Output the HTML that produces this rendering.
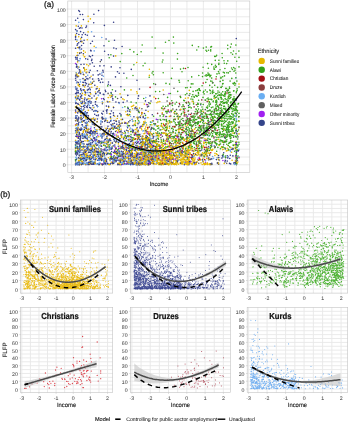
<!DOCTYPE html>
<html><head><meta charset="utf-8"><title>Figure</title>
<style>html,body{margin:0;padding:0;background:#fff;width:350px;height:424px;overflow:hidden}svg{display:block;text-rendering:geometricPrecision}text{font-family:'Liberation Sans', Arial, sans-serif}</style>
</head><body>
<svg width="350" height="424" viewBox="0 0 350 424" font-family="'Liberation Sans', Arial, sans-serif"><rect x="67.8" y="1.0" width="182.00" height="171.30" fill="#fff"/>
<path d="M71.60 1.0V172.3M88.07 1.0V172.3M104.55 1.0V172.3M121.03 1.0V172.3M137.50 1.0V172.3M153.97 1.0V172.3M170.45 1.0V172.3M186.93 1.0V172.3M203.40 1.0V172.3M219.88 1.0V172.3M236.35 1.0V172.3M67.8 164.80H249.8M67.8 157.01H249.8M67.8 149.22H249.8M67.8 141.43H249.8M67.8 133.64H249.8M67.8 125.85H249.8M67.8 118.06H249.8M67.8 110.27H249.8M67.8 102.48H249.8M67.8 94.69H249.8M67.8 86.90H249.8M67.8 79.11H249.8M67.8 71.32H249.8M67.8 63.53H249.8M67.8 55.74H249.8M67.8 47.95H249.8M67.8 40.16H249.8M67.8 32.37H249.8M67.8 24.58H249.8M67.8 16.79H249.8M67.8 9.00H249.8" stroke="#e8e8e8" stroke-width="0.9" fill="none"/>
<rect x="20.5" y="200.0" width="92.20" height="93.10" fill="#fff"/>
<path d="M21.80 200.0V293.1M30.38 200.0V293.1M38.95 200.0V293.1M47.52 200.0V293.1M56.10 200.0V293.1M64.67 200.0V293.1M73.25 200.0V293.1M81.82 200.0V293.1M90.40 200.0V293.1M98.97 200.0V293.1M107.55 200.0V293.1M20.5 289.00H112.7M20.5 284.76H112.7M20.5 280.52H112.7M20.5 276.28H112.7M20.5 272.04H112.7M20.5 267.80H112.7M20.5 263.56H112.7M20.5 259.32H112.7M20.5 255.08H112.7M20.5 250.84H112.7M20.5 246.60H112.7M20.5 242.36H112.7M20.5 238.12H112.7M20.5 233.88H112.7M20.5 229.64H112.7M20.5 225.40H112.7M20.5 221.16H112.7M20.5 216.92H112.7M20.5 212.68H112.7M20.5 208.44H112.7M20.5 204.20H112.7" stroke="#e8e8e8" stroke-width="0.9" fill="none"/>
<rect x="130.3" y="200.0" width="100.30" height="93.10" fill="#fff"/>
<path d="M131.90 200.0V293.1M141.05 200.0V293.1M150.20 200.0V293.1M159.35 200.0V293.1M168.50 200.0V293.1M177.65 200.0V293.1M186.80 200.0V293.1M195.95 200.0V293.1M205.10 200.0V293.1M214.25 200.0V293.1M223.40 200.0V293.1M130.3 289.00H230.6M130.3 284.76H230.6M130.3 280.52H230.6M130.3 276.28H230.6M130.3 272.04H230.6M130.3 267.80H230.6M130.3 263.56H230.6M130.3 259.32H230.6M130.3 255.08H230.6M130.3 250.84H230.6M130.3 246.60H230.6M130.3 242.36H230.6M130.3 238.12H230.6M130.3 233.88H230.6M130.3 229.64H230.6M130.3 225.40H230.6M130.3 221.16H230.6M130.3 216.92H230.6M130.3 212.68H230.6M130.3 208.44H230.6M130.3 204.20H230.6" stroke="#e8e8e8" stroke-width="0.9" fill="none"/>
<rect x="247.2" y="200.0" width="100.50" height="93.10" fill="#fff"/>
<path d="M248.60 200.0V293.1M257.85 200.0V293.1M267.10 200.0V293.1M276.35 200.0V293.1M285.60 200.0V293.1M294.85 200.0V293.1M304.10 200.0V293.1M313.35 200.0V293.1M322.60 200.0V293.1M331.85 200.0V293.1M341.10 200.0V293.1M247.2 289.00H347.7M247.2 284.76H347.7M247.2 280.52H347.7M247.2 276.28H347.7M247.2 272.04H347.7M247.2 267.80H347.7M247.2 263.56H347.7M247.2 259.32H347.7M247.2 255.08H347.7M247.2 250.84H347.7M247.2 246.60H347.7M247.2 242.36H347.7M247.2 238.12H347.7M247.2 233.88H347.7M247.2 229.64H347.7M247.2 225.40H347.7M247.2 221.16H347.7M247.2 216.92H347.7M247.2 212.68H347.7M247.2 208.44H347.7M247.2 204.20H347.7" stroke="#e8e8e8" stroke-width="0.9" fill="none"/>
<rect x="20.5" y="307.4" width="92.20" height="85.20" fill="#fff"/>
<path d="M21.80 307.4V392.6M30.38 307.4V392.6M38.95 307.4V392.6M47.52 307.4V392.6M56.10 307.4V392.6M64.67 307.4V392.6M73.25 307.4V392.6M81.82 307.4V392.6M90.40 307.4V392.6M98.97 307.4V392.6M107.55 307.4V392.6M20.5 389.00H112.7M20.5 385.12H112.7M20.5 381.23H112.7M20.5 377.35H112.7M20.5 373.46H112.7M20.5 369.57H112.7M20.5 365.69H112.7M20.5 361.81H112.7M20.5 357.92H112.7M20.5 354.03H112.7M20.5 350.15H112.7M20.5 346.26H112.7M20.5 342.38H112.7M20.5 338.50H112.7M20.5 334.61H112.7M20.5 330.73H112.7M20.5 326.84H112.7M20.5 322.95H112.7M20.5 319.07H112.7M20.5 315.19H112.7M20.5 311.30H112.7" stroke="#e8e8e8" stroke-width="0.9" fill="none"/>
<rect x="130.3" y="307.4" width="100.30" height="85.20" fill="#fff"/>
<path d="M131.90 307.4V392.6M141.05 307.4V392.6M150.20 307.4V392.6M159.35 307.4V392.6M168.50 307.4V392.6M177.65 307.4V392.6M186.80 307.4V392.6M195.95 307.4V392.6M205.10 307.4V392.6M214.25 307.4V392.6M223.40 307.4V392.6M130.3 389.00H230.6M130.3 385.12H230.6M130.3 381.23H230.6M130.3 377.35H230.6M130.3 373.46H230.6M130.3 369.57H230.6M130.3 365.69H230.6M130.3 361.81H230.6M130.3 357.92H230.6M130.3 354.03H230.6M130.3 350.15H230.6M130.3 346.26H230.6M130.3 342.38H230.6M130.3 338.50H230.6M130.3 334.61H230.6M130.3 330.73H230.6M130.3 326.84H230.6M130.3 322.95H230.6M130.3 319.07H230.6M130.3 315.19H230.6M130.3 311.30H230.6" stroke="#e8e8e8" stroke-width="0.9" fill="none"/>
<rect x="247.2" y="307.4" width="100.50" height="85.20" fill="#fff"/>
<path d="M248.60 307.4V392.6M257.85 307.4V392.6M267.10 307.4V392.6M276.35 307.4V392.6M285.60 307.4V392.6M294.85 307.4V392.6M304.10 307.4V392.6M313.35 307.4V392.6M322.60 307.4V392.6M331.85 307.4V392.6M341.10 307.4V392.6M247.2 389.00H347.7M247.2 385.12H347.7M247.2 381.23H347.7M247.2 377.35H347.7M247.2 373.46H347.7M247.2 369.57H347.7M247.2 365.69H347.7M247.2 361.81H347.7M247.2 357.92H347.7M247.2 354.03H347.7M247.2 350.15H347.7M247.2 346.26H347.7M247.2 342.38H347.7M247.2 338.50H347.7M247.2 334.61H347.7M247.2 330.73H347.7M247.2 326.84H347.7M247.2 322.95H347.7M247.2 319.07H347.7M247.2 315.19H347.7M247.2 311.30H347.7" stroke="#e8e8e8" stroke-width="0.9" fill="none"/>
<path d="M77.1 76.9h0M120.2 156.5h0M85.1 157.2h0M78.3 137.9h0M89.9 96.2h0M78.7 163.1h0M236.3 38.6h0M147.8 160.2h0M138.1 98.5h0M90.9 103.3h0M112.6 128.0h0M140.1 164.0h0M81.6 45.5h0M90.6 50.3h0M88.6 121.2h0M86.6 134.8h0M145.3 161.8h0M146.2 135.6h0M236.1 163.2h0M165.0 160.5h0M227.3 155.7h0M134.7 164.3h0M121.4 151.3h0M104.9 162.9h0M108.3 142.4h0M145.6 148.0h0M85.9 164.7h0M76.8 89.9h0M123.3 160.3h0M78.9 34.5h0M79.4 134.1h0M81.2 98.2h0M170.5 163.0h0M149.3 152.6h0M152.5 151.6h0M90.7 119.3h0M145.9 110.2h0M127.6 111.0h0M95.8 131.6h0M136.9 154.6h0M113.6 161.2h0M107.4 149.9h0M85.4 34.5h0M110.9 156.9h0M94.4 127.8h0M99.6 158.8h0M102.4 103.8h0M101.2 146.0h0M160.4 152.2h0M94.8 85.3h0M83.1 136.1h0M132.5 156.2h0M107.4 134.0h0M125.8 156.9h0M77.7 18.2h0M102.0 164.3h0M77.2 142.1h0M236.0 162.1h0M113.6 22.3h0M78.5 117.2h0M100.2 93.2h0M86.4 150.9h0M227.2 161.1h0M87.3 135.1h0M77.1 45.2h0M218.5 155.5h0M75.7 111.9h0M129.0 163.7h0M109.3 149.0h0M86.2 72.7h0M236.6 152.0h0M81.7 121.6h0M94.3 149.6h0M111.2 131.5h0M90.2 133.3h0M78.6 98.6h0M75.6 78.2h0M132.3 156.1h0M128.4 136.5h0M99.5 129.5h0M94.5 131.6h0M153.7 136.2h0M208.5 159.8h0M151.9 152.7h0M153.1 120.9h0M125.6 122.8h0M146.1 162.7h0M144.8 152.5h0M115.6 91.1h0M85.4 131.0h0M78.3 26.2h0M80.5 96.9h0M115.9 102.0h0M77.1 129.5h0M83.4 115.8h0M106.2 147.3h0M146.2 131.9h0M98.3 156.2h0M81.9 111.1h0M115.5 76.9h0M78.5 141.3h0M90.6 143.8h0M149.2 142.6h0M78.4 124.9h0M78.4 76.5h0M79.4 132.5h0M76.4 136.4h0M78.0 134.8h0M153.9 129.0h0M132.6 163.2h0M78.6 47.6h0M102.9 159.3h0M76.7 163.4h0M110.2 159.1h0M82.2 101.3h0M79.5 111.1h0M83.4 19.6h0M236.5 144.8h0M140.0 160.9h0M140.0 127.9h0M206.5 153.0h0M198.8 145.7h0M87.6 132.1h0M111.6 151.5h0M90.1 163.3h0M87.3 119.2h0M103.3 94.3h0M123.2 102.4h0M80.9 129.2h0M75.6 152.1h0M83.8 153.5h0M75.6 87.0h0M83.8 137.9h0M119.2 129.2h0M119.7 160.8h0M78.8 111.5h0M103.7 160.9h0M172.0 147.3h0M78.0 128.1h0M91.7 139.4h0M146.9 159.5h0M94.7 114.2h0M149.8 155.2h0M115.0 153.0h0M135.3 163.5h0M114.8 145.0h0M124.4 163.5h0M136.5 153.1h0M106.6 161.8h0M100.4 82.4h0M130.8 164.5h0M115.9 160.2h0M113.4 133.4h0M94.2 66.2h0M97.5 106.6h0M86.7 128.2h0M128.7 151.0h0M87.0 157.8h0M132.6 162.5h0M93.8 159.1h0M130.8 141.8h0M115.0 126.3h0M163.5 164.2h0M91.5 119.2h0M136.2 160.7h0M82.7 158.6h0M77.2 136.3h0M234.7 162.8h0M85.2 150.0h0M91.7 157.0h0M102.0 138.0h0M181.9 151.9h0M102.0 75.3h0M97.8 163.8h0M79.5 47.9h0M192.1 159.5h0M79.5 164.6h0M235.9 147.4h0M91.7 133.9h0M122.0 147.1h0M89.4 156.1h0M223.7 152.8h0M84.0 64.3h0M132.2 152.9h0M110.7 140.5h0M112.3 148.0h0M139.5 89.0h0M153.1 159.6h0M116.9 153.5h0M79.2 109.7h0M76.8 143.6h0M76.4 67.1h0M106.4 129.8h0M87.2 163.1h0M88.7 162.3h0M112.6 95.0h0M147.9 137.7h0M90.6 43.5h0M95.6 151.3h0M78.0 144.1h0M108.1 164.3h0M132.6 154.1h0M154.9 123.7h0M112.7 146.3h0M236.5 164.6h0M133.0 125.6h0M85.9 76.7h0M117.8 163.9h0M109.2 122.4h0M105.0 158.3h0M140.8 136.3h0M127.9 130.7h0M196.5 162.4h0M83.2 85.6h0M182.5 147.2h0M90.1 150.7h0M143.3 143.1h0" stroke="#363F88" stroke-width="1.6" stroke-linecap="round" fill="none"/>
<path d="M189.3 156.2h0M151.1 156.6h0M193.0 160.5h0M125.1 159.2h0M83.2 110.2h0M155.9 132.7h0M101.2 151.7h0M163.3 145.9h0M87.9 141.0h0M98.6 164.5h0M146.3 137.7h0M141.1 159.2h0M170.2 157.4h0M125.2 145.8h0M161.0 147.4h0M163.1 158.9h0M88.6 150.1h0M135.1 163.7h0M138.6 161.8h0M101.0 154.1h0M140.5 164.0h0M157.5 144.5h0M176.1 162.3h0M155.5 155.5h0M169.4 163.8h0M148.5 140.6h0M190.7 163.1h0M87.6 125.2h0M152.7 154.0h0M80.5 157.6h0M109.4 113.7h0M167.8 147.2h0M183.9 138.6h0M207.2 155.5h0M101.6 136.4h0M147.4 138.1h0M148.6 163.5h0M179.2 159.6h0M212.4 122.8h0M84.7 86.9h0M144.2 156.0h0M187.1 161.8h0M128.6 163.0h0M94.2 46.4h0M160.5 146.6h0M148.4 163.0h0M140.8 156.3h0M164.8 159.2h0M116.3 158.4h0M167.3 152.0h0M93.5 130.9h0M194.8 164.4h0M79.9 160.6h0M206.2 139.3h0M154.0 97.1h0M140.4 163.3h0M177.1 134.7h0M156.5 160.1h0M87.2 159.4h0M173.2 150.7h0M162.5 145.0h0M77.7 47.5h0M84.2 113.1h0M122.4 123.0h0M142.4 142.6h0M105.7 134.4h0M123.4 153.1h0M93.9 124.0h0M157.2 155.2h0M122.0 162.2h0M146.7 163.4h0M126.4 157.8h0M153.5 153.7h0M182.7 162.1h0M154.7 152.3h0M203.2 146.9h0M167.3 153.6h0M129.1 148.3h0M95.1 144.8h0M163.5 156.1h0M119.8 164.5h0M90.2 145.1h0M142.9 149.1h0M197.5 133.0h0M190.8 148.1h0M88.6 155.6h0M206.5 152.1h0M148.0 154.7h0M204.6 164.8h0M100.5 143.8h0M136.9 164.5h0M227.2 148.3h0M129.5 162.0h0M194.2 162.5h0M177.6 151.1h0M218.5 139.3h0M188.5 163.1h0M145.3 162.0h0M193.1 160.8h0M161.5 149.3h0M178.1 160.3h0M184.8 157.1h0M81.3 142.5h0M145.2 144.9h0M159.9 162.5h0M227.9 150.6h0M166.6 163.4h0M89.4 164.2h0M129.1 161.2h0M159.2 151.5h0M170.7 163.4h0M163.9 163.3h0M142.8 155.0h0M169.7 103.0h0M170.9 155.2h0M191.2 163.7h0M162.3 159.4h0M144.5 150.8h0M109.5 131.5h0M182.4 125.7h0M142.0 158.3h0M137.0 117.3h0M101.5 155.8h0M207.9 164.4h0M232.1 160.2h0M182.5 142.6h0M168.9 133.5h0M97.2 121.5h0M145.9 151.7h0M194.8 162.0h0M155.4 155.1h0M186.8 156.7h0M160.2 154.7h0M111.5 128.4h0M218.1 162.6h0M163.2 109.7h0M155.5 160.4h0M91.1 76.3h0M170.1 156.2h0M155.5 153.4h0M148.2 164.7h0M139.2 162.1h0M141.9 150.5h0M145.8 127.1h0M188.0 151.8h0M209.2 126.3h0M152.6 146.5h0M143.0 156.5h0M131.5 147.1h0M197.9 148.8h0M144.7 133.4h0M210.9 149.6h0M147.5 159.4h0M140.6 162.0h0M143.4 141.9h0M92.5 82.4h0M126.3 145.3h0M146.6 155.9h0M158.0 101.9h0M144.9 146.4h0M142.3 150.7h0M171.6 161.7h0M75.6 106.9h0M170.3 157.7h0M134.3 134.9h0M145.5 157.5h0M193.4 131.4h0M148.4 164.6h0M84.3 56.7h0M167.8 158.9h0M169.5 153.0h0M167.1 155.0h0M144.9 154.6h0M151.8 152.2h0M159.2 155.1h0M181.0 163.2h0M109.9 95.5h0M146.4 164.2h0M104.6 155.5h0M155.8 143.3h0M162.3 144.7h0M77.6 61.9h0M136.2 157.2h0M115.9 120.3h0M154.9 164.0h0M149.7 160.5h0M106.5 133.8h0M150.9 162.8h0M75.6 153.6h0M194.5 163.3h0M131.4 163.4h0M119.0 132.2h0M133.0 140.0h0M155.2 140.7h0M190.0 152.6h0M108.4 157.7h0M160.9 164.5h0M84.3 120.7h0M177.3 155.5h0M146.6 130.1h0M124.7 122.2h0M205.3 123.0h0M91.3 84.1h0M141.2 158.7h0M181.9 153.7h0M226.4 150.9h0M83.6 50.9h0M166.5 154.2h0M111.6 158.9h0M164.3 150.1h0M85.3 116.5h0M172.5 158.1h0M122.8 98.9h0M166.0 160.8h0M85.7 154.4h0M166.2 159.9h0M84.0 74.9h0M153.8 145.2h0M117.7 126.2h0M145.1 163.9h0M172.5 155.4h0M85.0 163.5h0M112.7 136.7h0M236.8 144.6h0M108.5 134.4h0M79.5 105.0h0M162.3 112.7h0M128.6 163.6h0M78.3 85.5h0M203.8 163.4h0M146.7 164.0h0M169.8 155.6h0M123.7 154.4h0M161.0 142.7h0M128.1 126.0h0M90.7 138.9h0M145.0 130.9h0M86.4 69.5h0M205.6 164.1h0M80.5 106.2h0M207.3 163.0h0M176.5 113.3h0M156.5 162.4h0M198.6 144.2h0M173.1 163.9h0M76.2 72.9h0" stroke="#E6B800" stroke-width="1.6" stroke-linecap="round" fill="none"/>
<path d="M76.2 157.1h0M192.6 158.4h0M99.4 163.9h0M230.5 151.6h0M133.9 160.9h0M128.2 160.0h0M122.6 107.5h0M83.0 147.2h0M178.8 160.3h0M83.3 150.9h0M114.8 162.4h0M198.7 154.6h0M75.6 148.0h0M77.1 151.1h0M96.5 143.2h0M76.5 83.0h0M80.0 149.2h0M171.9 147.3h0M228.3 156.5h0M83.3 159.6h0M80.0 110.8h0M236.5 119.9h0M145.8 159.4h0M83.8 105.4h0M210.4 159.2h0M131.5 164.5h0M85.3 159.6h0M102.5 156.0h0M113.8 157.5h0M77.1 31.5h0M79.9 163.0h0M104.6 155.9h0M80.5 159.8h0M125.0 164.5h0M189.9 154.3h0M140.2 153.6h0M84.9 151.9h0M128.9 140.6h0M118.0 142.1h0M154.1 156.6h0M89.6 137.5h0M75.6 151.4h0M156.4 154.5h0M140.1 152.7h0M152.6 163.2h0M141.9 149.4h0M152.1 143.3h0M122.7 162.3h0M82.7 126.2h0M81.6 135.1h0M131.1 148.6h0M130.3 146.0h0M110.7 117.1h0M92.0 151.3h0M77.6 163.3h0M130.4 128.1h0M80.1 79.8h0M81.1 152.2h0M125.2 160.9h0M96.4 130.4h0M94.2 50.9h0M100.8 145.1h0M96.0 47.5h0M95.1 157.7h0M101.8 37.5h0M78.1 158.5h0M95.5 157.3h0M82.0 162.9h0M230.4 150.2h0M128.8 154.7h0M101.8 73.0h0M143.0 161.9h0M109.8 158.5h0M131.8 157.8h0M193.7 163.8h0M149.5 146.2h0M133.7 144.2h0" stroke="#6AA8EE" stroke-width="1.6" stroke-linecap="round" fill="none"/>
<path d="M221.3 87.5h0M236.3 142.4h0M198.5 46.8h0M183.1 106.0h0M209.4 106.1h0M130.6 153.2h0M134.8 139.5h0M165.8 106.5h0M216.5 144.9h0M211.7 64.4h0M233.4 145.5h0M206.8 114.4h0M222.6 147.3h0M228.4 127.4h0M200.9 126.2h0M174.3 137.6h0M162.9 60.0h0M181.2 119.2h0M121.0 116.1h0M166.6 116.5h0M183.0 146.9h0M206.6 128.9h0M186.2 129.4h0M203.2 128.8h0M235.1 113.0h0M228.7 111.6h0M135.5 133.5h0M213.9 67.1h0M136.6 155.5h0M194.0 141.4h0M128.2 125.6h0M141.1 51.7h0M222.0 99.0h0M202.0 117.0h0M163.5 141.1h0M167.1 127.9h0M211.7 78.1h0M232.5 128.7h0M236.6 159.2h0M223.1 103.4h0M230.4 105.5h0M235.1 126.2h0M224.6 108.9h0M169.9 122.7h0M236.0 53.8h0M228.3 104.9h0M215.1 113.9h0M123.4 148.1h0M206.7 128.9h0M219.5 95.3h0M222.6 83.9h0M172.9 146.2h0M173.4 37.1h0M160.1 115.9h0M149.2 140.5h0M209.0 122.1h0M200.8 127.6h0M227.8 114.6h0M219.0 94.9h0M192.1 126.4h0M227.3 134.3h0M229.1 98.7h0M199.0 134.0h0M170.4 93.5h0M228.3 100.9h0M207.5 75.2h0M219.1 73.4h0M211.6 120.9h0M172.2 141.1h0M193.1 117.2h0M235.0 70.3h0M194.3 97.3h0M207.1 98.7h0M228.5 112.3h0M233.1 114.8h0M188.2 120.8h0M207.2 111.1h0M203.6 112.3h0M163.9 128.7h0M231.2 118.4h0M197.9 151.6h0M177.7 91.4h0M219.0 115.7h0M231.0 142.0h0M227.5 119.7h0M176.5 102.2h0M165.5 42.2h0M236.5 91.5h0M225.5 92.8h0M149.2 77.3h0M229.8 126.2h0M120.2 61.6h0M233.9 90.8h0M191.7 76.9h0M191.4 128.8h0M213.6 122.4h0M126.0 136.6h0M183.1 130.6h0M220.2 120.8h0M177.4 59.1h0M238.0 146.0h0M220.8 113.3h0M239.0 66.9h0M232.7 123.6h0M188.0 67.5h0M235.8 130.6h0M212.0 130.9h0M216.2 102.3h0M198.6 100.2h0M191.2 146.1h0M187.0 138.9h0M147.1 137.7h0M121.8 53.6h0M228.4 90.2h0M202.5 76.6h0M223.5 108.5h0M178.4 129.3h0M221.2 97.4h0M163.8 114.9h0M237.2 112.1h0M218.5 71.6h0M162.3 62.0h0M214.4 116.4h0M176.4 155.1h0M198.0 112.3h0M178.6 122.2h0M136.2 102.9h0M202.0 107.0h0M229.0 130.1h0M198.3 123.6h0M222.8 134.3h0M184.5 100.8h0M195.8 90.7h0M231.8 107.9h0M86.5 156.9h0M208.6 124.2h0M202.7 109.3h0M224.6 102.5h0M226.7 102.0h0M188.9 150.8h0M198.2 146.4h0M225.1 96.0h0M225.7 109.9h0M116.8 139.0h0M205.5 113.9h0M100.3 157.7h0M236.9 106.9h0M235.6 156.1h0M198.5 95.2h0M197.0 113.6h0M220.8 120.7h0M223.3 72.2h0M163.2 116.3h0M162.9 127.3h0M208.0 73.1h0M200.1 112.1h0M206.9 114.6h0M228.1 118.6h0M133.8 51.9h0M214.7 147.8h0M171.1 158.4h0M226.4 116.1h0M153.1 128.6h0M196.8 144.5h0M194.9 113.9h0M212.9 118.6h0M158.0 128.6h0M171.8 122.0h0M223.3 126.9h0M210.0 99.2h0M130.0 49.5h0M178.9 126.9h0M103.4 153.1h0M146.2 144.3h0M208.2 75.2h0M214.5 127.1h0M221.7 121.4h0M214.7 85.3h0M190.6 120.7h0M124.4 89.9h0M225.5 156.0h0M191.4 137.9h0M160.0 150.8h0M201.3 129.2h0M228.6 129.9h0M220.5 144.0h0M231.7 113.8h0M216.0 107.1h0M233.0 121.7h0M134.1 148.1h0M157.8 131.9h0M153.2 128.3h0M221.6 105.4h0M175.1 111.4h0M183.7 121.0h0M174.7 111.5h0M235.4 109.1h0M191.4 120.2h0M206.8 123.6h0M212.2 111.2h0M185.7 148.2h0M184.0 130.8h0M200.9 143.7h0M202.1 120.4h0M192.5 131.1h0M218.0 132.6h0M84.8 136.2h0M213.5 126.3h0M187.6 137.4h0M141.1 142.6h0M204.2 130.6h0M212.1 87.2h0M235.8 125.5h0M198.4 92.6h0M197.7 104.2h0M189.9 130.9h0M181.2 114.8h0M197.7 103.3h0M206.6 116.9h0M203.9 125.3h0M229.2 121.6h0M189.6 133.4h0M227.5 110.1h0M109.3 147.5h0M230.8 105.7h0M126.7 78.0h0M221.4 134.5h0" stroke="#3AA51E" stroke-width="1.6" stroke-linecap="round" fill="none"/>
<path d="M205.1 100.0h0M199.6 148.4h0M166.9 113.1h0M130.0 163.9h0M213.0 114.2h0M210.8 164.6h0M174.2 119.3h0M205.3 109.6h0M75.6 120.7h0M189.5 119.0h0M178.8 106.6h0M114.2 152.4h0M135.6 148.4h0M143.4 156.2h0M95.4 151.7h0M193.5 151.1h0M203.7 125.9h0M119.1 122.5h0M112.2 143.0h0M188.2 123.8h0M161.2 164.7h0M177.8 137.0h0M132.9 150.0h0M223.6 144.7h0M213.8 126.4h0M179.4 157.3h0M196.3 143.3h0M137.4 164.7h0M102.7 133.6h0M224.4 113.8h0M148.8 138.0h0M171.0 103.7h0M184.2 159.5h0M178.9 141.8h0M167.5 141.5h0M88.9 152.2h0M166.6 139.0h0M137.9 161.4h0M187.4 119.6h0M151.0 156.1h0M166.7 164.2h0M228.8 127.5h0M188.9 164.8h0M218.6 116.4h0M121.1 154.8h0M172.9 109.1h0M145.3 153.4h0M210.6 159.3h0M150.3 164.3h0M197.6 148.2h0" stroke="#5A5A5A" stroke-width="1.6" stroke-linecap="round" fill="none"/>
<path d="M163.9 132.8h0M112.4 161.9h0M114.7 150.4h0M122.1 156.9h0M75.6 63.5h0M222.9 160.5h0M218.2 118.4h0M133.1 157.1h0M104.3 140.8h0M85.6 152.4h0M168.4 149.5h0M194.8 163.0h0M182.3 151.4h0M164.8 156.2h0M189.0 153.1h0M134.1 143.0h0M123.1 160.6h0M126.0 123.2h0M235.5 160.2h0" stroke="#A020F0" stroke-width="1.6" stroke-linecap="round" fill="none"/>
<path d="M210.7 152.7h0M185.4 68.5h0M171.2 162.3h0M189.0 142.3h0M203.2 83.1h0M206.8 128.2h0M173.2 147.6h0M198.6 159.9h0M188.4 102.1h0M177.7 142.8h0M194.5 136.5h0M191.6 158.2h0M182.9 143.3h0" stroke="#C0101E" stroke-width="1.6" stroke-linecap="round" fill="none"/>
<path d="M190.0 143.9h0M206.9 116.4h0M179.5 125.3h0M194.5 134.9h0M184.2 115.9h0M155.5 123.9h0M180.0 116.6h0M189.9 118.6h0M211.3 124.2h0M150.1 161.7h0M190.2 118.9h0M197.0 150.5h0M203.2 117.6h0M172.7 126.8h0M203.0 117.7h0M189.8 118.2h0M208.9 158.0h0M179.2 128.5h0" stroke="#8E3A40" stroke-width="1.6" stroke-linecap="round" fill="none"/>
<path d="M86.4 159.5h0M107.5 128.2h0M90.8 142.8h0M103.4 98.5h0M101.2 159.1h0M115.6 131.5h0M147.8 143.7h0M124.0 153.7h0M122.8 146.8h0M78.0 150.0h0M129.4 143.6h0M81.2 90.6h0M236.7 160.6h0M135.3 162.1h0M76.6 33.5h0M138.5 134.5h0M109.9 144.9h0M133.5 144.6h0M123.3 153.8h0M85.3 111.8h0M89.9 155.2h0M100.5 129.7h0M97.8 145.0h0M225.7 157.6h0M81.3 117.4h0M87.3 139.1h0M211.8 158.9h0M235.9 157.7h0M133.9 116.7h0M103.9 160.9h0M90.2 131.5h0M143.2 152.6h0M141.7 114.0h0M78.1 148.1h0M114.6 151.9h0M81.3 129.4h0M92.4 62.7h0M75.6 118.1h0M122.4 146.6h0M105.3 90.3h0M95.4 163.3h0M160.6 150.9h0M150.0 95.9h0M90.3 144.9h0M92.3 132.0h0M89.7 133.0h0M92.5 151.9h0M103.3 129.5h0M79.0 161.9h0M98.6 140.9h0M89.0 102.0h0M78.5 104.2h0M96.9 148.8h0M95.7 143.8h0M145.6 156.4h0M79.6 146.5h0M141.9 148.7h0M93.5 118.4h0M111.8 125.7h0M86.7 163.1h0M83.1 85.4h0M90.5 144.5h0M112.9 128.7h0M148.4 159.1h0M76.0 59.1h0M86.9 148.4h0M128.5 156.9h0M116.8 124.3h0M81.8 41.2h0M77.1 130.6h0M236.4 98.7h0M108.0 153.1h0M237.2 158.6h0M102.8 82.3h0M137.9 148.6h0M80.5 144.5h0M75.6 151.0h0M77.7 164.6h0M93.4 156.8h0M80.9 159.7h0M153.2 146.4h0M106.8 154.6h0M82.9 82.2h0M236.3 155.4h0M124.7 131.3h0M132.3 119.5h0M119.5 164.1h0M81.9 158.9h0M126.6 137.0h0M135.3 107.6h0M88.1 163.1h0M75.6 97.4h0M99.1 90.5h0M105.9 150.6h0M98.8 80.6h0M138.8 164.7h0M119.0 121.0h0M97.1 133.4h0M133.0 164.6h0M76.2 124.8h0M98.4 149.1h0M181.0 162.8h0M79.5 108.5h0M100.8 124.1h0M229.5 163.4h0M79.2 143.7h0M188.5 105.5h0M148.9 139.4h0M77.1 57.6h0M80.2 14.5h0M97.1 144.9h0M92.5 55.5h0M78.5 164.2h0M113.8 161.1h0M95.9 93.3h0M131.0 157.1h0M75.6 163.2h0M76.6 159.1h0M148.6 153.7h0M140.9 163.5h0M153.8 141.3h0M135.9 145.2h0M114.6 127.4h0M148.4 152.0h0M83.6 117.1h0M120.2 162.5h0M81.6 95.3h0M221.9 158.1h0M131.9 131.3h0M83.9 143.9h0M84.0 163.5h0M168.8 153.4h0M77.0 134.4h0M82.2 34.8h0M85.0 91.8h0M83.9 144.2h0M79.6 163.2h0M150.1 163.2h0M114.4 123.3h0M105.7 91.6h0M121.1 131.1h0M149.6 127.1h0M99.1 80.2h0M95.4 104.2h0M142.7 136.4h0M89.5 102.4h0M79.5 11.5h0M91.8 163.4h0M93.7 22.7h0M106.5 110.4h0M90.6 143.0h0M77.3 163.0h0M120.9 147.1h0M225.0 161.9h0M75.8 159.8h0M123.5 138.9h0M176.1 145.1h0M116.3 151.6h0M118.6 156.2h0M153.4 163.3h0M118.6 125.3h0M139.7 164.7h0M88.0 164.6h0M80.6 112.7h0M238.0 151.1h0M188.9 135.6h0M79.9 147.6h0M75.6 36.4h0M99.9 74.1h0M89.1 156.7h0M218.6 164.2h0M90.2 135.8h0M91.9 59.2h0M84.7 107.3h0M103.2 72.1h0M110.8 153.7h0M77.7 112.9h0M88.8 95.5h0M147.3 136.5h0M93.9 152.4h0M151.8 128.3h0M129.4 125.7h0M122.3 155.9h0M137.1 127.8h0M91.1 154.1h0M108.0 126.3h0M85.8 150.9h0M77.0 115.8h0M115.8 157.8h0M111.1 92.6h0M112.0 136.4h0M80.0 146.6h0M86.9 155.4h0M194.8 162.9h0M86.8 106.6h0M136.7 143.5h0M144.6 155.8h0M116.0 160.5h0M111.5 158.8h0M152.1 145.9h0M93.5 163.0h0M133.6 159.6h0M85.9 160.7h0M92.3 122.2h0M76.7 66.4h0M78.3 96.2h0M109.1 146.8h0M130.0 161.1h0M118.5 137.3h0M76.6 92.2h0M122.5 119.4h0M126.8 163.8h0M98.9 158.4h0M125.1 156.0h0M84.4 137.1h0M112.9 100.1h0M87.5 105.7h0M138.0 131.6h0" stroke="#363F88" stroke-width="1.6" stroke-linecap="round" fill="none"/>
<path d="M183.3 159.6h0M110.3 139.0h0M145.9 158.8h0M156.4 147.4h0M150.4 132.6h0M144.5 148.9h0M101.9 157.0h0M118.9 140.3h0M157.4 152.5h0M152.6 163.6h0M198.9 140.4h0M172.3 163.8h0M88.5 118.0h0M182.9 159.0h0M154.4 141.3h0M158.1 154.1h0M116.9 137.1h0M134.8 124.9h0M184.1 159.9h0M86.8 64.6h0M140.7 143.6h0M236.5 164.6h0M145.0 121.3h0M200.6 159.5h0M97.7 112.0h0M81.2 141.2h0M184.2 113.4h0M150.2 131.5h0M167.9 150.1h0M174.2 146.8h0M147.2 141.2h0M77.5 52.7h0M186.8 154.7h0M126.8 151.2h0M221.7 124.7h0M235.2 147.4h0M182.3 129.6h0M165.4 140.5h0M131.4 152.5h0M84.5 79.5h0M143.6 164.2h0M208.0 153.1h0M152.9 158.6h0M125.4 146.3h0M114.6 153.3h0M235.8 157.1h0M169.8 157.3h0M88.9 140.8h0M163.3 157.5h0M180.1 163.0h0M186.7 140.2h0M96.7 137.7h0M188.8 163.0h0M192.9 159.7h0M183.6 159.5h0M98.3 148.7h0M86.8 129.8h0M164.7 163.4h0M219.3 141.3h0M182.3 163.6h0M153.0 156.5h0M185.9 160.6h0M88.3 98.8h0M79.2 163.5h0M167.0 144.2h0M148.5 152.6h0M150.8 163.3h0M82.1 155.0h0M152.1 154.9h0M156.8 146.6h0M83.7 138.0h0M178.5 117.7h0M114.2 160.4h0M165.1 155.0h0M131.5 106.6h0M115.8 149.8h0M168.4 164.7h0M187.4 153.2h0M185.9 162.5h0M176.3 138.8h0M195.7 164.4h0M76.4 107.9h0M162.8 154.2h0M176.6 151.9h0M145.2 159.5h0M173.6 154.1h0M151.8 133.8h0M170.5 151.3h0M136.6 128.9h0M190.4 150.0h0M101.3 163.7h0M138.9 112.0h0M148.8 155.1h0M181.5 163.3h0M109.2 128.7h0M75.6 128.7h0M183.7 149.0h0M106.0 128.4h0M96.5 158.6h0M143.2 155.3h0M125.3 138.6h0M98.7 147.6h0M78.6 76.0h0M163.1 164.8h0M165.4 157.2h0M184.7 155.4h0M80.4 135.0h0M159.5 150.5h0M194.5 155.6h0M146.9 160.1h0M193.8 151.5h0M197.0 152.7h0M95.4 92.0h0M162.0 156.7h0M166.4 164.3h0M196.5 155.1h0M222.0 146.7h0M163.4 152.1h0M133.2 143.9h0M170.5 150.2h0M162.3 133.1h0M166.8 130.3h0M162.4 149.7h0M119.9 146.1h0M185.6 160.3h0M138.6 161.6h0M187.8 150.6h0M208.3 101.1h0M189.8 135.2h0M77.5 98.3h0M147.1 160.6h0M124.0 137.5h0M76.3 120.0h0M121.4 135.4h0M188.0 156.9h0M175.1 156.1h0M82.4 93.4h0M182.5 138.8h0M153.8 142.7h0M204.1 142.9h0M144.4 139.0h0M171.6 164.1h0M160.8 163.2h0M133.6 147.5h0M137.3 93.3h0M175.5 141.7h0M180.9 154.6h0M126.0 151.3h0M228.1 145.6h0M178.2 143.2h0M164.3 143.6h0M144.5 162.8h0M81.1 119.1h0M90.5 134.7h0M187.6 163.1h0M183.8 162.0h0M169.4 128.1h0M127.5 136.2h0M134.8 147.8h0M132.8 106.1h0M165.2 143.2h0M158.3 146.2h0M102.1 118.4h0M140.6 159.4h0M77.1 98.2h0M95.4 119.1h0M84.7 158.0h0M130.3 161.3h0M180.3 128.9h0M152.8 161.6h0M158.1 138.4h0M147.9 158.1h0M130.0 146.7h0M86.3 163.3h0M204.9 138.6h0M181.3 155.8h0M161.3 154.7h0M137.4 153.3h0M158.4 154.1h0M134.2 124.3h0M145.0 128.9h0M140.8 115.8h0M102.1 164.7h0M200.1 154.2h0M163.7 158.5h0M152.0 162.9h0M135.1 160.6h0M156.7 126.0h0M76.5 148.0h0M178.9 131.4h0M111.4 95.7h0M141.9 113.7h0M178.6 140.7h0M164.5 158.9h0M83.2 132.6h0M101.1 160.3h0M190.8 149.8h0M116.7 135.9h0M91.8 87.2h0M214.2 117.2h0M195.0 164.5h0M164.7 155.5h0M178.1 129.8h0M152.3 136.0h0M170.6 151.5h0M87.9 157.8h0M149.4 164.5h0M170.7 134.2h0M89.1 149.5h0M185.3 145.7h0M125.6 153.1h0M147.7 161.7h0M175.2 152.6h0M128.4 131.8h0M85.5 95.0h0M196.3 163.9h0M233.5 127.2h0M159.1 151.5h0M152.1 159.8h0M128.8 115.4h0M219.2 145.2h0M163.3 155.7h0M88.6 65.7h0M135.1 158.8h0M151.1 144.5h0M134.9 163.0h0M79.4 143.3h0M100.0 145.8h0M133.7 105.2h0M151.5 158.1h0M163.4 150.1h0M75.6 140.4h0M113.4 107.1h0M150.8 146.9h0M187.6 149.9h0M94.2 138.5h0M81.9 155.7h0M161.6 107.9h0M194.5 160.7h0M222.7 149.6h0M160.8 154.1h0M181.1 156.8h0M147.0 156.4h0M119.5 152.4h0M160.5 162.7h0M157.9 156.7h0" stroke="#E6B800" stroke-width="1.6" stroke-linecap="round" fill="none"/>
<path d="M93.7 154.2h0M75.8 157.7h0M86.3 126.4h0M110.0 164.2h0M104.8 161.7h0M101.7 160.2h0M110.6 154.1h0M138.0 161.6h0M144.1 164.6h0M201.6 116.4h0M105.1 158.1h0M103.5 142.0h0M130.9 131.2h0M113.0 126.1h0M127.4 162.7h0M108.1 142.0h0M143.7 161.1h0M176.3 162.7h0M87.8 158.0h0M139.4 150.0h0M76.1 128.5h0M84.4 80.5h0M98.4 95.4h0M150.8 149.1h0M79.3 149.6h0M116.9 155.8h0M109.7 139.9h0M138.5 148.2h0M124.2 163.7h0M171.1 161.1h0M78.8 22.4h0M157.2 144.9h0M113.1 135.9h0M121.8 164.3h0M92.9 162.2h0M85.5 135.2h0M111.3 155.7h0M82.7 129.1h0M90.7 82.1h0M96.4 164.0h0M81.6 164.2h0M92.3 146.6h0M204.7 157.0h0M107.6 153.8h0M100.7 135.7h0M149.1 160.7h0M119.2 103.5h0M85.9 125.9h0M166.3 160.7h0M145.2 157.6h0M105.3 148.9h0M100.1 134.0h0M136.9 155.9h0M83.4 116.2h0M76.8 95.8h0M86.0 158.8h0M141.6 163.5h0M143.5 164.5h0M79.5 60.8h0M78.2 97.9h0M181.9 148.0h0M132.2 119.5h0M236.0 161.1h0M77.1 153.4h0M87.7 75.3h0M186.6 142.9h0M227.5 130.1h0M100.8 121.9h0M100.1 145.3h0M146.7 164.5h0M149.0 160.0h0M77.9 125.9h0M80.2 122.2h0M106.1 164.7h0M149.8 156.5h0M140.4 162.1h0M91.0 127.1h0M125.5 147.5h0" stroke="#6AA8EE" stroke-width="1.6" stroke-linecap="round" fill="none"/>
<path d="M194.2 143.8h0M91.2 150.4h0M230.0 92.3h0M191.0 99.1h0M157.9 138.3h0M218.2 98.3h0M189.7 125.2h0M149.5 152.2h0M184.3 140.3h0M215.7 121.0h0M178.5 132.7h0M217.8 95.6h0M119.3 155.7h0M221.7 147.1h0M180.2 149.5h0M141.5 145.7h0M207.9 130.4h0M210.9 75.2h0M172.4 105.4h0M237.0 147.4h0M205.4 133.1h0M170.0 137.9h0M233.2 108.9h0M188.2 134.6h0M211.8 99.6h0M155.2 151.1h0M209.4 139.3h0M210.7 147.5h0M224.6 94.2h0M170.0 142.8h0M233.5 105.2h0M229.9 98.5h0M191.2 107.9h0M212.0 81.2h0M176.7 141.3h0M221.1 97.7h0M224.7 137.4h0M227.7 45.3h0M226.1 141.4h0M203.1 67.3h0M189.9 139.8h0M227.0 113.1h0M224.3 63.3h0M234.5 115.6h0M233.7 67.6h0M230.8 134.1h0M219.0 129.7h0M201.2 130.9h0M166.8 121.6h0M147.8 146.8h0M218.2 106.5h0M227.4 127.3h0M230.1 81.1h0M194.0 96.5h0M150.3 145.3h0M169.2 120.5h0M225.2 126.5h0M179.0 80.4h0M173.1 138.3h0M213.8 92.3h0M224.1 142.2h0M207.2 155.6h0M182.0 106.7h0M220.9 78.2h0M178.1 124.5h0M237.5 131.5h0M204.0 123.6h0M230.8 124.2h0M198.8 75.5h0M217.8 93.0h0M158.4 98.5h0M206.1 127.6h0M209.9 124.2h0M224.9 113.4h0M221.6 124.3h0M214.4 110.9h0M212.5 82.9h0M192.2 136.2h0M123.9 158.5h0M200.6 121.6h0M223.2 129.1h0M127.2 123.7h0M224.5 75.9h0M75.6 152.0h0M230.8 97.4h0M210.4 93.2h0M226.0 118.4h0M215.6 132.7h0M226.7 63.6h0M225.8 137.0h0M214.2 109.3h0M216.9 139.6h0M235.9 45.1h0M193.8 116.1h0M159.5 159.1h0M220.9 101.9h0M194.2 117.9h0M216.0 100.6h0M226.1 99.6h0M167.6 97.4h0M204.8 135.6h0M164.9 147.9h0M224.0 60.7h0M218.4 109.5h0M196.8 50.0h0M155.8 130.1h0M191.4 127.0h0M228.0 100.6h0M202.0 154.4h0M170.0 121.6h0M234.6 151.2h0M186.4 122.2h0M212.1 125.0h0M219.1 113.8h0M220.9 112.2h0M195.3 123.2h0M193.0 116.1h0M229.6 142.6h0M216.0 133.4h0M148.5 143.8h0M131.7 146.1h0M113.5 129.1h0M227.7 48.8h0M239.0 113.4h0M215.8 128.2h0M233.1 111.0h0M226.2 88.6h0M160.9 129.7h0M218.6 107.8h0M207.6 107.8h0M108.4 145.0h0M230.9 124.3h0M213.3 118.3h0M225.4 138.6h0M229.3 96.3h0M183.1 104.8h0M175.2 122.9h0M188.8 141.1h0M236.7 121.2h0M204.2 129.1h0M223.7 130.6h0M200.9 141.1h0M223.8 106.4h0M206.0 50.2h0M236.0 116.6h0M210.1 75.9h0M166.0 83.4h0M163.1 143.6h0M81.3 146.9h0M185.9 129.2h0M197.3 111.9h0M209.1 143.8h0M234.9 57.3h0M215.9 101.7h0M220.9 87.3h0M198.5 104.1h0M152.1 73.1h0M229.3 132.0h0M221.6 134.6h0M188.9 124.1h0M199.8 132.5h0M118.4 149.5h0M181.6 113.6h0M187.5 159.1h0M232.6 54.2h0M200.8 137.9h0M207.0 148.2h0M183.8 100.4h0M228.1 116.6h0M178.6 136.5h0M208.6 74.2h0M202.0 125.5h0M161.3 147.7h0M193.9 119.2h0M230.0 134.5h0M177.0 145.7h0M77.5 146.9h0M186.4 133.7h0M189.2 128.8h0M229.8 136.4h0M224.6 116.8h0M192.9 83.9h0M181.7 132.8h0M219.7 120.4h0M226.6 112.1h0M185.4 123.6h0M233.7 108.5h0M159.4 133.4h0M188.8 102.8h0M186.9 117.5h0M214.2 98.2h0M209.3 74.3h0M227.0 124.6h0M228.4 106.7h0M223.0 121.4h0M197.2 148.1h0M205.8 82.4h0M223.5 112.4h0M213.3 136.3h0M226.8 72.7h0M142.2 45.0h0M131.0 134.7h0M226.8 131.3h0M208.9 74.9h0M108.9 41.3h0M234.9 85.3h0M190.9 142.8h0M193.1 136.3h0M197.6 137.8h0M238.0 156.0h0M200.1 115.7h0M233.0 109.2h0M224.9 147.9h0M216.3 66.5h0M212.5 133.8h0M222.4 128.9h0M183.5 109.3h0M236.4 144.3h0M190.7 135.4h0M218.6 127.5h0M168.1 136.1h0M224.8 137.1h0M218.9 63.2h0M221.2 93.2h0M235.4 144.7h0M204.4 116.2h0M205.6 142.4h0M214.2 96.7h0" stroke="#3AA51E" stroke-width="1.6" stroke-linecap="round" fill="none"/>
<path d="M182.3 154.0h0M116.5 141.2h0M163.4 156.4h0M164.1 108.8h0M204.6 149.4h0M172.9 158.8h0M175.6 138.9h0M211.9 164.4h0M127.2 147.9h0M210.7 113.6h0M158.7 141.8h0M181.0 152.4h0M175.6 146.3h0M140.7 150.2h0M203.5 121.3h0M169.3 159.3h0M118.1 150.5h0M131.6 150.6h0M181.8 153.4h0M165.9 162.4h0M137.7 118.7h0M143.2 116.4h0M135.3 155.3h0M176.7 157.7h0M174.6 113.7h0M135.9 132.3h0M83.6 157.8h0M167.0 157.5h0M130.8 163.0h0M173.8 155.2h0M200.5 150.7h0M168.2 138.5h0M146.2 137.6h0M143.3 149.0h0M214.2 141.2h0M153.3 158.6h0M167.3 153.5h0M147.5 106.9h0M163.5 139.2h0M212.4 131.1h0M124.0 163.0h0M97.0 122.0h0M158.4 158.2h0M213.0 82.7h0M169.3 158.1h0M167.1 160.5h0M191.4 154.8h0M201.6 113.3h0M135.6 142.5h0M225.3 148.9h0" stroke="#5A5A5A" stroke-width="1.6" stroke-linecap="round" fill="none"/>
<path d="M236.8 150.3h0M165.6 116.5h0M186.7 142.8h0M176.3 136.6h0M148.1 163.6h0M123.0 164.4h0M141.7 146.8h0M98.0 151.5h0M119.1 160.3h0M199.6 136.9h0M149.6 155.2h0M186.0 135.5h0M138.3 141.7h0M107.0 141.1h0M191.9 116.5h0M147.3 133.4h0M92.2 163.9h0M140.3 126.8h0M162.8 162.6h0" stroke="#A020F0" stroke-width="1.6" stroke-linecap="round" fill="none"/>
<path d="M147.1 161.3h0M130.9 155.5h0M179.4 103.6h0M239.0 157.7h0M191.5 154.8h0M171.0 159.7h0M212.1 142.1h0M141.9 112.5h0M184.7 112.3h0M196.6 145.9h0M163.7 124.6h0M169.4 146.7h0M182.7 148.6h0" stroke="#C0101E" stroke-width="1.6" stroke-linecap="round" fill="none"/>
<path d="M180.4 140.0h0M187.3 138.5h0M205.4 134.1h0M170.8 116.1h0M187.9 161.7h0M191.6 131.7h0M205.5 150.9h0M204.0 134.5h0M157.6 113.4h0M207.0 132.4h0M239.0 127.8h0M188.1 111.2h0M174.0 126.6h0M216.3 108.9h0M194.0 113.8h0M213.1 131.1h0M177.5 136.6h0M192.8 125.8h0" stroke="#8E3A40" stroke-width="1.6" stroke-linecap="round" fill="none"/>
<path d="M93.5 138.1h0M204.0 133.4h0M105.9 163.2h0M76.0 102.7h0M81.5 141.9h0M132.5 148.4h0M77.6 43.9h0M77.1 82.0h0M193.6 162.2h0M121.4 159.8h0M79.3 69.7h0M76.2 163.8h0M75.6 37.8h0M94.0 133.8h0M80.0 71.6h0M75.6 164.8h0M236.2 150.6h0M208.3 148.4h0M88.1 129.7h0M127.1 101.0h0M108.5 82.0h0M143.9 151.4h0M111.1 124.5h0M82.9 154.2h0M81.5 161.6h0M77.1 146.3h0M85.6 82.8h0M80.6 130.3h0M150.5 152.4h0M88.1 104.0h0M83.7 82.5h0M236.0 162.7h0M150.4 143.0h0M176.5 161.1h0M102.6 117.2h0M127.6 114.4h0M85.3 137.4h0M108.3 84.3h0M141.5 149.7h0M142.2 163.0h0M225.3 160.4h0M136.9 164.4h0M183.2 148.5h0M149.8 141.8h0M130.5 164.6h0M120.0 67.8h0M130.1 155.9h0M86.9 78.5h0M97.2 152.5h0M102.6 136.4h0M89.2 152.2h0M101.3 135.8h0M100.6 159.0h0M153.1 160.2h0M135.1 150.6h0M80.6 136.4h0M87.4 90.1h0M92.5 142.6h0M84.1 115.1h0M148.3 154.9h0M191.5 157.3h0M81.1 128.1h0M92.8 149.4h0M84.4 120.5h0M140.5 142.3h0M101.7 79.1h0M236.8 163.3h0M85.2 85.3h0M130.2 158.9h0M141.7 154.6h0M209.1 124.8h0M118.2 163.9h0M192.9 156.9h0M82.2 118.7h0M138.1 138.4h0M141.2 153.8h0M113.5 133.8h0M207.6 135.0h0M189.3 163.1h0M98.2 74.9h0M177.4 162.1h0M122.6 152.3h0M88.9 84.4h0M151.0 129.2h0M144.5 122.7h0M140.0 164.7h0M97.6 160.3h0M201.7 150.0h0M152.4 149.9h0M75.9 103.5h0M129.0 135.5h0M138.6 95.9h0M103.9 94.6h0M93.0 136.0h0M132.7 129.9h0M187.4 157.7h0M102.2 121.9h0M79.4 133.7h0M90.0 132.4h0M80.5 142.7h0M88.8 129.4h0M77.5 148.4h0M77.9 92.9h0M75.9 88.9h0M236.8 133.7h0M133.7 157.2h0M91.1 130.9h0M96.2 89.0h0M121.1 164.8h0M143.7 155.7h0M75.9 142.0h0M113.4 152.5h0M96.2 156.3h0M139.3 147.5h0M77.6 98.3h0M117.5 71.7h0M87.0 122.5h0M126.5 138.1h0M200.1 131.9h0M89.8 88.1h0M81.1 119.7h0M100.6 154.8h0M121.2 134.9h0M93.4 155.9h0M143.8 124.6h0M128.1 163.9h0M76.1 118.1h0M109.9 153.9h0M183.2 152.0h0M102.5 118.8h0M113.6 157.0h0M126.6 150.2h0M236.1 132.0h0M105.4 130.7h0M148.6 106.3h0M83.0 121.0h0M82.8 138.3h0M138.2 130.3h0M78.5 108.0h0M87.7 59.2h0M101.7 113.2h0M80.4 27.7h0M92.1 133.7h0M138.9 163.3h0M79.0 143.1h0M116.2 121.2h0M92.2 109.6h0M150.7 156.8h0M161.8 163.8h0M90.6 144.4h0M78.3 151.4h0M79.8 72.0h0M76.2 117.9h0M92.4 148.1h0M224.8 137.6h0M85.2 122.8h0M105.1 163.8h0M89.8 101.1h0M99.0 159.9h0M87.2 107.5h0M91.5 146.4h0M128.4 156.0h0M79.6 155.7h0M77.9 141.4h0M77.9 130.1h0M236.8 142.3h0M80.8 73.7h0M83.0 164.1h0M85.7 92.8h0M122.4 163.8h0M137.7 131.5h0M152.5 161.6h0M108.2 134.9h0M129.7 150.0h0M106.7 150.7h0M100.5 156.2h0M86.5 83.7h0M169.5 136.3h0M80.9 115.6h0M83.6 32.7h0M76.1 75.4h0M109.8 147.3h0M91.7 164.1h0M140.5 158.1h0M120.5 131.7h0M76.0 136.3h0M78.2 164.7h0M84.1 40.3h0M81.2 52.6h0M118.9 150.8h0M159.8 148.5h0M190.1 120.4h0M92.3 140.4h0M79.7 143.8h0M145.2 154.9h0M82.3 124.7h0M206.7 131.5h0M85.5 127.5h0M98.7 152.6h0M149.1 164.5h0M84.8 150.3h0M222.9 156.9h0M141.7 142.0h0M103.0 164.4h0M77.3 59.1h0M138.0 157.2h0M78.4 123.9h0M208.3 158.2h0M96.8 136.7h0M140.9 150.3h0M118.4 151.8h0M77.7 103.7h0M93.6 145.2h0M110.5 113.8h0M101.5 159.4h0M101.9 156.4h0M77.0 142.7h0M101.4 136.6h0" stroke="#363F88" stroke-width="1.6" stroke-linecap="round" fill="none"/>
<path d="M127.3 157.9h0M114.6 116.2h0M177.4 155.3h0M154.7 157.6h0M169.4 153.7h0M222.7 142.3h0M212.8 149.4h0M190.3 145.3h0M191.8 163.6h0M236.2 141.7h0M169.5 155.0h0M148.2 111.5h0M172.0 156.1h0M142.7 160.4h0M138.9 163.3h0M117.9 151.2h0M174.6 164.5h0M126.7 157.8h0M206.7 158.4h0M152.5 142.5h0M176.7 135.5h0M188.7 149.3h0M157.2 153.7h0M149.6 147.0h0M147.5 139.7h0M115.9 157.7h0M107.1 101.2h0M149.6 163.3h0M210.4 143.7h0M86.1 131.0h0M95.0 134.7h0M165.1 133.0h0M87.2 140.7h0M137.3 148.8h0M77.4 134.9h0M178.2 157.0h0M112.7 163.8h0M198.5 154.1h0M185.7 163.7h0M176.6 161.3h0M157.9 152.6h0M186.7 152.0h0M178.1 115.0h0M151.8 159.7h0M146.6 124.9h0M204.1 164.1h0M216.5 153.9h0M102.6 102.4h0M109.7 101.7h0M123.8 155.9h0M198.0 146.5h0M126.5 114.7h0M140.9 158.5h0M159.8 101.6h0M103.2 155.1h0M164.1 160.9h0M141.7 129.7h0M128.1 154.8h0M144.9 164.4h0M161.4 161.8h0M189.3 90.4h0M140.5 146.5h0M155.9 140.3h0M77.9 121.1h0M198.9 152.2h0M83.6 145.0h0M131.8 157.5h0M197.5 140.8h0M171.8 110.4h0M217.3 154.8h0M167.3 163.9h0M175.4 146.3h0M109.1 130.0h0M228.6 96.5h0M160.5 154.4h0M147.6 147.8h0M142.7 126.4h0M94.8 146.3h0M117.7 152.0h0M131.8 161.1h0M144.9 156.3h0M93.3 154.2h0M145.9 164.2h0M158.7 135.4h0M175.6 164.2h0M147.8 150.3h0M92.0 163.0h0M142.3 163.0h0M131.6 160.4h0M105.6 160.8h0M88.7 129.0h0M157.7 149.2h0M180.4 142.9h0M92.4 162.9h0M161.5 140.7h0M112.2 146.6h0M158.5 145.0h0M166.1 147.4h0M158.5 153.5h0M217.0 135.7h0M133.1 158.8h0M175.1 160.1h0M95.9 150.0h0M236.8 163.6h0M147.7 164.8h0M87.8 131.2h0M193.0 161.9h0M161.1 161.8h0M175.6 158.4h0M84.3 103.2h0M127.4 162.1h0M199.9 126.2h0M158.5 125.8h0M123.8 133.3h0M162.1 152.3h0M131.4 147.4h0M83.6 130.6h0M87.2 124.0h0M171.6 138.8h0M125.4 159.5h0M147.9 117.6h0M136.2 157.9h0M234.2 133.0h0M141.4 148.4h0M75.6 163.4h0M203.0 111.2h0M83.2 131.4h0M80.8 101.6h0M137.5 139.4h0M156.0 157.4h0M198.1 153.2h0M143.5 164.0h0M86.1 130.7h0M136.1 151.5h0M84.9 94.6h0M197.8 145.7h0M131.7 159.8h0M192.5 159.3h0M183.0 157.1h0M120.0 155.7h0M156.1 156.2h0M201.2 120.1h0M76.1 133.0h0M135.5 133.7h0M187.6 140.2h0M173.1 159.3h0M165.0 143.6h0M173.2 157.4h0M117.3 118.5h0M75.6 148.8h0M156.9 163.0h0M168.6 164.5h0M156.3 141.1h0M186.2 159.5h0M139.4 164.6h0M207.1 164.4h0M160.0 157.0h0M107.6 146.2h0M108.2 97.6h0M149.4 159.7h0M86.8 154.3h0M185.3 144.2h0M104.9 142.4h0M117.8 129.3h0M236.8 163.3h0M168.5 161.1h0M174.0 149.0h0M166.7 157.4h0M188.0 141.3h0M234.7 145.0h0M75.6 144.3h0M125.0 140.2h0M189.6 154.6h0M146.3 163.5h0M194.8 159.5h0M178.7 151.6h0M84.0 163.8h0M173.4 132.5h0M161.3 164.1h0M203.9 143.6h0M144.1 153.6h0M184.6 145.5h0M188.6 160.0h0M165.5 159.0h0M82.5 161.3h0M169.7 156.8h0M131.1 131.7h0M129.9 152.7h0M131.7 151.4h0M132.6 108.8h0M162.5 155.7h0M138.5 150.4h0M107.3 140.6h0M144.8 151.5h0M221.8 119.2h0M188.1 164.5h0M120.1 93.9h0M116.5 135.0h0M158.4 155.2h0M187.6 125.1h0M119.3 163.0h0M108.5 141.1h0M85.7 117.3h0M143.2 153.1h0M92.1 118.9h0M80.6 143.8h0M150.7 159.5h0M176.5 162.5h0M141.4 128.3h0M165.4 163.3h0M162.6 155.3h0M181.2 163.9h0M214.7 98.6h0M156.3 135.2h0M115.9 142.8h0M130.4 112.0h0M90.1 163.7h0M103.7 142.3h0M119.4 153.8h0M180.0 144.4h0M78.1 149.3h0M141.9 151.3h0M118.5 130.1h0M166.4 155.9h0M134.1 160.1h0M149.2 150.2h0M237.9 162.0h0M110.4 143.1h0M155.4 142.3h0M192.1 164.4h0M157.7 160.7h0M197.8 146.3h0M160.9 163.9h0M165.6 155.4h0M125.2 143.4h0M188.7 157.9h0M182.9 129.9h0M142.4 153.0h0M82.2 164.0h0M154.9 152.6h0M193.5 154.2h0M159.3 151.7h0M192.1 129.7h0M205.2 164.0h0M82.3 103.7h0M150.8 159.8h0M141.9 157.6h0" stroke="#E6B800" stroke-width="1.6" stroke-linecap="round" fill="none"/>
<path d="M93.3 163.3h0M81.1 155.1h0M84.4 112.4h0M92.2 152.2h0M121.2 160.3h0M78.4 90.6h0M91.6 31.8h0M101.9 136.6h0M89.1 155.8h0M82.1 110.1h0M156.9 154.1h0M164.5 163.7h0M97.1 130.8h0M102.3 101.6h0M133.1 137.9h0M110.4 160.5h0M82.5 156.9h0M86.5 125.9h0M83.7 137.5h0M212.6 156.5h0M199.3 158.9h0M134.7 134.1h0M123.0 159.8h0M85.9 103.5h0M130.7 144.5h0M178.8 155.1h0M102.8 159.0h0M146.2 155.8h0M156.1 136.8h0M107.8 150.2h0M236.1 150.3h0M169.6 163.4h0M154.1 158.4h0M235.9 78.0h0M142.1 154.6h0M90.0 143.0h0M155.7 152.0h0M139.4 146.7h0M128.2 132.8h0M132.0 129.0h0M144.2 145.0h0M151.1 153.9h0M80.2 58.5h0M151.3 157.6h0M81.5 122.2h0M87.3 146.8h0M236.1 118.5h0M108.4 134.3h0M129.0 138.0h0M149.1 162.5h0M87.0 162.7h0M128.9 153.7h0M126.2 164.3h0M109.3 147.3h0M145.0 147.8h0M88.1 158.9h0M117.7 157.3h0M78.7 131.7h0M86.4 117.0h0M125.3 149.3h0M93.3 149.6h0M88.7 151.1h0M104.2 133.5h0M135.1 156.3h0M127.3 126.5h0M79.9 148.0h0M105.0 143.5h0M120.1 160.9h0M77.9 151.7h0M151.0 157.8h0M143.4 151.4h0M137.9 148.6h0M205.5 160.4h0M124.4 143.9h0M234.3 164.4h0M156.7 163.4h0M129.4 161.7h0M162.3 154.2h0" stroke="#6AA8EE" stroke-width="1.6" stroke-linecap="round" fill="none"/>
<path d="M190.0 107.0h0M212.4 117.0h0M182.0 125.1h0M199.5 90.3h0M193.4 139.4h0M175.8 148.2h0M231.4 135.2h0M235.9 108.2h0M129.7 114.5h0M166.4 133.5h0M208.5 50.2h0M157.6 135.8h0M216.3 76.7h0M208.6 142.1h0M173.3 129.3h0M217.3 113.5h0M158.4 153.5h0M215.3 117.2h0M193.1 101.3h0M214.0 68.9h0M219.0 134.8h0M189.7 104.1h0M235.6 108.6h0M226.7 129.6h0M196.7 119.5h0M183.5 68.4h0M165.5 127.6h0M235.1 106.9h0M233.2 145.0h0M216.2 134.0h0M232.4 103.3h0M178.8 140.8h0M216.9 137.5h0M232.2 128.9h0M190.5 125.2h0M143.7 98.5h0M197.4 110.8h0M225.8 102.4h0M220.0 141.8h0M221.3 118.4h0M171.8 100.8h0M147.2 140.3h0M183.2 137.5h0M183.4 108.7h0M237.1 88.7h0M211.5 46.6h0M172.5 159.0h0M236.3 161.2h0M214.4 95.9h0M198.9 142.8h0M207.9 120.6h0M215.8 93.8h0M199.1 117.9h0M143.8 152.9h0M190.2 136.5h0M227.1 136.5h0M230.0 119.1h0M199.1 127.8h0M142.8 124.5h0M205.4 90.0h0M171.0 134.6h0M207.3 108.1h0M217.0 143.9h0M220.2 81.4h0M210.1 110.2h0M171.7 128.5h0M231.5 129.4h0M207.7 140.2h0M192.8 99.2h0M219.6 135.3h0M213.5 126.3h0M224.9 115.8h0M138.6 120.7h0M167.0 111.4h0M218.0 110.8h0M217.9 147.4h0M225.3 91.7h0M125.3 132.9h0M235.4 104.7h0M235.8 73.0h0M161.5 151.4h0M197.2 90.4h0M221.8 109.9h0M233.8 104.5h0M211.6 114.6h0M235.1 99.0h0M175.1 140.7h0M169.6 84.1h0M109.3 147.0h0M206.9 142.7h0M185.4 123.0h0M192.8 94.8h0M216.7 97.1h0M206.2 47.1h0M217.8 125.3h0M206.6 131.6h0M193.7 124.7h0M218.6 107.7h0M219.6 116.6h0M89.4 158.1h0M209.3 142.9h0M183.5 146.8h0M224.9 129.1h0M219.8 95.2h0M153.4 141.7h0M139.4 122.4h0M208.5 143.0h0M112.5 135.9h0M153.4 74.8h0M233.7 136.1h0M203.3 117.0h0M188.7 107.4h0M225.4 157.6h0M226.7 127.6h0M231.0 95.0h0M166.6 127.1h0M160.2 119.5h0M215.3 147.0h0M234.6 102.4h0M184.7 151.8h0M222.7 76.8h0M228.3 145.5h0M112.9 158.5h0M207.1 91.9h0M229.5 135.9h0M137.3 154.7h0M215.2 140.0h0M235.9 77.7h0M158.5 139.2h0M216.8 124.3h0M237.0 149.7h0M237.3 97.3h0M213.9 123.4h0M169.5 126.2h0M221.0 113.4h0M75.6 161.0h0M203.4 48.1h0M167.8 137.7h0M217.8 105.8h0M191.3 148.0h0M161.1 126.1h0M223.7 102.8h0M156.6 145.0h0M206.5 107.2h0M216.6 113.6h0M218.5 125.8h0M228.6 127.4h0M195.2 135.1h0M162.0 108.4h0M213.2 101.8h0M216.7 134.6h0M153.6 133.5h0M232.9 117.5h0M193.8 120.1h0M161.6 132.9h0M223.1 117.4h0M139.2 112.6h0M236.1 155.0h0M212.2 127.4h0M233.3 114.2h0M219.4 114.2h0M135.4 125.4h0M198.8 141.4h0M208.4 120.6h0M227.6 125.7h0M232.2 122.9h0M172.3 68.2h0M233.5 98.7h0M204.6 152.3h0M210.4 90.8h0M127.7 107.2h0M192.0 116.3h0M224.6 122.4h0M212.2 117.4h0M220.0 134.1h0M165.8 111.6h0M174.2 116.5h0M217.8 113.5h0M191.8 96.8h0M155.1 48.1h0M230.0 71.5h0M230.2 116.3h0M160.7 134.6h0M171.4 78.4h0M236.1 129.0h0M195.7 119.5h0M202.9 137.8h0M229.2 94.7h0M226.9 139.8h0M170.0 137.3h0M211.8 136.7h0M190.2 124.9h0M228.3 128.7h0M145.5 115.4h0M132.7 139.9h0M180.5 137.5h0M207.2 127.6h0M214.7 95.7h0M75.6 147.9h0M224.4 72.9h0M218.6 122.4h0M202.1 85.7h0M226.4 114.1h0M232.4 69.5h0M233.5 83.8h0M206.7 115.0h0M208.0 121.1h0M144.1 142.9h0M178.8 123.6h0M137.1 145.9h0M231.1 101.9h0M198.1 121.9h0M155.6 91.6h0M189.4 121.1h0M170.0 132.5h0M239.0 87.0h0M236.5 153.6h0M213.4 122.8h0M225.4 142.0h0M200.1 122.1h0M228.5 123.8h0M210.6 145.7h0M220.7 116.9h0M216.6 55.2h0M236.5 150.7h0M230.4 131.2h0M196.8 133.8h0" stroke="#3AA51E" stroke-width="1.6" stroke-linecap="round" fill="none"/>
<path d="M160.0 130.0h0M205.7 140.2h0M217.3 163.0h0M141.2 164.1h0M180.1 109.9h0M173.4 159.3h0M171.2 111.7h0M173.3 136.9h0M186.1 131.4h0M166.5 157.6h0M164.6 164.1h0M191.5 113.2h0M215.0 137.0h0M135.9 160.5h0M210.6 163.9h0M181.0 153.1h0M100.3 61.6h0M152.2 147.5h0M125.9 144.2h0M156.0 155.7h0M233.6 137.2h0M227.5 90.9h0M115.7 142.1h0M162.7 153.3h0M167.1 101.1h0M207.2 140.2h0M167.6 163.2h0M201.9 155.7h0M120.4 161.2h0M113.7 145.6h0M179.7 104.8h0M128.8 163.0h0M176.5 109.6h0M160.9 137.8h0M185.2 155.1h0M131.4 160.6h0M177.4 157.1h0M201.4 146.7h0M115.6 157.2h0M177.0 113.5h0M214.7 120.4h0M189.7 147.2h0M203.0 161.7h0M168.8 153.6h0M180.5 163.2h0M136.1 155.5h0M128.4 162.4h0M149.9 139.5h0M163.8 94.5h0M117.6 98.5h0" stroke="#5A5A5A" stroke-width="1.6" stroke-linecap="round" fill="none"/>
<path d="M171.0 153.6h0M75.6 112.4h0M175.6 159.1h0M198.0 159.4h0M118.1 136.1h0M137.2 154.4h0M181.9 146.4h0M117.7 158.1h0M125.3 160.6h0M144.4 149.4h0M169.6 152.3h0M150.0 158.3h0M148.6 163.3h0M177.8 137.7h0M122.7 158.4h0M156.1 141.2h0M179.7 150.4h0M114.8 135.1h0M205.5 162.2h0" stroke="#A020F0" stroke-width="1.6" stroke-linecap="round" fill="none"/>
<path d="M193.4 140.3h0M190.1 157.5h0M184.2 110.0h0M147.9 131.7h0M199.5 139.1h0M199.9 116.0h0M200.0 142.8h0M174.9 155.9h0M140.6 153.1h0M167.0 140.0h0M110.1 135.6h0M190.3 135.4h0M135.5 138.9h0M122.6 143.7h0" stroke="#C0101E" stroke-width="1.6" stroke-linecap="round" fill="none"/>
<path d="M189.5 145.7h0M215.3 142.3h0M209.0 126.4h0M214.4 111.9h0M162.2 114.1h0M208.4 122.6h0M197.2 113.5h0M213.9 137.9h0M194.0 122.1h0M164.6 108.3h0M179.5 125.0h0M198.0 117.0h0M147.7 128.1h0M179.9 121.8h0M207.2 101.6h0M187.4 118.7h0M197.9 112.7h0M203.0 127.1h0M200.8 129.4h0" stroke="#8E3A40" stroke-width="1.6" stroke-linecap="round" fill="none"/>
<path d="M79.6 99.5h0M141.3 146.5h0M119.4 151.8h0M121.3 141.6h0M92.4 41.3h0M83.1 152.7h0M80.4 130.0h0M119.3 140.6h0M106.1 39.0h0M75.6 141.6h0M123.5 161.4h0M130.4 154.8h0M84.3 127.4h0M149.5 140.4h0M97.9 91.9h0M227.8 157.9h0M111.4 111.0h0M114.9 138.1h0M188.2 154.5h0M88.5 132.6h0M90.2 133.4h0M81.9 150.1h0M108.8 141.1h0M110.4 159.3h0M117.5 160.1h0M76.7 99.2h0M121.2 97.3h0M81.4 103.4h0M145.9 156.9h0M102.0 151.7h0M94.6 139.0h0M102.7 164.5h0M108.4 132.0h0M87.7 117.9h0M77.3 142.5h0M148.5 164.8h0M146.3 156.2h0M80.1 138.2h0M89.7 164.4h0M110.7 121.0h0M103.8 163.0h0M116.4 121.5h0M186.1 150.9h0M126.7 161.2h0M117.7 155.5h0M85.9 27.5h0M87.3 149.9h0M133.2 156.4h0M132.8 162.8h0M111.1 157.3h0M76.7 107.6h0M77.1 119.0h0M111.7 147.7h0M83.7 67.9h0M84.4 129.5h0M130.8 136.8h0M114.5 40.2h0M153.4 137.1h0M86.6 115.3h0M107.4 122.3h0M94.6 162.3h0M189.0 163.8h0M77.1 163.0h0M77.8 55.4h0M124.1 163.6h0M128.8 144.2h0M87.8 147.9h0M118.9 102.5h0M130.8 139.5h0M84.9 98.1h0M77.0 88.2h0M88.2 118.8h0M145.5 159.8h0M86.8 134.0h0M126.1 163.8h0M93.6 132.0h0M83.8 160.7h0M140.8 147.4h0M87.3 35.3h0M86.5 26.1h0M89.3 56.1h0M167.6 159.0h0M105.8 119.0h0M81.0 108.8h0M104.6 51.3h0M82.5 135.6h0M148.3 163.7h0M79.4 28.2h0M236.7 157.8h0M104.4 153.5h0M111.2 66.9h0M106.4 106.1h0M112.6 133.8h0M102.5 114.1h0M119.0 148.3h0M128.3 108.4h0M144.5 113.5h0M86.8 115.2h0M116.6 141.0h0M100.1 141.9h0M104.4 154.5h0M152.0 156.4h0M106.9 136.4h0M84.9 105.3h0M99.0 153.8h0M110.2 129.4h0M75.7 116.1h0M137.0 80.3h0M140.2 160.3h0M75.6 20.2h0M131.3 137.7h0M106.9 147.4h0M100.4 151.8h0M99.1 164.0h0M88.4 115.9h0M92.9 105.6h0M96.7 139.9h0M145.4 100.9h0M129.0 150.8h0M86.7 155.6h0M110.7 159.4h0M76.5 155.1h0M114.4 140.9h0M76.3 93.8h0M107.2 109.7h0M139.8 139.7h0M76.9 128.2h0M231.5 149.2h0M89.4 163.2h0M173.1 131.8h0M149.3 161.7h0M120.9 86.8h0M146.0 153.0h0M95.1 110.6h0M76.9 123.9h0M99.9 153.4h0M149.7 133.9h0M127.8 95.4h0M140.9 153.6h0M76.8 134.5h0M88.5 89.4h0M200.7 104.8h0M103.1 142.8h0M99.0 142.9h0M216.4 159.6h0M82.1 141.6h0M87.1 146.8h0M107.3 153.6h0M115.8 152.3h0M97.4 70.7h0M83.3 106.5h0M76.3 74.5h0M153.9 161.7h0M177.6 161.1h0M96.2 110.8h0M110.3 153.5h0M138.8 159.1h0M116.4 128.1h0M150.4 162.6h0M79.4 129.2h0M98.8 156.0h0M101.9 141.2h0M85.6 163.7h0M104.4 25.4h0M109.8 139.1h0M97.5 154.6h0M81.1 164.1h0M114.3 127.1h0M150.6 149.1h0M138.5 138.1h0M119.2 73.2h0M78.8 73.1h0M136.9 108.4h0M126.3 149.7h0M77.9 68.0h0M145.9 138.1h0M141.7 145.0h0M113.8 48.0h0M93.4 163.2h0M104.0 134.9h0M85.7 58.8h0M97.6 111.5h0M78.2 136.6h0M136.6 164.6h0M129.5 151.9h0M77.9 120.2h0M128.8 121.9h0M85.6 79.9h0M96.4 98.7h0M87.3 112.7h0M93.3 141.3h0M134.8 150.1h0M142.5 146.7h0M90.8 150.2h0M83.0 78.6h0M112.3 162.5h0M145.5 156.5h0M75.8 142.6h0M137.5 154.3h0M142.4 141.5h0M88.8 141.1h0M98.4 115.0h0M134.5 135.1h0M95.3 124.9h0M94.5 137.7h0M90.2 155.8h0M78.5 118.9h0M76.4 128.2h0M83.4 53.8h0M121.0 114.9h0M110.8 148.9h0M79.5 84.6h0M80.7 89.1h0M107.9 134.4h0M84.1 112.9h0M94.6 124.9h0M84.4 155.5h0" stroke="#363F88" stroke-width="1.6" stroke-linecap="round" fill="none"/>
<path d="M131.5 146.0h0M79.0 158.5h0M178.4 119.1h0M107.8 139.1h0M221.4 147.5h0M80.2 155.1h0M116.7 154.3h0M137.3 123.1h0M171.7 145.5h0M85.2 127.9h0M183.3 148.1h0M113.5 136.7h0M133.9 163.3h0M174.4 142.6h0M214.9 155.5h0M182.7 147.7h0M137.3 138.4h0M207.5 163.2h0M195.0 158.1h0M184.4 140.5h0M154.1 149.6h0M131.0 89.9h0M204.6 164.1h0M168.6 154.8h0M184.4 163.8h0M165.2 161.6h0M162.1 126.8h0M152.9 158.2h0M153.9 149.7h0M194.4 129.3h0M188.5 158.3h0M134.5 153.8h0M110.7 118.7h0M172.3 157.7h0M156.3 147.5h0M142.0 164.3h0M123.5 156.4h0M203.9 155.3h0M188.8 159.9h0M148.8 133.6h0M165.3 162.5h0M165.0 155.7h0M139.0 137.9h0M144.4 158.5h0M145.0 161.9h0M138.7 162.1h0M169.2 149.6h0M162.4 160.3h0M205.8 153.0h0M111.7 95.8h0M110.4 97.3h0M84.1 151.4h0M147.8 157.2h0M211.7 150.4h0M169.4 116.4h0M127.8 123.0h0M87.5 129.8h0M190.2 153.6h0M198.5 150.8h0M162.7 161.7h0M219.0 145.0h0M142.4 112.7h0M185.3 161.6h0M175.0 139.1h0M93.0 152.7h0M95.2 161.1h0M179.9 146.4h0M165.8 151.0h0M94.0 145.5h0M239.0 84.0h0M162.7 162.1h0M169.1 157.5h0M164.9 152.2h0M97.5 141.2h0M138.5 131.8h0M96.7 131.5h0M174.2 149.4h0M151.3 151.3h0M105.1 120.2h0M136.2 153.9h0M208.2 150.7h0M136.8 91.8h0M143.1 139.1h0M185.2 153.9h0M180.2 151.6h0M166.0 141.0h0M151.8 124.7h0M143.8 163.2h0M161.7 126.0h0M133.1 121.0h0M144.1 138.5h0M173.7 158.9h0M162.6 154.1h0M150.0 147.0h0M104.9 145.3h0M81.9 113.8h0M190.8 144.3h0M135.7 162.5h0M119.0 131.2h0M86.0 155.3h0M134.7 163.9h0M213.6 126.5h0M79.5 52.9h0M95.3 140.0h0M115.8 147.5h0M133.2 139.8h0M95.6 156.4h0M153.4 149.3h0M145.7 160.1h0M208.1 148.9h0M182.8 164.0h0M184.4 131.4h0M79.5 86.4h0M187.1 162.6h0M176.3 158.0h0M180.0 153.1h0M235.4 161.3h0M99.3 151.0h0M129.4 154.3h0M77.2 75.2h0M170.8 158.8h0M146.0 140.0h0M143.7 153.5h0M142.0 147.3h0M83.5 148.6h0M137.2 130.8h0M174.3 126.7h0M170.5 162.5h0M133.1 142.6h0M142.4 152.1h0M137.7 119.0h0M201.9 133.4h0M142.0 158.1h0M145.5 138.8h0M158.1 162.8h0M160.0 155.4h0M173.4 140.1h0M97.0 97.7h0M90.8 163.4h0M192.2 148.8h0M100.2 151.3h0M173.5 162.1h0M230.9 147.6h0M83.1 163.1h0M169.0 150.6h0M178.2 145.2h0M126.6 158.0h0M145.8 155.0h0M86.0 118.8h0M169.7 156.2h0M203.3 153.5h0M81.5 161.2h0M189.1 163.2h0M146.6 159.2h0M239.0 133.9h0M172.2 157.4h0M200.3 159.9h0M109.3 150.7h0M174.0 112.7h0M84.8 56.8h0M182.8 159.0h0M143.9 133.8h0M117.5 155.3h0M152.7 152.1h0M141.2 159.8h0M128.5 160.2h0M154.5 141.4h0M177.8 163.2h0M86.9 134.5h0M144.4 159.9h0M164.6 149.9h0M134.4 153.5h0M154.1 159.6h0M178.7 151.0h0M186.0 163.7h0M92.2 146.1h0M76.2 25.9h0M180.7 160.5h0M90.0 98.8h0M162.7 146.9h0M192.4 158.5h0M135.8 159.4h0M120.2 148.7h0M125.5 152.3h0M142.8 136.1h0M94.5 154.6h0M113.8 161.7h0M196.6 138.4h0M103.5 145.1h0M157.3 161.4h0M161.6 145.0h0M183.3 157.6h0M146.4 154.2h0M132.4 145.1h0M104.2 132.5h0M179.1 140.6h0M164.7 130.1h0M129.4 149.1h0M144.4 142.4h0M132.2 150.3h0M185.5 156.0h0M154.9 146.5h0M137.3 158.4h0M183.6 158.1h0M192.7 148.7h0M129.3 136.3h0M183.8 144.1h0M108.5 164.5h0M82.6 98.5h0M151.3 147.7h0M124.1 99.8h0M107.8 144.4h0M81.9 157.6h0M175.3 119.0h0M171.3 122.1h0M135.5 161.8h0M94.8 148.1h0M145.4 162.0h0M85.5 146.2h0M236.2 149.6h0M195.0 128.8h0M121.5 136.4h0M153.9 161.2h0M99.2 153.9h0M157.2 150.9h0M181.2 154.1h0M205.6 163.5h0M163.7 152.7h0M197.6 155.2h0M170.1 155.8h0M208.9 159.4h0M139.5 108.1h0M191.1 144.5h0M181.2 151.3h0M162.6 129.3h0M165.5 144.6h0M159.2 163.1h0M189.1 162.9h0M140.0 159.8h0M152.7 163.0h0M98.8 136.8h0M193.5 134.7h0M153.1 150.4h0M168.4 155.2h0M151.2 141.5h0M121.2 119.6h0" stroke="#E6B800" stroke-width="1.6" stroke-linecap="round" fill="none"/>
<path d="M103.9 141.4h0M76.1 116.5h0M121.9 162.6h0M136.2 135.6h0M75.6 98.6h0M116.4 136.0h0M136.1 157.4h0M82.8 72.2h0M153.5 149.6h0M81.6 109.9h0M118.4 150.9h0M150.5 161.9h0M135.7 164.7h0M79.5 152.3h0M143.1 155.5h0M145.5 163.5h0M84.6 134.1h0M210.0 154.4h0M84.8 161.3h0M136.5 162.0h0M140.1 139.3h0M91.7 134.4h0M145.1 150.7h0M178.9 134.6h0M153.9 158.9h0M237.1 124.7h0M234.6 115.9h0M80.3 145.5h0M236.3 164.6h0M155.3 158.1h0M170.6 154.8h0M145.1 151.3h0M91.1 159.5h0M84.2 155.7h0M119.3 154.5h0M78.0 141.6h0M76.5 164.7h0M94.2 161.5h0M90.9 146.5h0M107.8 139.6h0M93.1 156.2h0M152.1 158.2h0M110.4 148.3h0M149.3 161.2h0M75.8 125.4h0M146.7 150.0h0M146.1 163.0h0M239.0 149.3h0M84.3 163.1h0M88.7 141.5h0M105.9 150.1h0M97.3 164.2h0M80.5 81.9h0M92.2 157.0h0M104.9 140.0h0M170.6 163.6h0M150.8 139.7h0M152.5 158.5h0M105.8 118.4h0M95.2 143.0h0M87.6 145.4h0M100.3 157.6h0M111.7 147.0h0M117.6 128.1h0M101.0 120.8h0M76.9 162.4h0M79.6 142.7h0M175.8 151.2h0M99.5 163.5h0M155.4 149.9h0M76.3 72.9h0M141.1 144.7h0M83.5 145.0h0M87.8 92.5h0M83.3 135.2h0M207.6 156.4h0M134.2 159.1h0" stroke="#6AA8EE" stroke-width="1.6" stroke-linecap="round" fill="none"/>
<path d="M230.0 122.5h0M198.1 130.2h0M219.3 144.6h0M213.4 131.2h0M237.4 135.3h0M161.4 142.0h0M158.8 128.1h0M186.1 114.7h0M216.1 93.7h0M94.2 146.2h0M229.9 116.4h0M215.8 56.5h0M168.0 106.0h0M223.2 147.1h0M221.4 108.0h0M227.8 99.0h0M216.7 151.2h0M213.1 120.1h0M180.1 121.0h0M220.0 137.1h0M135.7 149.4h0M153.7 123.8h0M201.4 111.2h0M214.5 69.2h0M237.8 145.2h0M209.5 102.3h0M235.8 125.6h0M179.5 82.2h0M236.8 115.1h0M215.4 65.2h0M174.9 126.9h0M215.8 67.2h0M191.8 130.7h0M227.7 134.2h0M153.6 116.3h0M212.6 91.9h0M154.8 124.3h0M232.9 101.0h0M191.0 116.6h0M213.3 101.0h0M201.2 110.8h0M232.1 130.9h0M171.9 128.2h0M218.8 64.4h0M127.4 135.9h0M176.3 124.7h0M166.5 120.2h0M90.7 161.3h0M216.0 140.5h0M166.1 135.4h0M228.9 150.1h0M195.4 139.8h0M230.5 94.5h0M222.7 115.5h0M214.6 128.6h0M221.4 111.3h0M210.2 141.7h0M118.9 156.0h0M228.8 143.5h0M117.4 150.0h0M227.3 129.7h0M199.4 143.2h0M207.5 123.7h0M177.6 53.5h0M163.1 119.6h0M211.6 111.9h0M234.4 110.1h0M220.0 133.4h0M182.6 125.2h0M227.9 109.8h0M233.1 83.4h0M229.6 88.5h0M183.3 112.0h0M221.3 95.1h0M204.1 93.9h0M228.8 92.5h0M181.1 139.8h0M120.0 138.6h0M225.6 113.9h0M149.6 135.3h0M167.9 105.2h0M233.3 119.6h0M235.9 110.6h0M215.2 123.5h0M107.7 85.9h0M201.6 146.6h0M222.1 53.5h0M163.1 106.3h0M228.1 110.7h0M186.9 93.6h0M223.3 135.5h0M180.9 134.4h0M196.9 114.7h0M196.7 142.1h0M177.2 116.4h0M234.8 132.8h0M202.5 114.1h0M214.1 117.0h0M234.3 133.5h0M201.7 145.3h0M105.5 146.0h0M226.9 90.7h0M223.1 112.6h0M188.5 132.1h0M200.1 90.6h0M234.7 120.3h0M190.0 137.0h0M206.6 76.0h0M200.9 114.4h0M192.3 117.2h0M234.3 118.9h0M227.9 135.7h0M224.5 118.5h0M186.0 139.1h0M157.5 126.3h0M215.6 142.7h0M234.0 71.2h0M203.0 97.4h0M234.0 83.6h0M229.3 142.8h0M223.0 83.5h0M225.0 93.9h0M205.2 75.8h0M186.7 134.6h0M223.8 142.0h0M174.0 121.5h0M206.6 150.0h0M187.8 138.4h0M217.6 87.4h0M225.2 134.7h0M225.8 108.2h0M215.7 134.3h0M186.6 103.1h0M226.5 141.4h0M155.1 148.8h0M237.7 139.0h0M198.5 109.1h0M178.3 119.0h0M236.7 61.3h0M198.2 118.1h0M224.9 68.5h0M211.3 115.7h0M234.0 102.8h0M233.6 106.3h0M159.4 150.5h0M217.9 123.0h0M234.2 126.9h0M171.2 136.7h0M203.0 116.3h0M219.8 132.1h0M221.5 102.1h0M133.4 146.7h0M182.0 71.7h0M233.5 51.0h0M210.4 104.0h0M146.3 139.2h0M107.9 142.4h0M216.5 114.3h0M237.0 157.1h0M216.9 101.9h0M223.2 154.4h0M238.9 142.3h0M194.3 133.5h0M152.9 141.2h0M224.4 134.0h0M226.1 121.1h0M137.3 54.5h0M172.0 152.4h0M185.4 94.7h0M130.7 150.6h0M184.0 151.6h0M173.6 119.9h0M210.7 129.4h0M221.9 125.9h0M209.7 90.1h0M219.3 124.1h0M217.2 106.2h0M210.2 134.1h0M224.3 120.3h0M168.9 141.1h0M202.6 73.0h0M206.7 51.3h0M194.3 143.4h0M221.0 77.4h0M168.4 111.2h0M225.9 88.4h0M236.3 109.5h0M212.9 107.1h0M185.9 132.5h0M152.5 150.6h0M231.8 78.4h0M186.3 121.9h0M203.5 131.7h0M197.9 129.4h0M222.9 80.4h0M230.6 102.9h0M213.2 127.6h0M200.5 126.4h0M193.5 142.9h0M192.9 120.0h0M169.7 142.8h0M189.9 120.4h0M178.8 139.0h0M222.1 86.3h0M212.1 143.1h0M187.1 87.6h0M225.2 113.5h0M209.9 110.1h0M194.8 123.5h0M132.4 137.8h0M214.1 132.2h0M222.4 121.0h0M231.6 113.5h0M225.2 98.6h0M163.6 140.9h0M201.6 119.3h0M191.0 135.6h0M212.9 125.8h0M235.1 103.7h0M168.3 139.2h0M215.2 130.1h0M212.3 135.5h0M216.6 100.2h0M207.4 131.3h0M211.4 107.6h0M227.9 125.9h0M173.8 43.1h0M165.6 147.0h0" stroke="#3AA51E" stroke-width="1.6" stroke-linecap="round" fill="none"/>
<path d="M214.2 112.1h0M201.0 129.0h0M142.8 144.1h0M171.2 155.1h0M198.8 163.3h0M141.7 163.2h0M177.9 116.4h0M174.2 155.4h0M127.2 153.6h0M106.8 143.9h0M141.9 108.7h0M175.1 119.6h0M151.3 129.0h0M185.5 157.2h0M157.5 160.2h0M142.4 146.3h0M156.1 149.8h0M188.9 114.4h0M126.6 130.3h0M184.3 131.5h0M199.3 127.5h0M187.1 141.8h0M146.1 144.7h0M217.2 132.5h0M89.2 149.5h0M179.9 125.3h0M122.1 132.7h0M126.9 163.7h0M169.2 154.2h0M176.3 160.6h0M239.0 127.1h0M138.0 153.0h0M138.1 117.2h0M152.3 134.8h0M98.9 90.7h0M104.9 159.0h0M182.7 137.2h0M163.3 148.9h0M179.3 143.4h0M156.3 139.2h0M160.3 160.4h0M131.4 155.0h0M126.0 154.6h0M186.2 128.8h0M132.3 144.4h0M157.4 163.0h0M112.0 158.5h0M153.5 140.5h0M176.7 148.5h0M116.2 148.3h0" stroke="#5A5A5A" stroke-width="1.6" stroke-linecap="round" fill="none"/>
<path d="M143.1 156.7h0M158.8 156.0h0M169.0 93.6h0M137.1 146.9h0M167.1 141.2h0M180.3 154.8h0M207.1 156.3h0M204.5 140.4h0M136.1 134.6h0M199.2 157.9h0M138.1 155.1h0M138.3 148.5h0M174.6 163.7h0M169.6 112.0h0M118.7 148.6h0M205.9 130.5h0M168.9 146.6h0M75.6 124.6h0M145.8 147.2h0" stroke="#A020F0" stroke-width="1.6" stroke-linecap="round" fill="none"/>
<path d="M204.7 147.5h0M185.7 144.1h0M126.4 147.7h0M138.0 136.2h0M174.9 126.8h0M155.7 149.0h0M151.2 156.9h0M189.6 161.3h0M181.3 146.7h0M135.3 133.7h0M148.5 134.0h0M155.6 146.5h0M227.0 93.1h0" stroke="#C0101E" stroke-width="1.6" stroke-linecap="round" fill="none"/>
<path d="M208.9 130.5h0M195.7 132.2h0M169.6 104.3h0M205.2 113.1h0M194.9 133.0h0M169.8 103.2h0M192.2 150.8h0M212.1 128.1h0M181.2 134.6h0M176.2 124.9h0M208.6 146.5h0M186.0 120.3h0M212.3 130.8h0M211.4 119.9h0M147.2 150.8h0M215.1 147.0h0M175.4 152.7h0M172.6 102.9h0" stroke="#8E3A40" stroke-width="1.6" stroke-linecap="round" fill="none"/>
<path d="M148.7 151.6h0M101.2 158.1h0M112.4 143.0h0M92.7 79.1h0M167.0 154.3h0M120.1 159.1h0M92.5 132.3h0M117.9 164.8h0M113.3 136.9h0M138.6 111.4h0M102.5 153.9h0M114.0 120.5h0M113.2 159.7h0M87.0 138.2h0M91.1 101.9h0M88.0 86.3h0M101.8 126.9h0M111.6 149.1h0M94.5 155.1h0M128.7 146.7h0M131.3 154.1h0M119.7 138.9h0M236.2 113.5h0M85.9 132.1h0M85.1 80.6h0M138.3 163.4h0M83.1 163.4h0M106.5 138.3h0M141.6 148.9h0M75.6 48.3h0M128.6 163.5h0M137.2 149.7h0M106.9 113.1h0M99.7 141.1h0M230.7 163.9h0M80.1 158.5h0M143.4 149.1h0M85.4 92.8h0M80.1 150.8h0M131.1 161.4h0M139.7 154.3h0M89.7 157.5h0M112.9 163.1h0M133.5 130.5h0M90.2 70.2h0M238.6 150.6h0M153.0 138.2h0M111.0 158.3h0M98.1 115.8h0M185.5 157.0h0M79.9 163.8h0M81.6 37.4h0M94.7 120.4h0M90.0 64.0h0M85.1 152.1h0M87.9 78.9h0M82.5 113.1h0M88.9 162.8h0M107.9 101.9h0M127.6 127.7h0M83.3 141.5h0M86.3 128.4h0M75.6 147.8h0M136.8 155.0h0M113.6 56.1h0M105.8 120.6h0M132.1 140.6h0M81.5 106.8h0M78.2 162.2h0M104.1 99.6h0M117.1 153.8h0M232.9 149.5h0M89.3 72.4h0M102.6 156.2h0M103.5 152.4h0M88.2 144.4h0M81.5 96.0h0M94.2 96.0h0M122.2 153.8h0M98.4 78.8h0M101.2 150.3h0M78.0 60.7h0M78.3 92.6h0M93.1 75.0h0M86.3 113.1h0M111.3 128.3h0M91.8 158.6h0M113.6 115.4h0M75.6 29.6h0M98.6 10.6h0M83.9 146.8h0M139.3 143.8h0M217.7 163.1h0M142.0 138.4h0M80.1 139.4h0M75.6 144.6h0M112.0 96.7h0M123.5 157.1h0M98.1 142.3h0M112.6 158.8h0M153.9 146.6h0M145.7 142.1h0M75.6 160.0h0M76.2 152.2h0M75.6 130.7h0M78.4 82.5h0M105.0 139.5h0M120.0 141.1h0M88.3 101.5h0M83.8 158.2h0M94.2 119.8h0M146.9 141.0h0M121.2 148.2h0M184.4 164.7h0M86.6 100.0h0M76.6 163.8h0M91.9 98.1h0M230.3 155.2h0M77.6 132.2h0M102.9 70.4h0M108.5 130.9h0M141.2 126.2h0M79.7 53.4h0M76.5 64.5h0M79.7 70.0h0M77.9 90.7h0M101.9 117.3h0M110.7 120.8h0M106.7 159.8h0M97.4 119.0h0M190.8 136.2h0M78.9 109.8h0M147.6 151.6h0M85.6 114.7h0M90.6 163.2h0M78.5 157.6h0M91.9 161.3h0M78.4 138.2h0M236.5 158.3h0M124.8 123.2h0M98.1 151.3h0M77.8 135.5h0M79.7 148.9h0M84.5 99.8h0M80.5 140.2h0M80.7 137.9h0M95.2 133.0h0M229.8 158.5h0M145.5 164.6h0M198.5 160.3h0M150.4 143.5h0M138.0 134.9h0M77.4 121.0h0M75.8 80.3h0M84.1 154.2h0M109.4 139.9h0M153.3 151.0h0M114.7 159.5h0M103.1 149.9h0M95.4 101.9h0M81.5 49.0h0M93.3 164.2h0M108.4 54.8h0M84.7 158.7h0M137.7 142.4h0M96.6 151.4h0M85.8 138.0h0M142.8 139.9h0M129.6 111.2h0M78.8 10.5h0M116.1 161.6h0M90.7 152.3h0M88.5 146.6h0M82.5 113.7h0M90.3 89.7h0M211.7 145.1h0M77.7 153.0h0M152.3 114.7h0M104.0 65.8h0M91.6 60.6h0M92.4 124.0h0M83.9 109.1h0M236.3 152.3h0M95.6 101.7h0M106.4 161.1h0M86.9 144.4h0M120.6 160.8h0M78.8 141.0h0M118.9 160.6h0M127.3 145.5h0M90.5 56.7h0M147.5 145.1h0M113.9 139.3h0M104.0 45.7h0M90.7 152.2h0M89.9 77.8h0M82.3 133.9h0M113.1 133.9h0M97.2 154.2h0M112.8 98.5h0M75.6 93.5h0M87.1 99.2h0M113.7 163.3h0M113.4 112.9h0M95.8 148.0h0M103.8 118.8h0M96.9 105.4h0M110.9 133.1h0M90.9 130.4h0M80.6 89.0h0M131.9 163.0h0M90.1 92.6h0M120.5 126.0h0M80.3 73.1h0M83.5 43.2h0M77.0 30.8h0M116.2 48.8h0M86.2 123.7h0" stroke="#363F88" stroke-width="1.6" stroke-linecap="round" fill="none"/>
<path d="M143.8 163.2h0M148.8 137.9h0M75.7 125.4h0M163.3 158.4h0M165.7 134.5h0M170.8 147.5h0M89.3 163.9h0M188.0 138.8h0M88.4 21.4h0M217.3 157.5h0M148.1 150.4h0M205.2 163.5h0M169.0 164.7h0M78.6 67.1h0M166.9 155.4h0M188.1 97.9h0M147.8 129.1h0M90.0 84.2h0M224.2 163.4h0M161.4 125.1h0M175.7 142.8h0M81.9 42.0h0M147.6 142.7h0M161.7 151.2h0M176.1 153.2h0M77.1 107.8h0M80.6 113.8h0M146.9 160.6h0M170.5 163.3h0M84.8 70.9h0M119.0 153.5h0M185.4 98.2h0M170.4 136.1h0M205.5 163.7h0M156.1 164.2h0M189.2 159.2h0M196.1 163.7h0M139.4 156.2h0M149.8 164.1h0M181.2 161.2h0M150.3 103.2h0M89.4 156.5h0M121.1 129.2h0M158.2 148.9h0M192.2 101.2h0M157.8 153.0h0M202.4 133.8h0M108.7 107.4h0M193.5 102.8h0M156.9 157.4h0M106.9 142.1h0M181.6 154.6h0M84.9 114.1h0M151.3 134.3h0M88.8 137.1h0M176.0 139.8h0M161.7 163.5h0M177.8 152.6h0M187.3 163.3h0M197.7 148.7h0M199.8 156.0h0M151.6 148.7h0M168.0 122.0h0M163.8 151.6h0M199.6 159.8h0M176.1 155.4h0M163.5 163.3h0M144.9 164.4h0M150.4 131.2h0M82.3 122.0h0M88.1 31.9h0M123.4 163.4h0M164.0 153.3h0M78.0 111.3h0M95.9 125.7h0M186.9 151.7h0M142.9 152.4h0M164.4 133.3h0M146.4 153.9h0M173.7 164.1h0M163.2 90.0h0M187.0 148.5h0M187.0 143.2h0M144.0 123.4h0M150.7 138.9h0M178.6 164.2h0M168.1 157.8h0M88.4 152.3h0M167.9 135.4h0M138.6 158.3h0M81.1 164.4h0M188.5 160.8h0M162.7 163.0h0M171.3 158.5h0M142.8 144.9h0M235.9 128.4h0M150.8 155.8h0M166.3 151.6h0M152.1 150.7h0M194.6 149.8h0M80.2 148.0h0M164.7 150.7h0M139.9 162.0h0M156.7 156.8h0M80.8 72.5h0M150.1 154.7h0M207.0 156.0h0M176.8 156.1h0M88.1 140.5h0M202.2 164.5h0M75.6 107.0h0M166.0 152.2h0M148.9 155.1h0M115.3 153.7h0M140.6 150.4h0M157.6 143.9h0M112.8 124.7h0M76.6 131.3h0M129.0 158.2h0M93.4 122.1h0M186.9 155.6h0M156.9 102.7h0M186.9 147.1h0M167.8 155.1h0M189.7 134.0h0M133.5 156.3h0M169.5 144.3h0M138.3 163.6h0M162.1 150.1h0M125.8 111.7h0M86.0 150.5h0M155.4 157.4h0M88.7 146.7h0M86.3 156.5h0M124.4 148.3h0M96.3 99.4h0M173.8 163.5h0M134.1 156.6h0M136.7 62.5h0M171.7 156.6h0M107.4 120.7h0M75.6 96.6h0M116.5 130.7h0M206.1 153.5h0M159.4 144.8h0M185.6 126.0h0M164.5 159.0h0M156.4 133.6h0M86.9 72.1h0M188.3 163.4h0M223.1 149.2h0M153.0 162.2h0M134.1 132.6h0M156.0 160.9h0M148.5 127.2h0M157.6 163.2h0M154.1 142.4h0M143.9 156.3h0M209.1 133.1h0M189.2 138.0h0M142.6 125.0h0M223.9 129.6h0M159.7 160.1h0M144.3 104.1h0M186.5 164.4h0M140.9 164.1h0M171.6 164.4h0M121.8 137.4h0M189.5 150.5h0M118.1 163.3h0M156.5 153.3h0M110.0 160.7h0M125.2 159.8h0M166.3 134.0h0M169.1 161.2h0M160.2 162.1h0M168.2 123.8h0M233.5 148.7h0M193.2 158.4h0M135.4 155.3h0M171.5 151.4h0M168.3 163.8h0M78.1 95.9h0M152.1 140.6h0M206.4 149.0h0M151.1 153.8h0M160.8 160.2h0M78.1 84.1h0M80.4 145.3h0M189.7 147.1h0M183.1 154.6h0M84.9 153.3h0M142.2 142.0h0M169.9 163.0h0M145.7 136.3h0M153.5 163.5h0M209.8 164.6h0M138.9 149.7h0M76.8 41.2h0M104.6 149.0h0M197.7 152.4h0M90.7 93.9h0M78.1 134.9h0M115.6 128.3h0M203.5 145.9h0M120.2 123.5h0M78.7 36.8h0M173.7 160.8h0M203.0 158.3h0M76.8 106.1h0M80.8 155.5h0M185.0 162.5h0M144.7 161.7h0M142.0 138.0h0M76.4 132.6h0M119.0 159.7h0M209.6 153.6h0M168.1 158.8h0M88.1 16.2h0M109.9 159.8h0M175.9 160.7h0M152.1 157.8h0M176.7 164.8h0M175.3 163.6h0M151.7 157.6h0M154.4 157.8h0M203.3 161.2h0M90.5 146.4h0M154.6 158.0h0M135.3 123.0h0M141.7 164.7h0M89.7 160.1h0M146.1 147.9h0M160.3 135.3h0M154.8 158.2h0M167.8 137.6h0M120.3 164.5h0M96.9 129.5h0M107.1 138.0h0M90.4 18.9h0M183.9 128.3h0M167.1 128.4h0M83.4 55.0h0M156.8 143.3h0M157.2 149.0h0M183.0 159.6h0" stroke="#E6B800" stroke-width="1.6" stroke-linecap="round" fill="none"/>
<path d="M122.8 154.8h0M87.9 149.4h0M89.5 105.4h0M154.6 160.0h0M147.9 151.7h0M122.4 162.9h0M85.9 119.8h0M88.4 148.6h0M209.0 136.1h0M96.2 137.4h0M95.8 111.2h0M78.0 164.1h0M92.2 162.7h0M120.1 152.0h0M124.4 141.3h0M86.0 158.1h0M125.1 160.8h0M129.4 164.3h0M87.0 123.0h0M213.6 158.4h0M117.8 156.0h0M85.0 114.4h0M177.7 159.1h0M94.1 107.4h0M103.8 160.9h0M113.4 161.1h0M124.6 161.2h0M152.4 153.9h0M110.3 160.2h0M100.0 162.7h0M143.6 130.8h0M86.9 136.3h0M142.9 131.0h0M150.7 131.1h0M193.9 156.3h0M209.4 147.2h0M95.3 129.6h0M184.6 162.2h0M75.9 141.5h0M128.5 155.8h0M101.0 135.5h0M151.7 148.7h0M153.1 149.9h0M129.0 163.2h0M91.6 152.7h0M134.7 160.1h0M84.9 112.6h0M97.8 106.5h0M99.0 153.7h0M132.6 121.4h0M77.2 40.0h0M130.5 116.3h0M75.6 145.2h0M101.6 142.2h0M89.7 140.5h0M90.7 140.3h0M139.4 122.6h0M151.0 138.5h0M111.4 120.3h0M145.8 97.6h0M81.6 92.0h0M239.0 156.7h0M139.6 116.8h0M92.6 155.0h0M136.2 157.7h0M82.1 156.6h0M78.9 108.5h0M89.2 145.9h0M138.7 158.1h0M114.7 139.8h0M78.7 147.1h0M79.2 153.1h0M82.6 143.4h0M155.2 159.4h0M178.7 151.2h0M112.9 125.8h0M117.8 159.7h0M141.8 152.5h0" stroke="#6AA8EE" stroke-width="1.6" stroke-linecap="round" fill="none"/>
<path d="M207.1 79.5h0M142.7 149.3h0M189.3 130.0h0M121.8 159.0h0M185.5 144.5h0M194.9 141.3h0M219.7 114.6h0M124.3 137.1h0M220.0 69.8h0M220.5 148.8h0M228.4 149.2h0M225.6 121.5h0M186.7 127.3h0M217.1 110.2h0M206.5 133.8h0M167.2 146.8h0M228.9 96.1h0M236.3 125.3h0M182.1 129.9h0M226.6 132.4h0M131.1 102.1h0M206.3 118.3h0M158.8 145.6h0M233.2 116.1h0M188.2 118.9h0M195.1 116.4h0M192.3 146.5h0M130.8 131.5h0M230.4 138.4h0M205.5 154.5h0M218.4 137.2h0M218.0 91.0h0M216.2 143.5h0M205.6 100.2h0M180.6 136.1h0M224.5 106.4h0M229.2 92.6h0M238.0 104.1h0M206.2 74.8h0M229.3 134.6h0M191.3 83.9h0M237.2 90.2h0M210.7 81.1h0M124.0 149.3h0M223.8 142.7h0M166.3 119.5h0M203.3 92.3h0M229.7 146.9h0M157.8 122.0h0M219.9 105.0h0M135.4 120.9h0M168.7 130.9h0M179.9 122.3h0M190.6 87.3h0M227.8 60.9h0M197.6 124.1h0M214.9 142.7h0M200.5 129.4h0M226.8 135.3h0M210.7 114.5h0M189.9 93.7h0M235.6 144.5h0M174.3 136.2h0M199.2 89.1h0M207.7 106.0h0M228.7 97.7h0M225.7 130.4h0M219.4 120.9h0M235.6 113.4h0M151.3 153.6h0M188.4 110.5h0M231.1 105.2h0M208.9 104.0h0M223.0 136.8h0M195.5 136.4h0M226.8 144.3h0M236.4 137.0h0M221.0 113.8h0M234.9 104.1h0M206.3 144.7h0M196.8 96.2h0M133.0 75.5h0M223.7 100.0h0M172.0 132.8h0M115.5 96.9h0M188.4 127.3h0M139.3 135.5h0M219.8 113.1h0M171.0 110.6h0M208.4 68.2h0M207.1 118.0h0M231.8 108.7h0M222.1 114.5h0M223.4 134.1h0M195.9 127.5h0M215.6 108.6h0M231.6 68.0h0M203.5 120.3h0M145.9 140.5h0M206.1 128.9h0M197.6 123.3h0M161.2 139.7h0M222.7 91.8h0M231.7 126.9h0M234.5 82.6h0M198.4 127.3h0M224.4 96.1h0M201.7 130.4h0M226.6 137.3h0M129.4 145.2h0M221.7 136.7h0M222.1 141.7h0M223.6 123.6h0M209.0 114.5h0M171.6 143.7h0M234.8 99.0h0M156.9 141.4h0M179.6 116.8h0M212.1 92.0h0M182.5 139.0h0M221.3 99.0h0M230.7 107.7h0M235.0 68.6h0M195.8 95.6h0M229.6 109.3h0M217.7 115.0h0M235.5 148.3h0M180.8 136.8h0M143.1 65.8h0M203.2 104.5h0M180.8 142.2h0M211.3 99.4h0M210.0 114.4h0M194.6 120.7h0M199.1 88.9h0M200.9 103.7h0M145.9 122.8h0M236.6 160.8h0M103.8 145.2h0M198.6 121.9h0M187.7 130.1h0M175.3 142.8h0M152.1 37.1h0M218.8 116.6h0M160.8 120.3h0M182.2 129.6h0M188.2 80.8h0M231.3 44.1h0M187.1 142.8h0M75.6 145.9h0M222.6 101.6h0M185.7 149.1h0M232.6 135.5h0M197.8 90.0h0M210.2 148.7h0M224.0 126.4h0M223.4 95.6h0M223.3 156.0h0M209.7 85.4h0M176.5 140.7h0M196.0 144.7h0M201.7 134.1h0M180.0 148.8h0M98.9 154.3h0M154.0 129.0h0M165.5 147.6h0M237.3 150.3h0M175.6 135.6h0M155.9 147.6h0M228.3 72.9h0M191.6 141.9h0M198.5 93.6h0M170.1 142.7h0M230.5 47.1h0M186.5 127.0h0M238.9 51.1h0M172.9 131.0h0M163.1 53.1h0M175.1 104.0h0M228.9 111.8h0M185.0 108.5h0M193.1 91.4h0M186.6 120.8h0M218.9 60.3h0M239.0 57.4h0M166.3 121.0h0M207.4 150.6h0M236.2 106.4h0M195.3 111.7h0M231.0 137.9h0M217.3 133.3h0M230.1 116.3h0M190.9 125.4h0M217.2 118.6h0M214.0 112.9h0M222.0 112.0h0M208.4 118.7h0M133.5 138.3h0M159.7 91.5h0M212.7 142.0h0M222.1 94.7h0M214.7 56.4h0M149.7 135.5h0M182.4 137.7h0M222.8 140.7h0M230.8 140.6h0M228.4 92.9h0M195.7 125.3h0M226.9 103.5h0M222.7 128.9h0M211.0 143.2h0M186.9 121.6h0M238.5 103.6h0M236.5 158.6h0M150.3 124.7h0M235.7 142.5h0M216.3 110.9h0M239.0 144.3h0M238.8 120.9h0M206.1 116.0h0M194.4 147.6h0M231.8 121.9h0M227.1 132.6h0M210.2 139.4h0M175.9 130.4h0M233.6 91.0h0M165.6 124.1h0" stroke="#3AA51E" stroke-width="1.6" stroke-linecap="round" fill="none"/>
<path d="M131.7 141.1h0M196.6 144.3h0M164.7 119.7h0M161.1 164.0h0M116.9 128.2h0M190.6 131.5h0M166.2 154.1h0M155.5 84.4h0M153.3 153.7h0M168.9 161.3h0M119.8 153.8h0M95.6 159.3h0M179.6 132.7h0M152.4 159.6h0M190.8 161.4h0M172.5 162.7h0M226.7 163.3h0M152.6 158.0h0M157.9 159.0h0M148.4 157.2h0M208.3 110.7h0M184.6 114.3h0M77.4 153.2h0M134.5 157.5h0M117.6 116.1h0M189.2 95.5h0M144.7 149.1h0M181.7 138.4h0M201.0 155.8h0M124.4 161.3h0M174.0 88.2h0M208.0 123.9h0M146.3 150.6h0M115.1 128.2h0M170.7 145.7h0M100.0 126.7h0M162.8 158.3h0M183.0 127.4h0M162.4 155.9h0M153.6 152.1h0M153.8 155.8h0M140.7 154.0h0M120.0 131.6h0M124.0 158.1h0M239.0 116.5h0M160.4 152.9h0M178.0 122.3h0M207.3 151.1h0M210.0 159.6h0M186.6 150.8h0" stroke="#5A5A5A" stroke-width="1.6" stroke-linecap="round" fill="none"/>
<path d="M126.7 163.3h0M236.2 143.4h0M169.0 160.1h0M165.6 157.6h0M131.8 149.4h0M150.3 156.0h0M111.4 154.4h0M236.0 156.1h0M102.1 163.8h0M104.3 149.3h0M97.9 135.3h0M185.9 162.0h0M156.4 119.4h0M90.7 128.7h0M142.5 159.0h0M164.9 144.5h0M190.6 161.8h0M163.8 153.6h0M166.1 152.1h0" stroke="#A020F0" stroke-width="1.6" stroke-linecap="round" fill="none"/>
<path d="M141.4 147.3h0M196.2 148.6h0M169.5 143.3h0M151.7 160.0h0M168.2 110.0h0M205.0 147.3h0M216.0 79.0h0M188.0 123.0h0M182.8 132.5h0M179.0 139.3h0M147.7 127.6h0M204.6 159.6h0M172.4 149.9h0" stroke="#C0101E" stroke-width="1.6" stroke-linecap="round" fill="none"/>
<path d="M209.1 130.7h0M180.3 96.2h0M189.8 119.7h0M185.2 124.0h0M171.3 143.8h0M201.8 137.9h0M196.4 104.7h0M166.6 135.7h0M192.4 130.3h0M188.8 121.8h0M184.1 106.6h0M191.6 116.7h0M186.7 137.8h0M192.8 138.1h0M166.6 124.0h0M179.8 125.7h0M186.8 123.5h0M224.8 141.4h0" stroke="#8E3A40" stroke-width="1.6" stroke-linecap="round" fill="none"/>
<path d="M92.9 157.2h0M96.8 151.7h0M118.6 142.6h0M90.0 161.9h0M76.9 107.9h0M210.1 121.7h0M95.5 139.6h0M87.7 132.3h0M75.6 57.4h0M78.7 42.7h0M146.9 156.4h0M115.7 148.8h0M102.3 164.7h0M214.2 146.0h0M84.8 136.4h0M112.9 163.6h0M75.7 163.6h0M99.9 65.9h0M128.2 139.7h0M86.1 125.8h0M133.2 164.0h0M75.6 110.1h0M75.6 39.5h0M236.4 130.2h0M233.7 163.0h0M94.8 151.6h0M153.5 145.9h0M135.4 156.8h0M140.0 139.6h0M157.9 119.7h0M83.2 89.9h0M117.6 153.0h0M104.5 131.4h0M80.6 31.6h0M91.0 50.9h0M133.2 131.3h0M193.6 153.5h0M117.2 157.7h0M131.3 69.4h0M185.4 152.9h0M128.6 148.3h0M75.9 103.2h0M97.0 88.5h0M79.9 145.4h0M94.3 150.9h0M180.6 155.4h0M143.2 117.6h0M101.7 160.4h0M149.0 146.7h0M168.1 161.6h0M128.8 158.9h0M211.8 163.2h0M137.1 134.6h0M136.6 156.2h0M84.2 101.2h0M114.1 160.0h0M101.4 59.9h0M117.3 158.1h0M80.2 135.9h0M149.4 146.7h0M95.1 163.6h0M82.1 124.8h0M115.7 160.6h0M113.6 107.6h0M79.6 164.7h0M114.1 155.8h0M82.4 102.8h0M115.6 159.6h0M236.4 100.0h0M95.1 140.6h0M82.6 163.3h0M95.7 93.8h0M218.8 157.6h0M82.6 14.5h0M119.6 124.3h0M143.0 148.7h0M95.0 131.7h0M122.2 159.6h0M112.9 123.7h0M152.5 141.8h0M81.2 154.6h0M138.7 164.0h0M84.0 113.6h0M139.8 134.5h0M145.0 118.6h0M122.5 154.6h0M148.9 161.0h0M110.9 156.3h0M99.1 164.7h0M80.3 93.7h0M92.3 83.2h0M188.2 134.8h0M236.2 161.0h0M105.2 163.9h0M145.0 143.8h0M96.4 115.5h0M90.5 150.3h0M78.1 151.0h0M138.1 123.8h0M132.8 132.2h0M139.5 157.2h0M103.3 111.2h0M87.4 157.2h0M145.8 156.4h0M99.6 158.2h0M138.0 153.9h0M150.4 163.1h0M81.0 64.5h0M106.9 132.6h0M107.7 163.4h0M148.4 144.5h0M80.6 41.4h0M123.9 73.3h0M122.8 145.3h0M93.9 14.2h0M85.2 152.2h0M80.3 118.0h0M222.4 155.5h0M79.8 152.1h0M236.4 144.8h0M123.5 147.7h0M90.2 159.4h0M93.8 111.3h0M104.7 121.3h0M118.9 126.3h0M79.0 136.5h0M148.8 102.7h0M81.6 164.6h0M151.0 159.1h0M110.0 164.4h0M155.4 157.0h0M141.0 160.3h0M91.0 131.0h0M145.3 145.0h0M111.0 163.2h0M143.7 158.9h0M80.3 112.2h0M119.2 164.6h0M82.9 146.8h0M100.0 92.7h0M128.1 108.7h0M119.9 113.5h0M108.6 106.4h0M205.7 135.3h0M140.4 150.0h0M99.1 160.5h0M88.8 164.5h0M122.1 46.5h0M79.7 100.1h0M140.3 117.4h0M90.8 108.1h0M83.6 120.9h0M106.6 133.0h0M110.4 117.1h0M150.8 163.0h0M151.0 101.0h0M177.7 151.3h0M135.5 148.2h0M157.3 133.2h0M147.3 147.9h0M148.2 160.9h0M102.0 134.2h0M104.7 150.1h0M202.4 159.9h0M78.8 122.3h0M153.6 163.8h0M118.3 146.2h0M76.9 66.3h0M89.9 158.5h0M89.7 107.5h0M80.7 129.9h0M102.5 119.0h0M76.8 152.6h0M99.8 163.8h0M150.8 152.8h0M94.1 36.3h0M149.6 161.3h0M103.9 133.4h0M94.1 124.4h0M87.9 149.0h0M86.2 160.5h0M105.6 139.3h0M91.9 150.0h0M114.8 158.6h0M75.8 164.5h0M77.4 154.1h0M79.8 47.0h0M75.6 153.9h0M93.9 164.2h0M189.4 161.7h0M95.2 159.6h0M192.1 157.2h0M118.8 156.8h0M85.1 102.9h0M82.0 28.0h0M130.9 141.3h0M236.0 163.7h0M75.6 76.0h0M101.6 146.2h0M84.2 90.1h0M232.9 148.4h0M88.8 152.5h0M79.1 155.1h0M121.9 123.3h0M150.1 163.7h0M106.7 111.2h0M136.8 163.0h0M92.1 164.3h0M84.9 147.0h0M125.2 135.4h0M135.0 108.8h0M137.0 158.4h0M232.9 155.9h0M138.9 146.6h0M101.6 143.1h0M139.0 163.2h0M83.3 74.2h0M110.4 85.4h0" stroke="#363F88" stroke-width="1.6" stroke-linecap="round" fill="none"/>
<path d="M90.0 122.0h0M175.8 163.5h0M88.3 110.2h0M236.4 160.6h0M141.3 161.1h0M150.2 158.1h0M95.5 154.7h0M75.6 150.5h0M144.7 150.4h0M86.9 153.3h0M154.9 153.9h0M188.1 163.8h0M165.8 147.9h0M138.5 146.6h0M157.2 162.6h0M174.2 164.5h0M104.3 131.3h0M161.6 154.1h0M162.7 151.4h0M112.6 128.2h0M148.8 155.5h0M168.8 141.7h0M236.8 162.7h0M149.4 75.4h0M119.5 163.8h0M188.7 160.5h0M177.4 159.0h0M188.1 160.0h0M184.9 152.6h0M170.9 154.7h0M140.8 153.0h0M144.1 122.7h0M173.7 152.7h0M164.4 154.4h0M169.5 145.3h0M87.3 39.8h0M176.9 140.1h0M85.9 118.0h0M137.1 159.1h0M139.3 136.3h0M161.8 155.0h0M143.7 121.7h0M171.0 148.1h0M136.1 106.7h0M145.7 156.9h0M204.7 153.5h0M161.7 158.1h0M135.2 155.4h0M218.6 163.8h0M212.4 150.3h0M118.8 125.7h0M165.0 150.0h0M80.7 38.9h0M146.2 139.8h0M185.4 157.5h0M182.1 160.0h0M182.9 155.3h0M93.3 107.7h0M126.1 147.0h0M146.4 141.4h0M184.2 157.6h0M77.0 74.0h0M135.3 156.7h0M180.9 159.5h0M146.2 156.4h0M215.0 153.4h0M95.2 153.0h0M127.5 157.6h0M105.2 161.2h0M186.8 151.4h0M110.5 156.6h0M179.8 129.4h0M99.4 88.9h0M177.9 158.0h0M151.8 146.4h0M161.3 163.5h0M135.2 129.6h0M169.8 160.8h0M180.8 109.4h0M85.1 116.5h0M206.3 154.9h0M143.4 143.6h0M106.1 153.1h0M121.3 159.9h0M184.2 139.9h0M146.5 153.1h0M192.1 163.4h0M154.6 163.6h0M144.6 146.8h0M166.5 134.0h0M136.8 152.5h0M127.2 151.7h0M188.5 146.3h0M78.8 160.5h0M84.6 90.6h0M178.2 155.7h0M78.5 160.6h0M234.3 125.3h0M152.8 160.7h0M199.2 137.3h0M97.2 86.8h0M122.7 160.5h0M84.7 69.6h0M163.5 133.4h0M162.9 164.2h0M129.6 139.6h0M94.9 163.0h0M90.5 149.0h0M168.3 164.1h0M150.1 146.7h0M169.3 145.7h0M166.9 155.3h0M171.0 149.5h0M85.5 163.9h0M190.9 147.3h0M118.4 143.9h0M167.2 126.1h0M167.2 137.5h0M168.2 150.8h0M201.0 162.9h0M80.3 164.3h0M150.7 145.1h0M188.9 150.6h0M186.0 161.3h0M148.8 132.8h0M183.0 161.9h0M164.2 156.9h0M151.5 150.5h0M160.6 164.3h0M163.1 160.0h0M156.6 158.8h0M157.4 147.0h0M78.5 130.4h0M115.7 55.9h0M155.3 151.8h0M142.5 144.6h0M134.1 138.2h0M85.0 140.8h0M179.5 154.4h0M157.8 163.1h0M128.2 152.3h0M81.4 25.9h0M149.6 147.1h0M176.1 163.3h0M163.0 149.9h0M91.2 157.1h0M94.9 151.3h0M109.6 164.6h0M197.1 161.9h0M218.3 159.4h0M141.2 139.3h0M93.3 118.5h0M168.3 158.7h0M149.7 144.9h0M204.6 156.1h0M85.3 52.2h0M142.9 145.1h0M165.5 162.3h0M164.5 153.7h0M180.2 153.9h0M187.4 161.8h0M176.9 143.3h0M124.4 150.1h0M149.4 69.3h0M149.7 158.0h0M144.0 157.1h0M146.1 161.5h0M143.3 154.9h0M209.5 163.8h0M115.0 158.3h0M132.8 160.3h0M91.6 148.3h0M76.7 99.8h0M168.4 153.2h0M75.6 35.1h0M239.0 121.5h0M160.3 155.2h0M148.7 144.4h0M82.8 84.8h0M151.5 162.6h0M137.2 164.5h0M80.7 143.6h0M198.4 159.7h0M181.6 162.4h0M232.9 133.1h0M176.1 147.1h0M158.9 136.8h0M149.7 155.5h0M141.4 153.5h0M159.2 164.6h0M188.4 152.8h0M203.9 142.0h0M95.2 163.6h0M81.0 117.5h0M145.6 164.4h0M111.5 162.3h0M75.6 112.6h0M141.9 145.1h0M137.0 135.9h0M159.6 145.6h0M158.8 145.8h0M101.1 156.8h0M157.9 159.2h0M158.6 164.4h0M80.6 71.1h0M157.9 134.2h0M129.8 129.3h0M195.3 153.6h0M160.0 162.5h0M147.7 137.9h0M127.9 115.6h0M176.0 162.5h0M179.3 147.4h0M163.3 123.6h0M76.7 124.8h0M162.3 142.7h0M82.1 149.4h0M176.7 145.6h0M132.5 145.2h0M76.7 55.5h0M187.6 164.7h0M76.9 132.2h0M166.7 154.6h0M161.8 160.5h0M99.9 129.5h0M78.1 127.8h0M77.2 137.5h0M157.7 160.3h0M143.3 155.5h0M202.5 152.7h0M168.4 151.4h0M184.8 150.8h0M152.5 120.7h0M209.0 153.0h0M206.5 142.6h0M171.4 148.6h0M180.7 155.1h0M181.1 158.9h0M165.8 162.5h0M84.4 68.1h0M158.6 162.5h0M129.0 162.7h0M144.0 138.4h0M187.9 141.7h0M88.5 156.8h0M118.1 136.6h0M231.6 152.3h0" stroke="#E6B800" stroke-width="1.6" stroke-linecap="round" fill="none"/>
<path d="M85.9 114.0h0M122.0 152.9h0M79.3 67.2h0M80.7 163.4h0M98.9 163.4h0M146.5 154.2h0M126.4 146.3h0M95.6 139.0h0M105.8 148.3h0M100.5 135.5h0M179.3 154.7h0M94.7 134.7h0M188.5 148.2h0M84.2 156.7h0M91.9 144.1h0M97.9 157.3h0M217.2 157.8h0M125.8 158.5h0M122.3 158.6h0M113.9 146.0h0M136.3 141.4h0M80.3 163.1h0M86.4 122.0h0M99.9 152.9h0M76.4 127.9h0M155.5 160.2h0M89.8 102.4h0M112.9 160.4h0M85.7 113.7h0M107.2 140.3h0M122.2 134.6h0M92.4 123.0h0M92.7 161.3h0M77.7 135.1h0M87.6 137.6h0M99.2 163.3h0M140.5 140.4h0M76.0 164.0h0M95.5 141.3h0M177.1 156.7h0M78.5 163.4h0M145.7 117.7h0M76.3 106.9h0M115.4 159.4h0M223.9 156.5h0M84.1 134.6h0M85.7 163.3h0M80.1 58.7h0M159.5 157.7h0M82.1 156.4h0M150.1 137.0h0M143.6 157.0h0M98.4 160.1h0M82.1 143.7h0M83.5 164.0h0M237.5 160.5h0M156.7 162.8h0M99.5 160.3h0M97.7 145.3h0M147.3 161.4h0M157.0 153.3h0M145.3 122.7h0M80.7 102.4h0M75.6 132.1h0M103.4 76.3h0M151.7 122.4h0M75.6 88.0h0M75.6 101.0h0M99.2 147.9h0M86.8 146.5h0M80.5 163.3h0M87.3 102.0h0M75.7 146.6h0M154.9 125.3h0M87.0 163.5h0M98.7 146.9h0M90.7 146.4h0M80.0 49.8h0" stroke="#6AA8EE" stroke-width="1.6" stroke-linecap="round" fill="none"/>
<path d="M153.7 83.8h0M180.7 97.4h0M110.4 153.1h0M235.9 122.0h0M231.4 135.2h0M210.7 49.7h0M234.0 96.9h0M228.4 131.4h0M167.4 134.5h0M167.9 111.8h0M165.5 143.2h0M179.2 153.1h0M150.5 122.1h0M210.8 47.1h0M190.5 122.9h0M122.9 148.4h0M181.3 138.0h0M192.8 121.9h0M178.9 140.3h0M172.8 136.5h0M234.6 110.4h0M204.5 118.3h0M176.1 124.7h0M188.8 147.8h0M199.2 88.7h0M111.8 156.9h0M202.2 119.6h0M236.3 163.6h0M208.5 126.7h0M235.4 124.0h0M229.9 107.7h0M145.0 63.3h0M221.5 128.5h0M218.3 119.3h0M75.6 151.4h0M191.4 137.4h0M220.2 132.2h0M221.5 124.3h0M196.5 122.9h0M196.0 109.1h0M228.0 89.3h0M219.4 121.8h0M224.6 103.2h0M159.3 133.5h0M208.0 138.4h0M222.6 131.6h0M233.4 99.6h0M210.6 118.0h0M119.3 127.7h0M227.0 102.6h0M210.0 76.7h0M204.1 156.4h0M196.2 109.4h0M220.4 104.1h0M225.6 141.2h0M192.3 137.4h0M232.7 105.0h0M236.9 81.1h0M221.6 124.9h0M166.6 129.6h0M217.0 125.2h0M161.5 123.5h0M209.6 135.5h0M194.0 138.4h0M237.0 110.6h0M230.6 142.4h0M179.4 124.2h0M222.0 110.6h0M223.0 115.3h0M159.5 146.4h0M229.9 118.1h0M220.5 97.2h0M192.1 134.0h0M206.2 151.8h0M222.5 115.5h0M220.3 95.0h0M231.6 116.7h0M217.0 73.9h0M176.2 114.1h0M209.6 150.5h0M182.8 118.5h0M80.6 160.0h0M210.7 50.9h0M109.2 57.7h0M163.2 72.7h0M211.4 132.5h0M197.8 106.5h0M230.0 136.7h0M228.1 109.3h0M208.1 98.0h0M213.7 120.7h0M231.0 52.7h0M112.4 89.8h0M207.6 63.6h0M230.8 136.0h0M126.1 140.5h0M153.9 141.1h0M233.2 131.1h0M154.9 141.9h0M169.0 40.5h0M150.0 103.6h0M229.0 114.3h0M229.5 87.1h0M187.1 137.1h0M201.6 147.9h0M198.7 148.8h0M208.5 99.5h0M181.1 127.3h0M215.3 60.4h0M101.8 142.5h0M124.9 106.8h0M216.7 104.1h0M191.7 125.0h0M217.5 117.9h0M153.0 71.6h0M231.0 119.1h0M209.0 110.7h0M222.3 57.8h0M206.4 127.9h0M234.0 100.8h0M129.9 109.7h0M111.3 93.8h0M193.6 103.9h0M238.7 116.9h0M185.3 124.2h0M206.0 134.4h0M206.9 126.0h0M232.7 130.4h0M214.8 110.1h0M236.3 92.8h0M129.1 145.8h0M234.0 127.7h0M140.5 150.5h0M205.3 133.2h0M197.0 96.4h0M209.3 101.8h0M220.4 140.1h0M212.2 120.0h0M232.6 99.4h0M212.5 93.3h0M222.9 117.9h0M175.3 141.0h0M228.1 122.5h0M203.6 133.1h0M213.2 121.0h0M211.7 146.6h0M166.0 130.8h0M226.8 128.4h0M186.1 153.7h0M185.6 87.7h0M235.5 83.8h0M180.4 96.8h0M237.5 110.5h0M234.1 100.7h0M211.8 124.7h0M215.9 132.5h0M203.2 135.6h0M143.0 149.2h0M160.1 148.1h0M233.2 122.7h0M218.5 99.2h0M238.5 130.0h0M207.6 134.9h0M130.0 147.4h0M221.1 117.7h0M176.3 130.5h0M200.9 110.0h0M202.7 122.7h0M219.2 92.3h0M180.5 128.0h0M215.6 97.6h0M207.4 128.5h0M216.0 102.4h0M228.2 97.1h0M228.5 125.4h0M215.2 125.0h0M215.7 128.0h0M199.2 128.0h0M195.5 150.4h0M232.3 111.6h0M180.5 69.1h0M192.1 146.8h0M231.6 131.4h0M235.4 136.2h0M233.0 130.2h0M212.3 116.6h0M225.5 93.9h0M133.9 64.7h0M165.1 125.7h0M151.0 141.0h0M175.5 133.1h0M210.0 104.3h0M100.3 152.0h0M108.8 153.7h0M232.8 141.2h0M228.8 129.6h0M221.5 140.5h0M188.6 146.6h0M183.4 124.6h0M198.2 117.4h0M217.9 124.6h0M211.2 126.9h0M192.3 45.4h0M168.0 146.3h0M207.2 149.6h0M75.6 159.7h0M230.4 94.9h0M212.9 90.3h0M199.1 130.8h0M235.8 136.8h0M186.2 102.6h0M142.6 149.8h0M137.8 134.9h0M138.0 110.1h0M180.0 123.9h0M133.1 147.1h0M229.5 124.2h0M203.7 91.4h0M197.6 122.6h0M227.5 126.4h0M215.6 105.0h0M220.2 108.4h0M189.2 122.7h0M202.2 148.0h0M199.7 150.8h0M211.2 111.8h0M110.9 54.8h0M203.5 127.3h0" stroke="#3AA51E" stroke-width="1.6" stroke-linecap="round" fill="none"/>
<path d="M199.3 141.1h0M183.0 120.5h0M132.3 149.0h0M220.2 110.7h0M139.5 149.3h0M144.3 156.5h0M191.2 133.8h0M108.1 93.4h0M151.7 127.6h0M219.1 160.1h0M138.6 137.8h0M101.0 148.9h0M238.0 136.9h0M153.0 159.3h0M145.7 130.5h0M137.7 139.8h0M106.1 159.0h0M203.9 128.0h0M114.9 158.7h0M165.5 164.2h0M93.9 81.2h0M142.2 163.1h0M209.6 155.2h0M162.4 136.3h0M142.2 164.0h0M188.2 142.3h0M123.2 151.6h0M195.6 122.6h0M173.3 143.7h0M89.1 143.8h0M215.0 129.8h0M156.7 152.8h0M173.5 153.9h0M237.1 160.5h0M122.8 147.5h0M120.9 155.9h0M137.0 110.1h0M130.0 120.6h0M208.8 133.0h0M228.9 132.1h0M166.0 158.1h0M201.5 154.6h0M146.9 148.5h0M181.1 151.0h0M146.1 137.5h0M96.8 145.5h0M169.3 151.5h0M163.5 155.5h0M195.6 154.5h0M159.9 164.1h0" stroke="#5A5A5A" stroke-width="1.6" stroke-linecap="round" fill="none"/>
<path d="M95.0 140.0h0M146.5 104.6h0M114.9 146.9h0M123.8 148.5h0M151.7 144.5h0M149.6 163.4h0M161.0 134.9h0M160.3 146.0h0M162.1 160.0h0M127.4 153.0h0M117.6 132.4h0M173.5 159.3h0M159.7 148.1h0M141.3 152.8h0M169.8 136.8h0M155.9 156.7h0M77.6 136.5h0M187.5 116.2h0M101.6 98.7h0" stroke="#A020F0" stroke-width="1.6" stroke-linecap="round" fill="none"/>
<path d="M155.7 98.6h0M217.2 130.4h0M150.1 87.4h0M199.7 159.1h0M182.0 129.5h0M164.6 125.8h0M199.4 125.5h0M158.4 158.8h0M200.2 118.3h0M190.6 114.5h0M169.8 135.8h0M162.3 163.2h0M186.2 141.6h0M211.0 127.0h0" stroke="#C0101E" stroke-width="1.6" stroke-linecap="round" fill="none"/>
<path d="M194.3 132.6h0M186.3 102.6h0M181.7 123.5h0M201.8 99.9h0M219.1 118.0h0M219.5 104.8h0M211.1 119.7h0M206.7 147.3h0M182.1 150.4h0M220.4 112.7h0M165.7 130.6h0M194.1 106.9h0M225.0 136.1h0M186.0 116.0h0M177.9 136.1h0M196.8 130.8h0M207.5 117.1h0M192.4 155.4h0M147.6 104.7h0" stroke="#8E3A40" stroke-width="1.6" stroke-linecap="round" fill="none"/>
<path d="M61.3 288.2h0M89.6 286.3h0M57.7 286.1h0M79.1 283.3h0M27.6 283.7h0M64.2 286.0h0M54.3 287.5h0M29.8 254.0h0M54.9 280.4h0M53.2 285.9h0M62.8 273.4h0M62.2 284.8h0M97.9 277.6h0M79.9 277.8h0M58.9 263.8h0M69.2 288.2h0M105.5 269.5h0M65.7 283.1h0M65.6 288.1h0M26.0 288.6h0M75.3 288.4h0M36.2 263.2h0M55.7 280.4h0M59.7 280.6h0M39.3 280.6h0M41.7 280.9h0M87.4 282.6h0M52.0 285.9h0M27.9 262.1h0M68.3 273.5h0M76.2 277.0h0M67.6 276.5h0M59.8 288.1h0M64.8 284.9h0M64.5 283.9h0M75.1 274.0h0M42.3 274.9h0M64.7 287.9h0M72.8 284.3h0M74.6 255.3h0M44.8 263.3h0M72.7 287.8h0M26.6 274.4h0M63.9 284.9h0M28.6 274.0h0M52.5 283.1h0M77.3 282.0h0M54.3 283.0h0M46.0 286.3h0M57.3 284.5h0M78.4 288.5h0M42.5 274.3h0M86.3 288.2h0M87.1 283.5h0M27.3 288.7h0M76.9 285.9h0M73.6 279.1h0M73.6 287.0h0M63.1 277.1h0M57.2 288.1h0M29.7 264.4h0M80.3 286.1h0M71.0 284.6h0M60.5 287.0h0M66.4 281.9h0M81.6 283.8h0M96.7 285.4h0M63.4 273.9h0M29.5 265.3h0M38.6 280.4h0M77.2 288.1h0M91.5 285.4h0M65.9 279.8h0M66.7 287.7h0M66.7 283.7h0M70.7 265.6h0M57.6 283.6h0M58.6 262.4h0M30.3 273.9h0M60.8 285.1h0M43.2 288.2h0M73.8 284.9h0M60.3 284.6h0M85.0 285.4h0M69.6 275.3h0M31.6 241.8h0M86.7 281.7h0M55.0 288.6h0M32.7 258.7h0M32.3 288.1h0M39.3 285.7h0M90.7 267.6h0M66.4 285.9h0M35.0 222.0h0M49.6 285.3h0M61.9 274.2h0M86.3 263.4h0M74.5 273.7h0M29.0 281.9h0M82.6 282.3h0M51.9 284.1h0M73.4 262.8h0M69.9 276.7h0M81.5 276.5h0M28.0 277.5h0M31.1 269.7h0M28.3 264.5h0M23.9 259.6h0M72.2 280.0h0M71.7 286.4h0M36.9 261.7h0M66.8 286.9h0M59.3 281.8h0M48.7 233.4h0M69.7 286.7h0M62.5 285.1h0M32.5 275.4h0M68.5 285.7h0M93.4 286.8h0M89.7 283.6h0M86.9 286.6h0M70.4 282.7h0M32.9 286.2h0M73.2 286.7h0M62.6 287.0h0M50.2 282.0h0M66.9 280.0h0M27.9 267.8h0M23.9 285.1h0M65.0 288.9h0M48.9 288.3h0M50.1 261.6h0M30.8 247.6h0M73.6 281.2h0M58.6 278.3h0M79.9 283.4h0M56.4 286.7h0M86.6 288.9h0M34.5 282.6h0M79.7 286.3h0M78.2 266.1h0M97.8 285.8h0M66.3 261.4h0M71.7 287.8h0M65.8 288.5h0M67.6 284.5h0M87.9 285.3h0M38.0 276.3h0M71.6 288.5h0M65.6 275.5h0M48.8 276.8h0M70.3 279.4h0M43.1 271.1h0M71.1 286.1h0M60.7 287.3h0M60.8 286.0h0M79.5 282.1h0M64.5 283.9h0M77.6 279.7h0M65.5 264.7h0M34.7 263.0h0M44.6 266.5h0M42.8 287.9h0M38.5 259.0h0M74.0 284.6h0M69.9 287.0h0M68.6 272.8h0M92.6 281.3h0M64.0 288.7h0M63.7 285.9h0M80.6 287.8h0M27.0 256.9h0M29.8 287.8h0M28.5 271.0h0M77.6 279.6h0M57.6 263.4h0M80.7 280.9h0M65.8 276.9h0M36.7 274.9h0M69.5 279.2h0M64.8 282.3h0M71.3 283.5h0M55.7 278.9h0M78.6 280.1h0M80.8 284.4h0M45.1 283.4h0M92.4 279.3h0M83.1 285.6h0M63.1 283.5h0M61.0 279.9h0M59.4 277.1h0M68.2 283.2h0M50.4 283.5h0M46.0 280.1h0M108.4 283.6h0M101.5 275.5h0M79.3 285.9h0M65.4 287.1h0M65.8 266.5h0M87.1 281.7h0M56.0 278.8h0M35.5 277.9h0M35.7 263.2h0M70.7 285.1h0M72.3 285.6h0M103.6 285.2h0M30.4 265.4h0M40.9 278.4h0M23.9 274.6h0M79.3 288.5h0M42.4 268.7h0M34.0 276.2h0M82.1 278.0h0M78.9 283.8h0M29.3 288.2h0M57.6 285.4h0M50.7 278.5h0M86.6 275.3h0M72.8 274.1h0M30.4 274.6h0M26.6 281.4h0M66.1 275.7h0M107.2 270.8h0M35.9 281.3h0M25.5 274.4h0M37.7 274.6h0M34.1 261.0h0M74.5 273.4h0M53.0 287.2h0M52.1 278.5h0M59.4 287.6h0M29.4 283.7h0M72.6 271.1h0M53.7 287.2h0M75.2 286.6h0M57.6 270.6h0M59.2 288.3h0M65.3 269.2h0M43.1 285.2h0M71.5 277.9h0M40.3 283.2h0M25.8 266.2h0M46.6 279.4h0M62.9 278.6h0M80.1 286.3h0M70.4 284.9h0M42.0 284.5h0M35.9 287.4h0M29.7 276.0h0M104.4 286.9h0M81.2 286.4h0M24.2 258.7h0M92.7 288.6h0M25.8 265.7h0M47.4 275.2h0M33.8 280.8h0M61.3 287.6h0M84.3 285.2h0M108.4 287.5h0M87.4 279.9h0M74.9 282.5h0M29.3 286.7h0M39.6 282.8h0M49.5 283.8h0M93.3 287.0h0M75.5 280.9h0M75.3 285.6h0M71.7 281.0h0M29.0 284.8h0M49.9 270.3h0M28.0 277.0h0M81.3 278.5h0M83.7 279.7h0M29.6 285.6h0M60.9 280.9h0M51.9 281.0h0M31.9 274.2h0M67.9 269.8h0M36.2 270.5h0M30.4 253.0h0M58.6 286.8h0M77.5 274.5h0M81.5 279.4h0M79.7 268.9h0M51.8 266.8h0M66.6 288.3h0M57.2 281.4h0M74.5 281.0h0M67.0 288.2h0M72.7 273.0h0M96.2 282.6h0M46.5 288.3h0M80.6 274.8h0M42.1 285.2h0M79.8 284.5h0M72.5 288.2h0M66.4 281.0h0M24.1 251.7h0M68.6 284.4h0M45.2 268.3h0M26.7 275.2h0M28.2 267.5h0M34.2 288.0h0M81.2 274.2h0M27.4 274.8h0M55.4 285.0h0M78.6 285.1h0M80.3 289.0h0M93.7 278.5h0M60.5 288.1h0M52.6 286.0h0M76.1 279.3h0M31.8 284.9h0M78.1 284.0h0M59.2 287.6h0M84.1 288.9h0M36.2 279.0h0M41.4 269.9h0M55.9 268.2h0M44.1 242.3h0M65.4 283.5h0M33.0 271.0h0M36.1 255.6h0M82.4 288.8h0M92.7 268.7h0M34.4 276.0h0M65.8 280.2h0M29.0 275.0h0M38.3 269.5h0M69.8 286.7h0M75.5 285.7h0M72.5 285.0h0M60.4 284.9h0M68.4 278.3h0M65.1 285.7h0M46.3 273.5h0M25.0 240.2h0M72.5 285.7h0M49.7 289.0h0M40.9 262.4h0M34.7 283.3h0M67.9 288.8h0M74.4 283.2h0M82.1 283.7h0M29.0 265.1h0M64.9 284.6h0M34.1 278.5h0M84.0 288.9h0M32.0 256.1h0M72.2 278.4h0M25.4 252.2h0M37.0 268.3h0M54.1 279.4h0M71.1 287.5h0M30.3 244.4h0M50.4 271.7h0M70.8 284.1h0M60.1 286.9h0M104.3 278.1h0M77.1 287.9h0M59.1 264.1h0M60.4 284.9h0M64.9 288.1h0M83.4 285.0h0M75.3 272.2h0M61.6 276.7h0M76.5 284.7h0M50.1 283.1h0M63.5 284.5h0M97.0 274.6h0M30.4 285.1h0M26.9 268.5h0M37.0 267.5h0M23.9 282.1h0M79.4 282.3h0M81.9 286.6h0M78.7 285.0h0M41.7 263.6h0M64.7 284.4h0M72.3 275.3h0M61.0 285.1h0M69.0 279.7h0M62.5 286.7h0M24.8 282.5h0M107.2 267.1h0M82.3 274.3h0M71.2 270.5h0M26.9 242.2h0M77.9 284.7h0M73.0 268.6h0M38.3 278.6h0M66.3 279.4h0M35.7 287.8h0M80.7 278.4h0M84.0 282.0h0M77.1 278.5h0M67.5 282.0h0M87.0 276.6h0M108.2 286.3h0M70.3 285.1h0M26.6 269.1h0M66.0 286.3h0M75.7 275.7h0M59.4 286.8h0M50.9 274.0h0M25.6 276.9h0M53.8 280.4h0M38.7 284.5h0M79.4 278.7h0M55.6 287.9h0M84.9 286.6h0M67.3 280.7h0M34.3 266.4h0M29.3 273.1h0M52.7 247.1h0M69.2 285.1h0M50.6 264.8h0M33.7 246.5h0M105.7 281.7h0M83.9 278.7h0M80.0 278.1h0M79.6 284.5h0M56.4 287.7h0M26.6 272.6h0M62.2 283.2h0M41.7 279.5h0M59.0 282.6h0M44.7 286.2h0M75.5 288.1h0M78.0 285.9h0M80.3 288.7h0M78.4 285.5h0M28.4 275.8h0M62.7 287.6h0M70.3 281.8h0M33.5 285.9h0M39.5 248.9h0M83.6 269.6h0M37.8 281.3h0M46.6 287.0h0M76.8 278.7h0M66.1 278.0h0M90.4 281.6h0M71.4 273.4h0M25.9 283.3h0M60.0 271.0h0M62.0 283.8h0M87.7 282.6h0M74.1 287.4h0M89.9 284.2h0M35.6 268.1h0M71.9 286.2h0M32.8 278.7h0M72.1 286.7h0M30.4 288.1h0M73.7 288.0h0M83.7 283.9h0M72.9 286.7h0M78.9 277.9h0M55.2 287.7h0M52.9 280.7h0M68.6 287.9h0M71.8 277.0h0M86.3 285.6h0M92.9 276.2h0M74.5 286.0h0M74.9 271.8h0M52.5 281.9h0M81.9 284.0h0M50.3 286.3h0M83.3 268.5h0M37.4 237.0h0M28.9 261.1h0M93.2 288.2h0M88.0 288.9h0M70.8 269.6h0M95.3 286.0h0M74.4 287.0h0M63.9 285.6h0M93.2 280.3h0M74.1 276.0h0M59.1 279.0h0M80.8 286.3h0M93.9 279.4h0M34.3 262.8h0M53.1 275.0h0M29.7 223.9h0M40.1 283.2h0M95.6 280.9h0M93.6 288.3h0M73.9 288.2h0M67.9 269.1h0M24.7 253.6h0M55.7 276.9h0M57.0 268.3h0M66.8 284.6h0M52.5 270.6h0M55.7 283.6h0M96.9 281.6h0M24.5 288.1h0M70.4 285.4h0M91.3 262.6h0M66.8 278.9h0M52.6 278.9h0M52.4 280.8h0M37.6 278.0h0M28.3 280.7h0M28.5 286.8h0M73.6 286.1h0M35.6 279.5h0M27.0 278.2h0M60.2 285.8h0M90.6 276.9h0M62.3 267.9h0M30.8 260.7h0M58.3 275.0h0M72.0 287.7h0M51.4 280.5h0M75.2 283.4h0M80.0 286.6h0M100.2 284.0h0M34.1 253.6h0M28.2 241.5h0M42.9 267.8h0M50.5 278.3h0M78.6 287.3h0M57.7 266.6h0M41.2 269.2h0M85.0 281.6h0M85.7 279.0h0M64.2 282.5h0M62.5 285.6h0M27.3 283.2h0M82.2 286.5h0M73.4 277.9h0M79.6 286.1h0M27.8 243.7h0M69.5 271.7h0M28.6 283.9h0M71.6 281.1h0M60.4 288.9h0M33.1 276.4h0M67.4 285.1h0M44.6 284.4h0M80.7 285.9h0M73.3 281.8h0M72.6 286.9h0M82.7 288.9h0M98.0 288.0h0M78.7 288.3h0M24.3 257.7h0M44.5 284.3h0M61.0 281.4h0M37.7 276.3h0M66.0 279.2h0M62.2 275.5h0M88.1 287.6h0M71.2 285.0h0M47.4 260.4h0M55.3 287.1h0M38.8 242.4h0M59.1 287.0h0M75.3 288.5h0M67.6 281.1h0M41.2 267.9h0M60.3 285.9h0M67.5 285.5h0M69.6 287.2h0M83.5 272.6h0M71.3 287.3h0M72.3 274.8h0M33.6 227.4h0M78.9 279.2h0M50.4 288.5h0M92.7 279.5h0M62.5 281.3h0M39.6 280.0h0M57.3 276.9h0M42.5 280.7h0M29.7 275.9h0M59.1 284.1h0M72.0 272.8h0M25.2 288.0h0M51.1 272.3h0M30.8 271.9h0M23.9 266.4h0M47.7 225.2h0M60.1 273.6h0M27.8 285.7h0M77.1 277.8h0M94.4 283.5h0M40.7 280.2h0M42.1 284.0h0M59.8 285.7h0M61.2 277.4h0M93.9 258.8h0M61.3 280.5h0M28.5 272.4h0M72.7 282.6h0M72.0 280.0h0M72.8 279.2h0M68.0 284.0h0M26.7 234.1h0M64.5 285.1h0M29.3 266.8h0M49.9 275.7h0M54.4 282.5h0M30.8 274.7h0M66.5 281.0h0M72.8 253.9h0M78.6 282.9h0M53.1 280.9h0M66.1 288.2h0M50.7 271.0h0M42.0 279.9h0M54.2 281.9h0M81.1 283.7h0M52.8 287.7h0M85.3 289.0h0M57.8 275.0h0M94.1 251.0h0M76.8 285.3h0M85.3 285.8h0M84.9 288.2h0M89.6 260.5h0M63.5 275.0h0M75.0 284.2h0M31.6 275.3h0M44.5 280.8h0M67.2 276.6h0M85.8 288.0h0M83.9 284.5h0M63.2 276.9h0M66.8 286.2h0M84.7 281.9h0M26.1 241.0h0M45.8 276.4h0M36.1 279.2h0M59.3 283.2h0M66.8 271.9h0M47.9 263.1h0M79.7 268.1h0M77.8 277.6h0M90.4 288.1h0M59.7 280.9h0M86.9 283.3h0M71.0 281.8h0M45.4 281.7h0M40.9 287.9h0M105.5 285.2h0M77.8 276.8h0M58.6 278.8h0M54.4 288.5h0M24.9 249.0h0M24.9 244.4h0M88.5 283.2h0M37.3 252.3h0M25.5 237.5h0M83.2 283.8h0M73.6 286.0h0M69.9 273.6h0M46.3 286.5h0M70.0 277.9h0M67.0 281.2h0M64.2 276.0h0M62.9 283.2h0M71.6 281.5h0M76.0 287.9h0M90.5 286.4h0M72.9 277.8h0M54.7 269.2h0M71.4 277.9h0M27.3 286.6h0M77.5 283.0h0M88.4 288.1h0M23.9 281.9h0M71.3 281.8h0M83.7 281.3h0M91.6 283.4h0M53.5 285.0h0M51.8 279.2h0M105.7 275.9h0M30.5 278.8h0M26.9 256.1h0M71.1 285.0h0M33.6 265.4h0M44.2 286.7h0M60.7 276.7h0M67.6 288.3h0M61.1 275.4h0M82.3 282.8h0M69.2 280.4h0M49.7 263.5h0M74.6 275.6h0M74.9 285.8h0M32.5 281.1h0M94.2 286.5h0M86.2 286.0h0M42.9 287.8h0M47.3 288.0h0M26.2 259.6h0M73.3 259.7h0M37.9 286.3h0M82.4 286.2h0M59.6 284.3h0M57.4 287.3h0M61.9 285.0h0M65.9 288.2h0M29.9 259.5h0M81.6 288.0h0M79.6 288.4h0M54.9 287.5h0M41.5 277.5h0M54.4 287.8h0M29.9 249.9h0M64.1 270.4h0M75.3 287.8h0M80.2 283.0h0M48.2 257.1h0M72.4 269.2h0M49.2 283.3h0M77.2 284.4h0M74.2 283.9h0M28.0 278.6h0M74.9 288.9h0M81.7 287.4h0M34.0 282.6h0M81.0 288.3h0M108.3 281.2h0M81.8 268.3h0M74.6 288.3h0M72.5 284.4h0M42.5 270.6h0M30.2 278.6h0M82.8 271.7h0M27.3 208.4h0M36.2 271.1h0M39.8 274.0h0M23.9 247.2h0M73.7 282.0h0M34.1 280.5h0M31.2 282.4h0M82.8 274.6h0M35.8 274.2h0M86.6 288.1h0M70.2 286.8h0M66.9 284.1h0M47.2 281.0h0M31.6 251.8h0M92.6 288.5h0M53.3 285.0h0M28.4 276.9h0M34.5 287.9h0M33.5 288.0h0M68.4 288.3h0M41.2 278.5h0M67.0 283.1h0M29.7 281.1h0M36.6 286.6h0M63.9 281.1h0M62.6 277.3h0M71.3 286.3h0M34.0 286.2h0M70.0 271.1h0M77.8 286.8h0M34.2 241.7h0M51.5 276.3h0M78.1 287.9h0M85.2 277.7h0M63.9 276.5h0M32.3 276.8h0M41.5 276.1h0M71.8 282.9h0M36.6 284.2h0M49.6 271.3h0M58.4 284.5h0M96.9 275.5h0M61.4 281.5h0M73.3 279.0h0M80.3 285.4h0M43.1 283.9h0M78.9 277.4h0M67.4 286.1h0M96.4 270.3h0M29.9 272.6h0M77.0 275.7h0M96.8 280.9h0M66.4 284.7h0M59.8 285.8h0M77.5 285.2h0M61.0 287.9h0M75.4 272.3h0M28.1 282.1h0M55.4 281.0h0M25.6 270.5h0M95.2 287.1h0M92.5 287.3h0M83.6 269.9h0M54.6 281.5h0M83.2 286.2h0M26.2 272.9h0M70.6 285.5h0M69.3 280.3h0M81.3 285.0h0M69.8 282.3h0M78.5 285.8h0M69.5 288.0h0M26.9 277.3h0M54.5 287.9h0M64.8 277.2h0M82.2 277.3h0M26.2 275.9h0M39.9 259.2h0M25.3 268.8h0M62.9 282.8h0M43.1 264.1h0M38.2 232.3h0M96.8 267.1h0M71.8 280.6h0M75.0 286.1h0M62.2 289.0h0M45.9 284.4h0M63.7 280.4h0M27.6 268.7h0M72.5 287.6h0M53.0 285.5h0M91.2 286.3h0M77.6 281.7h0M57.1 280.5h0M98.8 282.5h0M67.2 284.3h0M69.9 285.3h0M61.0 279.8h0M28.1 287.9h0M64.3 283.5h0M49.2 278.3h0M66.0 285.3h0M52.4 274.5h0M34.3 274.2h0M53.8 279.4h0M70.3 286.4h0M69.9 282.7h0M57.5 273.8h0M59.2 284.2h0M28.2 274.5h0M64.2 279.5h0M96.0 286.5h0M51.0 286.1h0M93.9 281.2h0M73.3 287.1h0M80.3 282.5h0M62.6 269.4h0M34.6 277.6h0M71.7 288.2h0M75.0 287.4h0M29.7 288.8h0M83.4 277.6h0M50.7 279.8h0M35.6 274.7h0M59.3 287.2h0M65.4 288.3h0M66.0 286.6h0M69.2 288.0h0M33.3 260.1h0M103.1 280.6h0M67.6 285.0h0M31.4 280.8h0M25.3 260.3h0M95.8 288.0h0M79.8 283.8h0M91.6 277.8h0M23.9 250.6h0M37.2 288.9h0M66.4 268.6h0M84.0 280.0h0M74.0 286.3h0M34.1 280.9h0M31.9 225.4h0M53.3 287.6h0M27.0 287.8h0M33.0 254.3h0M51.5 236.0h0M88.4 286.6h0M84.1 288.3h0M63.1 286.3h0M33.2 275.1h0M86.0 283.5h0M35.5 287.7h0M52.8 279.0h0M67.5 284.7h0M45.1 287.8h0M35.7 278.3h0M96.9 267.9h0M106.9 286.2h0M27.1 258.5h0M49.1 286.1h0M72.2 279.1h0M49.8 288.8h0M62.1 277.5h0M86.4 272.4h0M76.0 284.1h0M87.5 288.4h0M32.9 262.7h0M70.1 274.8h0M49.2 280.1h0M86.3 287.5h0M52.8 285.7h0M78.2 285.4h0M36.5 284.6h0M77.7 281.3h0M64.4 283.6h0M68.8 282.4h0M63.5 287.3h0M84.7 266.5h0M106.9 284.5h0M99.8 286.7h0M28.3 286.0h0M37.5 275.8h0M36.3 286.2h0M70.3 284.1h0M78.1 277.5h0M90.2 272.8h0M29.8 235.0h0M32.5 285.7h0M67.7 282.9h0M50.3 285.5h0M99.0 287.9h0M88.4 263.7h0M71.8 281.1h0M77.2 276.6h0M94.1 270.8h0M70.1 264.9h0M64.8 287.8h0M80.0 280.0h0M39.4 282.9h0M71.3 279.9h0M35.9 272.2h0M25.9 283.7h0M39.6 269.0h0M77.9 288.3h0M65.4 286.3h0M59.5 278.9h0M57.8 247.9h0M27.5 285.5h0M62.4 285.1h0M68.5 286.5h0M27.8 277.3h0M30.4 253.9h0M71.3 279.7h0M38.3 281.8h0M40.5 276.9h0M41.1 283.0h0M74.4 287.2h0M88.9 285.9h0M91.1 275.9h0M74.6 283.4h0M61.5 287.9h0M71.8 287.7h0M45.4 273.3h0M80.3 285.4h0M26.8 283.6h0M95.7 250.8h0M35.9 256.8h0M74.6 288.0h0M24.4 266.2h0M48.2 279.6h0M49.9 275.6h0M69.2 271.1h0M41.6 254.1h0M26.6 255.2h0M29.4 246.6h0M24.2 244.3h0M100.3 285.3h0M28.4 281.2h0M52.1 277.4h0M54.5 254.7h0M50.2 277.7h0M73.7 287.9h0M79.1 280.2h0M24.9 270.2h0M58.2 279.3h0M92.1 287.3h0M39.7 270.0h0M78.8 275.3h0M66.6 283.2h0M85.0 285.6h0M28.6 272.0h0M72.2 274.9h0M72.4 283.2h0M76.7 284.9h0M62.3 281.5h0M73.2 288.6h0M25.7 223.4h0M75.8 286.7h0M61.3 275.8h0M61.3 288.2h0M69.1 273.7h0M54.1 277.6h0M97.2 286.6h0M57.1 287.5h0M85.5 283.9h0M95.6 263.0h0M49.4 282.1h0M71.8 269.2h0M78.7 278.2h0M97.0 288.4h0M92.4 288.4h0M63.9 280.8h0M35.0 288.9h0M57.3 288.3h0M85.0 274.1h0M69.2 288.3h0M87.3 277.2h0M88.7 281.0h0M71.3 281.5h0M31.8 263.9h0M69.2 285.3h0M24.5 268.1h0M27.3 255.7h0M30.5 285.6h0M25.0 258.2h0M25.2 244.3h0M90.0 283.2h0M59.6 279.0h0M68.6 282.0h0M59.1 288.3h0M71.7 285.2h0M58.4 279.3h0M34.6 278.4h0M39.8 263.9h0M58.5 269.2h0M67.7 286.6h0M73.5 287.1h0M89.9 288.6h0M86.2 277.9h0M41.5 288.2h0M72.3 281.6h0M55.4 256.3h0M71.0 284.4h0M66.3 288.9h0M61.8 286.8h0M59.2 288.4h0M71.4 272.9h0M71.4 277.3h0M84.2 283.3h0M90.5 283.9h0M75.7 284.1h0M58.5 288.5h0M87.0 285.2h0M72.9 284.4h0M88.1 275.5h0M48.9 280.1h0M53.7 280.6h0M38.5 279.3h0M42.1 279.5h0M79.3 285.3h0M65.9 276.2h0M41.0 279.6h0M23.9 288.1h0M58.1 266.0h0M44.9 284.7h0M73.7 287.6h0M41.8 278.3h0M59.3 283.8h0M49.2 269.6h0M80.6 281.6h0M78.3 271.3h0M45.3 263.5h0M94.9 288.1h0M68.8 267.3h0M40.3 288.4h0M68.7 287.5h0M50.8 288.2h0M74.6 285.0h0M78.1 287.4h0M82.6 286.0h0M70.2 256.8h0M74.2 287.8h0M28.4 281.1h0M66.6 282.2h0M34.3 281.8h0M49.9 280.8h0M28.9 278.2h0M47.5 275.0h0M88.4 286.7h0M55.1 284.9h0M79.5 278.1h0M66.6 285.2h0M72.3 282.3h0M69.2 284.7h0M71.5 288.7h0M65.3 271.8h0M28.2 281.5h0M75.6 273.7h0M54.3 282.7h0M78.5 272.5h0M66.0 284.7h0M80.6 281.7h0M63.6 277.8h0M50.1 289.0h0M61.9 270.2h0M45.5 287.3h0M75.1 287.9h0M58.9 284.2h0M66.9 284.4h0M49.1 270.3h0M82.5 280.7h0M72.2 288.4h0M74.8 288.7h0M40.4 262.1h0M76.2 284.3h0M34.3 280.6h0M27.6 256.6h0M71.8 287.0h0M62.7 287.9h0M72.7 281.0h0M52.7 279.0h0M69.9 287.8h0M70.8 286.3h0M85.6 288.0h0M63.6 281.8h0M41.1 283.3h0M75.0 284.4h0M25.5 284.6h0M61.3 274.6h0M54.3 271.9h0M34.9 285.4h0M73.5 288.1h0M80.0 286.1h0M63.4 285.4h0M31.9 263.2h0M35.5 249.3h0M76.4 268.8h0M56.8 266.8h0M86.9 283.8h0M98.0 262.5h0M75.3 284.4h0M31.3 274.9h0M64.0 280.3h0M58.7 281.3h0M74.0 267.2h0M28.0 212.2h0M72.7 279.8h0M37.7 269.5h0M83.0 288.3h0M24.2 210.5h0M37.0 279.6h0M67.0 286.2h0M48.4 287.6h0M61.9 271.4h0M27.3 288.6h0M56.0 252.5h0M61.2 284.9h0M30.0 250.8h0M89.0 280.8h0M66.7 284.6h0M101.2 275.0h0M68.4 285.7h0M106.8 274.9h0M43.1 272.2h0M102.9 278.7h0M63.1 269.6h0M54.3 277.9h0M65.6 277.0h0M67.7 285.5h0M63.3 268.2h0M69.0 288.5h0M80.3 288.9h0M69.4 284.0h0M54.7 256.8h0M27.1 287.4h0M69.4 284.2h0M57.1 281.8h0M83.4 287.0h0M77.0 288.8h0M33.9 277.3h0M34.7 275.5h0M55.0 282.0h0M81.2 275.8h0M75.0 277.8h0M53.1 239.8h0M95.4 286.2h0M24.5 252.0h0M52.2 272.1h0M29.1 232.6h0M72.6 288.5h0M100.0 287.1h0M68.2 282.9h0M78.0 284.7h0M79.5 282.8h0M70.8 264.2h0M75.6 268.9h0M75.9 287.5h0M84.1 288.1h0M55.7 285.9h0M34.9 287.4h0M25.7 217.4h0M53.6 282.5h0M69.9 280.1h0M76.0 288.8h0M56.9 267.5h0M72.2 266.9h0M34.3 271.8h0M27.6 288.2h0M33.7 260.7h0M63.6 288.6h0M59.0 280.2h0M49.4 277.1h0M70.4 269.6h0M32.5 267.1h0M76.6 283.7h0M102.1 264.0h0M35.2 288.0h0M46.9 269.7h0M79.3 281.4h0M43.8 285.6h0M54.8 286.8h0M40.5 288.9h0M61.5 278.9h0M94.5 287.4h0M94.1 288.9h0M61.6 276.9h0M108.2 260.1h0M74.5 276.8h0M55.1 264.2h0M74.5 275.6h0M32.8 258.8h0M72.1 276.7h0M58.4 288.6h0M90.1 287.0h0M51.1 281.0h0M40.4 288.6h0M75.0 279.7h0M26.1 284.2h0M68.9 235.0h0M70.9 284.4h0M24.5 282.5h0M27.2 260.7h0M64.3 286.3h0M27.7 234.5h0M29.5 271.7h0M74.1 286.9h0M62.5 276.7h0M61.2 263.9h0M74.1 277.3h0M73.9 282.1h0M36.2 234.9h0M55.9 288.6h0M84.3 287.6h0M55.6 269.7h0M34.9 209.5h0M58.5 288.7h0M65.9 279.7h0M76.3 286.2h0M26.0 281.3h0M51.7 286.3h0M92.2 258.1h0M57.0 286.4h0M69.9 277.6h0M32.3 258.0h0M68.9 271.2h0M65.6 280.9h0M44.1 278.2h0M66.0 274.3h0M77.0 270.1h0M42.5 217.3h0M35.7 269.3h0M74.4 275.9h0M58.7 288.2h0M89.0 285.9h0M73.9 272.8h0M106.5 286.5h0M56.3 279.0h0M66.0 287.8h0M32.1 289.0h0M70.5 286.5h0M26.1 271.7h0M67.8 287.4h0M65.6 285.9h0M56.1 279.8h0M28.7 244.2h0M72.8 275.6h0M88.7 276.7h0M75.0 287.3h0M69.6 282.7h0M100.5 287.9h0M71.0 283.2h0M84.4 261.8h0M35.4 239.5h0M51.0 243.2h0M87.7 283.0h0M80.0 287.8h0M59.1 278.2h0M89.0 285.8h0M57.8 278.7h0M75.5 282.6h0M60.8 285.3h0M27.9 222.0h0M68.7 286.9h0M75.6 288.3h0M80.2 284.1h0M38.1 277.9h0M75.4 287.8h0M42.5 278.3h0M56.8 285.2h0M26.5 286.6h0M25.7 288.7h0M108.1 286.9h0M76.1 288.7h0M69.2 279.0h0M67.1 269.2h0M76.5 281.1h0M76.7 276.0h0M54.4 284.9h0M66.1 283.4h0M53.4 279.1h0M77.5 286.4h0M71.2 248.2h0M64.9 281.9h0M94.1 279.1h0M49.4 274.4h0M61.0 281.3h0M57.4 282.9h0M80.8 279.5h0M53.1 280.6h0M70.2 284.0h0M52.6 281.5h0M83.2 281.5h0M70.5 287.3h0M71.6 280.5h0M75.7 288.5h0M77.2 287.1h0M53.6 274.2h0M74.0 268.6h0M58.3 273.3h0M59.2 276.6h0M58.6 285.4h0M33.4 256.6h0M82.1 283.0h0M73.7 275.2h0M69.4 281.5h0M41.0 267.8h0M74.2 257.7h0M25.5 252.3h0M30.9 278.1h0M74.2 285.3h0M86.4 288.4h0M78.8 285.4h0M75.4 282.3h0M94.0 282.1h0M76.5 286.5h0M26.9 267.5h0M46.8 282.9h0M64.4 283.9h0M75.5 283.5h0M40.7 271.8h0M26.8 282.0h0M25.5 284.1h0M54.9 287.8h0M81.7 288.6h0M35.5 272.9h0M65.0 285.2h0M67.0 288.8h0M73.9 282.5h0M81.1 276.2h0M93.4 252.1h0M78.3 284.6h0M72.3 281.9h0M91.3 276.6h0M68.0 289.0h0M25.9 281.0h0M55.8 288.5h0M61.2 266.9h0M41.4 230.3h0M55.2 285.1h0M76.3 279.8h0M52.2 271.8h0M67.9 276.5h0M51.6 267.2h0M69.6 286.6h0M61.7 275.8h0M68.8 287.3h0M52.1 282.6h0M50.6 282.6h0M81.9 280.0h0M37.5 280.1h0M73.7 282.0h0M36.1 274.2h0M70.1 283.2h0M71.6 281.1h0M80.3 288.8h0M53.1 288.9h0M74.1 288.2h0M43.0 281.9h0M41.9 258.5h0M80.7 288.6h0M92.5 287.0h0M61.5 286.2h0M70.3 288.8h0M51.2 279.0h0M36.1 269.6h0M56.8 287.8h0M68.3 277.0h0M52.9 265.5h0M49.3 278.3h0M84.1 279.1h0M46.4 286.4h0M71.4 283.4h0M82.7 285.6h0M96.5 285.3h0M63.5 273.9h0M40.8 285.5h0M56.0 269.5h0M33.1 255.0h0M94.4 283.9h0M50.8 260.0h0M27.9 287.5h0M61.9 286.9h0M48.8 288.6h0M23.9 246.6h0M58.0 284.6h0M28.2 250.1h0M50.7 280.5h0M91.3 271.6h0M35.7 269.5h0M94.8 272.8h0M65.7 284.9h0M84.0 286.4h0M70.6 286.4h0M51.1 286.8h0M94.1 288.8h0M56.1 288.2h0M70.7 284.1h0M58.0 284.0h0M81.1 276.4h0M58.9 258.4h0M34.7 276.5h0M29.3 260.0h0M49.4 280.5h0M66.6 284.2h0M84.4 282.6h0M25.3 247.6h0M54.8 269.3h0M97.4 284.1h0M87.5 285.8h0M104.8 264.6h0M30.8 247.8h0M59.2 285.9h0M71.9 273.6h0M72.0 272.4h0M54.1 266.0h0M58.1 286.4h0M64.4 267.8h0M73.7 284.7h0M43.0 287.0h0M83.4 278.0h0M44.9 288.9h0M64.5 284.0h0M46.1 283.0h0M77.2 276.7h0M44.2 275.8h0M63.0 278.1h0M90.0 279.8h0M58.2 283.8h0M65.4 278.1h0M88.4 286.9h0M70.4 281.3h0M42.6 278.1h0M48.5 267.7h0M29.1 286.5h0M84.8 286.9h0M66.5 286.4h0M53.8 262.5h0M41.0 287.5h0M56.0 283.2h0M62.0 281.8h0M53.8 283.7h0M32.2 262.1h0M77.5 287.1h0M86.8 270.6h0M27.7 278.1h0M68.4 280.5h0M63.7 286.8h0M48.9 247.0h0M74.9 285.0h0M78.8 288.7h0M29.9 256.7h0M53.6 257.2h0M54.7 288.7h0M56.1 285.6h0M51.1 284.5h0M58.3 285.6h0M57.5 276.3h0M78.7 282.8h0M38.0 233.6h0M76.8 282.5h0M68.4 284.2h0M70.9 271.6h0M71.0 285.0h0M25.0 268.8h0M65.1 285.6h0M24.0 286.5h0M60.2 272.9h0M94.4 288.4h0M27.9 272.2h0M34.4 282.6h0M43.8 280.6h0M67.2 288.6h0M54.2 283.2h0M79.9 285.5h0M28.2 288.0h0M52.3 284.3h0M69.1 270.5h0M24.1 289.0h0M60.0 285.7h0M65.8 271.6h0M69.9 282.0h0M86.5 281.6h0M95.3 272.7h0M30.3 279.5h0M58.9 286.9h0M24.0 249.3h0M93.2 286.1h0M74.2 279.9h0M54.1 288.3h0M56.8 271.2h0M56.7 284.2h0M27.8 282.9h0M38.9 288.8h0M69.4 281.8h0M106.7 273.7h0M63.6 286.6h0M45.7 284.7h0M51.9 278.0h0M82.6 287.6h0M106.0 272.1h0M28.3 230.8h0M85.2 268.6h0M24.6 252.6h0M80.7 276.6h0M29.0 279.6h0M32.3 270.0h0M81.1 280.3h0M59.6 286.3h0M76.7 285.3h0M84.5 285.4h0M97.1 282.5h0M73.5 286.3h0M26.3 252.9h0M78.0 286.7h0M38.6 283.1h0M58.6 282.7h0M67.8 287.0h0M38.3 259.8h0M32.4 281.7h0M35.3 270.8h0M71.9 285.3h0M61.7 280.3h0M73.6 285.5h0M58.3 273.9h0M85.1 282.7h0M47.4 284.3h0M45.0 283.4h0M103.2 278.2h0M68.1 288.5h0M38.6 273.3h0M32.2 280.6h0M32.3 278.3h0M71.1 283.8h0M34.7 284.4h0M104.5 268.4h0M44.7 238.4h0M34.6 249.0h0M82.6 286.3h0M71.0 288.5h0M41.5 263.6h0M59.1 258.1h0M81.1 288.4h0M97.4 286.4h0M53.2 274.6h0M74.8 286.5h0M36.2 286.6h0M34.0 284.8h0M82.6 278.5h0M56.7 281.1h0M67.9 277.2h0M85.7 287.8h0M42.4 272.0h0M76.2 272.2h0M75.0 267.8h0M76.3 286.5h0M90.9 287.0h0M60.1 279.4h0M24.9 239.8h0M64.9 263.3h0M57.1 275.7h0M73.8 271.6h0M85.0 278.1h0M81.0 286.8h0M70.6 282.3h0M67.5 268.8h0M78.2 277.4h0M70.1 287.6h0M30.0 278.7h0M62.2 286.2h0M67.8 288.4h0M65.7 281.6h0M64.5 288.4h0M64.4 285.7h0M53.1 277.1h0M25.9 283.1h0M56.6 284.8h0M75.3 288.7h0M27.5 284.4h0M76.9 279.4h0M62.4 281.8h0M71.7 282.9h0M62.2 288.2h0M87.8 283.7h0M45.7 277.3h0M99.1 288.6h0M61.5 286.0h0M56.0 283.0h0M50.8 283.5h0M52.7 288.2h0M65.1 282.3h0M43.0 284.0h0M40.7 281.2h0M24.9 280.6h0M87.7 285.8h0M56.7 279.1h0M47.5 273.8h0M66.6 282.6h0M81.4 280.5h0M72.8 288.5h0M27.1 280.0h0M51.3 264.2h0M32.0 247.7h0M60.3 266.2h0M67.9 271.7h0M78.1 282.8h0M87.7 279.6h0M79.9 278.8h0M83.3 286.5h0M105.0 278.9h0M63.2 288.4h0M65.9 287.6h0M67.6 286.6h0M67.0 278.9h0M73.2 288.3h0M53.0 286.9h0M83.0 276.9h0M56.8 258.7h0M46.4 275.0h0M72.2 288.6h0M25.9 252.0h0M56.3 277.8h0M79.5 289.0h0M62.8 282.7h0M82.7 274.7h0M27.9 281.4h0M40.0 284.3h0M49.7 281.9h0M23.9 288.1h0M78.2 285.3h0M71.9 276.4h0M105.2 277.7h0M31.4 283.8h0M79.4 285.7h0M61.8 284.2h0M68.3 268.1h0M35.3 286.4h0M70.2 264.8h0M70.2 283.6h0M85.4 281.8h0M66.7 287.0h0M87.5 279.6h0M90.8 274.1h0M54.0 266.3h0M34.0 288.3h0M71.2 266.4h0M51.7 273.8h0M73.5 282.4h0M70.3 285.2h0M28.7 282.5h0M65.6 277.8h0M63.7 282.6h0M34.2 288.9h0M28.4 287.9h0M72.2 282.8h0M27.2 280.2h0M73.5 283.0h0M24.2 263.1h0M33.8 263.4h0M42.9 276.5h0M94.9 272.1h0M63.7 286.0h0M25.8 285.2h0M57.0 276.5h0M56.9 274.2h0M28.9 281.4h0M79.7 251.8h0M26.5 271.5h0M61.1 288.0h0M33.5 283.1h0M24.8 289.0h0M59.4 286.5h0M82.0 285.4h0M38.4 257.1h0M65.8 287.1h0M81.0 286.3h0M67.8 282.4h0M76.2 285.0h0M53.7 281.6h0M62.6 279.6h0M45.0 257.9h0M64.4 279.1h0M88.8 280.1h0M86.2 278.6h0M37.2 262.4h0" stroke="#E8B600" stroke-width="1.1" stroke-linecap="round" fill="none" stroke-opacity="0.9"/>
<path d="M165.6 273.3h0M152.2 287.2h0M154.6 286.3h0M173.1 283.4h0M197.4 288.8h0M223.6 281.2h0M207.1 287.9h0M221.4 286.6h0M157.8 276.1h0M165.4 280.8h0M165.9 287.8h0M152.6 242.3h0M145.3 252.9h0M134.7 274.9h0M135.6 263.4h0M144.4 285.7h0M135.7 225.8h0M162.5 264.4h0M179.2 288.4h0M134.6 243.0h0M166.5 247.7h0M146.0 252.1h0M168.6 288.7h0M141.1 285.1h0M163.2 273.6h0M136.9 284.2h0M156.1 272.2h0M172.1 288.9h0M159.5 288.6h0M167.1 278.6h0M170.6 285.8h0M143.9 264.7h0M134.5 254.8h0M181.0 283.8h0M211.5 284.0h0M177.8 288.1h0M134.1 232.6h0M147.6 288.9h0M136.2 281.8h0M134.2 214.6h0M178.7 281.9h0M207.3 280.8h0M171.4 287.7h0M151.7 276.9h0M146.1 278.6h0M148.0 288.6h0M140.5 288.8h0M160.5 288.6h0M136.4 283.4h0M160.2 257.9h0M151.8 274.1h0M150.0 288.3h0M142.0 268.8h0M177.6 275.5h0M178.9 282.7h0M169.1 287.3h0M142.5 264.9h0M150.3 258.1h0M192.6 286.5h0M171.9 288.6h0M178.0 285.8h0M158.8 280.7h0M136.0 263.4h0M135.2 270.7h0M138.5 226.9h0M160.2 264.9h0M162.0 285.5h0M146.8 288.9h0M203.3 287.3h0M140.4 223.6h0M145.4 280.3h0M166.6 284.5h0M173.7 288.9h0M137.7 278.0h0M134.9 284.2h0M156.8 280.4h0M177.7 267.7h0M136.0 287.9h0M145.1 283.4h0M220.3 281.0h0M179.4 287.3h0M135.1 264.6h0M142.1 286.5h0M134.1 243.7h0M222.2 278.1h0M134.6 271.0h0M134.5 218.1h0M167.3 265.3h0M147.9 286.7h0M139.2 287.1h0M165.6 289.0h0M143.1 252.6h0M199.8 285.2h0M143.4 279.6h0M161.1 258.0h0M143.3 282.9h0M216.0 283.7h0M139.0 272.7h0M184.2 282.2h0M192.2 279.2h0M170.9 282.1h0M159.6 288.5h0M173.7 284.2h0M183.9 288.9h0M212.1 287.8h0M167.3 282.1h0M185.0 283.5h0M155.8 264.8h0M142.0 288.1h0M139.2 283.9h0M134.4 241.8h0M135.2 255.1h0M164.7 282.5h0M162.2 288.8h0M137.1 277.7h0M170.4 285.2h0M143.3 277.2h0M138.5 256.0h0M168.7 286.1h0M134.1 238.4h0M159.3 283.5h0M135.1 251.4h0M179.0 285.6h0M155.2 276.8h0M194.3 280.7h0M138.5 284.2h0M140.0 270.2h0M141.1 284.5h0M141.2 238.0h0M156.8 281.1h0M139.3 279.8h0M189.2 284.0h0M139.6 279.2h0M177.4 276.0h0M159.7 280.0h0M161.6 261.0h0M167.1 279.5h0M166.3 283.4h0M168.8 286.4h0M139.6 288.1h0M172.7 276.0h0M154.7 279.3h0M140.2 285.1h0M142.2 271.1h0M148.5 284.5h0M146.7 288.6h0M139.2 268.6h0M199.0 288.6h0M146.6 271.6h0M178.9 281.7h0M179.8 276.4h0M161.4 287.6h0M139.5 257.8h0M154.2 276.9h0M156.1 274.8h0M144.2 276.3h0M177.2 277.6h0M168.9 287.7h0M143.9 289.0h0M151.6 279.0h0M139.8 234.7h0M169.1 271.5h0M135.6 288.0h0M186.6 288.2h0M137.9 276.9h0M163.2 257.2h0M153.1 275.8h0M140.3 282.7h0M171.1 273.0h0M139.3 226.3h0M147.2 282.7h0M139.0 268.5h0M164.6 288.4h0M163.4 269.0h0M137.9 287.1h0M181.1 280.0h0M146.5 280.3h0M136.9 261.8h0M155.7 283.3h0M175.0 287.6h0M135.0 284.7h0M139.1 272.3h0M206.7 287.4h0M146.5 287.3h0M145.3 223.6h0M150.4 264.8h0M157.7 272.6h0M172.7 285.8h0M165.8 279.5h0M136.4 221.4h0M222.8 288.9h0M154.6 286.4h0M175.3 277.9h0M170.1 285.4h0M140.0 239.3h0M216.2 281.4h0M137.0 262.5h0M170.5 267.9h0M161.8 266.7h0M148.2 272.6h0M148.0 283.3h0M192.1 286.0h0M166.8 279.4h0M167.2 287.1h0M141.4 288.1h0M134.4 250.1h0M162.9 283.5h0M156.4 283.4h0M167.0 276.8h0M140.1 277.7h0M156.6 286.4h0M180.9 284.1h0M139.6 282.0h0M155.8 286.2h0M140.5 275.2h0M136.7 234.4h0M209.5 261.6h0M159.8 262.6h0M152.8 287.2h0M163.6 268.6h0M162.6 286.6h0M214.1 286.9h0M171.8 288.8h0M142.5 288.4h0M163.0 285.7h0M179.1 285.4h0M151.1 288.5h0M183.2 250.1h0M171.3 284.8h0M142.0 263.2h0M198.6 287.7h0M173.9 285.1h0M143.5 279.7h0M170.9 278.7h0M142.0 276.0h0M168.7 267.9h0M186.9 272.4h0M178.3 271.2h0M134.8 238.0h0M213.6 278.3h0M168.0 287.6h0M204.4 288.0h0M189.7 285.3h0M144.1 261.7h0M154.7 282.0h0M137.3 263.4h0M150.7 271.3h0M139.2 258.3h0M134.5 211.9h0M165.2 266.7h0M139.7 247.9h0M171.9 285.5h0M141.3 269.5h0M179.8 286.8h0M150.3 266.2h0M187.2 288.5h0M176.9 286.2h0M213.3 281.0h0M147.6 288.8h0M141.8 274.7h0M170.4 273.5h0M137.9 261.4h0M136.3 283.2h0M136.0 258.1h0M191.0 286.3h0M158.8 286.1h0M162.9 281.5h0M148.3 278.2h0M167.9 266.0h0M139.4 288.8h0M164.6 281.2h0M154.6 287.2h0M150.2 287.8h0M143.6 286.9h0M160.6 288.8h0M148.5 243.6h0M135.4 276.5h0M156.8 287.9h0M149.6 288.3h0M173.1 287.6h0M151.8 282.9h0M174.3 288.7h0M166.6 269.9h0M176.9 280.0h0M147.0 286.7h0M144.1 234.2h0M135.4 260.5h0M146.9 262.4h0M163.9 283.7h0M158.9 276.8h0M177.7 270.1h0M177.1 288.1h0M172.9 284.4h0M190.7 279.6h0M151.8 288.9h0M136.7 238.5h0M180.9 289.0h0M169.8 273.9h0M134.7 266.3h0M138.8 288.2h0M170.8 282.1h0M180.5 288.9h0M192.7 287.2h0M165.0 286.1h0M178.2 285.4h0M172.9 287.0h0M134.1 239.5h0M143.4 282.7h0M137.5 278.9h0M137.7 255.0h0M159.8 277.1h0M163.2 273.4h0M215.3 283.0h0M208.0 288.9h0M142.9 279.0h0M195.0 288.5h0M136.9 280.2h0M165.1 276.8h0M196.5 284.6h0M138.7 236.7h0M165.4 262.2h0M155.3 249.7h0M142.2 231.1h0M134.2 273.9h0M142.4 274.0h0M151.7 261.1h0M135.3 278.7h0M177.0 277.8h0M173.0 285.8h0M157.0 267.0h0M140.3 283.1h0M173.8 271.0h0M145.8 278.1h0M176.4 275.9h0M135.8 286.9h0M134.9 253.8h0M167.9 284.9h0M177.4 285.8h0M146.1 261.1h0M185.4 282.3h0M171.3 283.3h0M180.9 288.9h0M143.5 282.9h0M148.3 215.3h0M141.0 288.9h0M154.9 282.0h0M144.7 250.5h0M151.2 288.1h0M220.0 288.2h0M157.2 283.0h0M134.1 270.1h0M141.0 279.2h0M139.8 278.7h0M134.8 279.1h0M136.0 214.8h0M136.4 272.4h0M221.0 256.0h0M134.6 280.0h0M180.9 264.9h0M139.7 270.0h0M167.4 276.5h0M215.5 281.6h0M202.2 279.1h0M169.1 277.6h0M145.0 282.5h0M209.0 265.6h0M156.3 288.6h0M178.0 256.2h0M156.6 287.4h0M171.3 288.5h0M152.9 257.0h0M143.4 266.1h0M167.0 284.2h0M155.0 258.3h0M149.5 287.3h0M168.4 284.5h0M137.1 284.2h0M149.2 273.9h0M150.5 217.2h0M134.8 240.6h0M136.6 283.7h0M163.6 287.8h0M140.3 274.3h0M167.9 277.4h0M167.7 283.3h0M143.6 279.4h0M138.5 278.2h0M141.1 266.0h0M149.1 281.1h0M135.4 243.5h0M164.1 283.6h0M139.3 284.4h0M179.0 274.4h0M143.0 281.2h0M150.7 287.1h0M135.9 253.2h0M149.4 262.9h0M161.8 281.1h0M156.4 272.2h0M175.0 285.8h0M160.1 288.6h0M141.2 280.0h0M164.6 283.3h0M212.1 285.7h0M201.9 278.9h0M137.7 276.5h0M181.3 287.5h0M150.4 268.0h0M177.2 286.0h0M146.8 276.0h0M142.1 281.1h0M173.6 284.6h0M134.6 258.1h0M156.6 288.2h0M134.7 286.4h0M175.4 279.8h0M222.7 283.1h0M143.2 278.8h0M151.7 285.5h0M134.4 250.1h0M145.1 287.1h0M137.2 262.2h0M168.6 276.6h0M135.1 249.2h0M154.7 272.0h0M158.7 275.7h0M168.8 276.2h0M159.8 277.1h0M163.3 268.6h0M213.9 250.6h0M156.6 287.2h0M180.8 287.9h0M149.5 276.3h0M172.1 262.6h0M145.9 287.8h0M150.1 278.9h0M160.1 277.0h0M225.1 273.7h0M149.3 283.4h0M217.3 280.5h0M136.4 278.5h0M156.2 285.7h0M217.6 271.0h0M139.9 276.5h0M150.2 262.2h0M146.4 274.6h0M138.2 204.5h0M185.5 287.7h0M153.5 280.6h0M159.5 275.8h0M138.4 272.3h0M180.0 280.6h0M149.1 287.6h0M152.0 267.3h0M145.1 266.3h0M164.9 286.8h0M165.6 288.1h0M171.4 287.2h0M215.3 251.5h0M167.4 285.9h0M139.4 272.7h0M158.1 281.4h0M160.9 273.8h0M193.2 288.2h0M176.8 276.3h0M140.5 240.6h0M175.0 288.3h0M174.4 285.0h0M166.5 285.3h0M168.8 288.2h0M136.2 273.7h0M136.9 260.7h0M215.0 268.8h0M179.0 288.3h0M136.3 262.4h0M138.0 260.5h0M197.4 284.0h0M199.9 286.5h0M217.1 283.9h0M160.1 254.7h0M188.4 284.3h0M185.5 284.6h0M150.8 258.2h0M138.5 286.4h0M136.2 266.5h0M156.4 268.9h0M146.8 246.2h0M145.8 288.6h0M184.6 287.5h0M175.6 287.1h0M219.2 275.1h0M161.3 288.6h0M163.8 267.7h0M159.1 283.5h0M160.3 286.1h0M165.2 285.2h0M178.5 287.6h0M153.4 276.2h0M173.4 284.4h0M169.4 275.7h0M137.1 288.7h0M135.4 288.2h0M157.4 288.3h0M136.6 276.5h0M176.2 284.8h0M134.5 262.9h0M164.2 287.8h0M207.5 282.6h0M215.1 284.0h0M135.1 280.5h0M134.6 220.3h0M137.7 281.6h0M170.8 278.8h0M165.8 285.6h0M139.1 225.4h0M165.0 282.2h0M172.3 279.5h0M144.4 276.3h0M175.0 281.1h0M181.2 277.0h0M188.2 284.5h0M191.5 288.8h0M149.3 259.6h0M219.1 277.4h0M200.4 288.2h0M206.5 283.6h0M173.2 276.8h0M138.2 248.9h0M144.9 288.8h0M134.1 252.2h0M137.0 276.6h0M178.4 288.3h0M156.1 286.0h0M163.2 258.0h0M142.5 288.2h0M135.6 243.0h0M134.7 276.8h0M160.4 276.4h0M193.8 284.5h0M167.4 286.4h0M180.1 288.8h0M213.6 288.6h0M138.5 229.2h0M134.1 208.1h0M154.5 288.0h0M140.7 288.7h0M149.9 281.7h0M169.4 281.7h0M175.8 280.5h0M137.1 287.5h0M179.8 288.9h0M168.0 284.8h0M154.0 284.8h0M167.6 279.5h0M138.7 276.9h0M135.2 254.2h0M151.0 281.0h0M157.6 280.6h0M170.4 285.6h0M147.9 256.0h0M136.2 278.2h0M153.1 275.5h0M146.7 288.1h0M168.7 262.4h0M178.3 287.9h0M136.0 282.1h0M174.0 286.5h0M137.9 248.2h0M206.9 273.8h0M156.1 288.4h0M140.7 278.6h0M135.1 288.0h0M148.9 286.0h0M214.0 281.3h0M147.0 288.4h0M169.1 276.0h0M157.4 279.0h0M161.4 284.8h0M149.6 264.4h0M201.9 282.4h0M161.1 281.8h0M186.3 281.6h0M175.1 287.2h0M162.5 288.4h0M152.2 285.6h0M154.7 286.9h0M157.5 283.5h0M135.7 258.9h0M156.5 278.8h0M140.3 288.8h0M144.6 244.1h0M143.6 286.3h0M223.5 288.2h0M141.6 267.7h0M202.4 274.5h0M150.4 276.6h0M134.6 255.4h0M151.6 269.1h0M142.5 246.3h0M162.3 288.0h0M180.7 288.7h0M173.1 270.0h0M187.6 287.1h0M138.2 230.9h0M213.1 288.1h0M177.8 286.8h0M141.4 282.5h0M156.3 277.8h0M160.0 286.2h0M160.3 287.5h0M150.7 287.0h0M140.9 220.4h0M135.8 285.9h0M157.9 282.1h0M165.2 283.3h0M194.7 287.2h0M203.2 285.0h0M170.1 288.0h0M156.2 284.1h0M166.2 272.5h0M174.9 277.6h0M136.8 251.1h0M178.5 283.0h0M142.7 278.4h0M144.1 286.1h0M135.3 213.3h0M177.3 273.3h0M199.0 287.0h0M148.0 286.5h0M146.3 280.1h0M181.2 276.4h0M139.3 267.8h0M141.2 238.5h0M137.8 276.1h0M134.1 277.6h0M150.8 286.8h0M139.0 280.1h0M162.7 288.7h0M187.9 288.9h0M138.7 262.1h0M146.4 259.2h0M167.1 283.7h0M171.9 275.5h0M141.5 269.4h0M156.1 263.4h0M180.2 288.0h0M148.1 287.6h0M143.1 257.7h0M155.8 269.9h0M138.5 274.9h0M219.4 269.8h0M136.8 283.0h0M144.5 283.6h0M170.3 282.8h0M171.2 272.7h0M143.5 262.1h0M189.2 284.0h0M146.3 279.3h0M154.5 281.5h0M195.8 279.7h0M205.4 270.5h0M200.5 284.1h0M218.2 267.1h0M135.7 285.0h0M143.9 263.3h0M134.6 279.8h0M139.2 253.8h0M135.2 282.4h0M144.8 287.9h0M140.3 274.1h0M171.2 283.1h0M163.6 243.1h0M136.7 284.8h0M160.2 273.0h0M138.7 260.7h0M135.7 284.9h0M202.9 279.2h0M147.0 244.0h0M200.9 285.8h0M154.2 269.1h0M142.9 281.5h0M196.0 281.7h0M154.3 269.9h0M211.6 278.4h0M149.6 264.6h0M154.7 280.2h0M143.6 281.8h0M157.0 281.3h0M144.1 264.7h0M179.3 272.9h0M160.3 286.2h0M207.9 284.9h0M200.9 287.6h0M136.9 239.8h0M171.1 267.9h0M138.5 255.7h0M136.7 287.8h0M167.0 285.6h0M148.3 260.0h0M147.4 260.3h0M136.8 231.5h0M135.7 266.1h0M139.8 274.9h0M151.0 280.8h0M177.0 288.0h0M170.2 287.3h0M148.0 246.6h0M173.3 271.2h0M162.3 275.7h0M200.2 283.8h0M152.8 287.8h0M142.0 276.1h0M151.6 285.3h0M162.7 282.3h0M165.7 284.5h0M180.9 275.0h0M175.7 287.4h0M163.5 287.8h0M219.9 277.6h0M175.1 287.5h0M163.1 285.5h0M135.6 279.2h0M180.1 288.0h0M168.1 282.7h0M195.8 277.8h0M195.4 288.5h0M135.8 288.3h0M137.2 288.3h0M145.5 281.5h0M153.6 276.4h0M169.8 279.3h0M164.7 281.6h0M142.8 275.8h0M171.2 284.9h0M137.6 288.0h0M203.2 287.7h0M135.9 272.4h0M140.1 245.4h0M145.7 282.2h0M222.5 235.7h0M152.8 288.7h0M142.4 283.2h0M197.3 284.4h0M146.8 257.7h0M141.3 248.9h0M146.3 268.9h0M149.3 284.6h0M155.1 271.7h0M142.5 276.9h0M144.7 264.5h0M217.3 288.6h0M141.1 259.4h0M215.1 283.7h0M139.9 284.8h0M140.5 288.5h0M179.8 286.9h0M181.8 286.2h0M151.0 283.5h0M166.8 271.5h0M153.6 277.4h0M138.1 249.2h0M152.5 286.9h0M178.1 286.4h0M143.7 286.4h0M160.2 279.4h0M211.9 284.4h0M172.9 286.5h0M143.4 285.0h0M134.5 279.9h0M160.9 283.7h0M163.2 258.3h0M151.0 288.8h0M168.9 276.3h0M170.5 288.8h0M152.0 240.1h0M149.9 254.2h0M157.6 284.9h0M166.1 287.3h0M157.7 269.8h0M136.4 251.6h0M136.6 274.1h0M164.1 279.0h0M135.6 280.0h0M142.8 216.8h0M173.2 286.4h0M183.2 288.3h0M160.2 259.6h0M134.1 255.8h0M145.1 265.1h0M136.4 254.8h0M140.6 280.0h0M150.9 288.8h0M140.7 273.9h0M140.7 277.8h0M141.6 209.9h0M169.2 280.2h0M137.2 272.1h0M137.2 271.5h0M159.1 273.0h0M156.0 288.6h0M173.1 287.9h0M134.1 248.8h0M148.0 268.9h0M142.3 278.5h0M148.7 274.5h0M141.5 287.8h0M169.5 287.4h0M178.0 285.9h0M135.4 265.2h0M210.1 287.9h0M135.4 241.8h0M221.7 285.1h0M193.7 286.3h0M138.7 279.1h0M159.1 282.8h0M183.6 279.3h0M151.0 268.6h0M138.2 247.6h0M217.1 281.7h0M168.0 275.2h0M142.7 287.8h0M138.9 286.1h0M149.0 252.9h0M136.0 267.7h0M135.4 252.2h0M139.0 281.2h0M165.3 288.8h0M199.4 286.9h0M213.2 287.5h0M142.0 264.4h0M135.3 270.5h0M152.8 255.6h0M218.2 285.4h0M167.6 275.0h0M148.9 270.8h0M141.8 288.4h0M145.4 245.9h0M174.6 271.4h0M148.4 278.2h0M168.4 260.3h0M144.8 265.6h0M165.5 271.1h0M141.5 275.6h0M156.6 280.4h0M199.6 286.0h0M152.6 270.3h0M170.1 280.6h0M152.4 255.7h0M155.3 258.7h0M137.4 288.1h0M166.1 287.3h0M146.1 288.2h0M165.5 288.0h0M169.1 257.7h0M140.7 260.9h0M179.3 270.1h0M145.3 287.8h0M137.1 252.0h0M138.1 281.8h0M135.5 243.9h0M156.3 284.3h0M143.9 281.5h0M163.1 286.8h0M198.8 286.4h0M215.5 274.9h0M138.8 259.1h0M138.9 253.4h0M139.4 267.4h0M180.3 287.0h0M149.5 272.0h0M179.1 283.6h0M178.7 277.6h0M134.1 285.4h0M148.4 274.6h0M139.9 277.2h0M179.5 285.1h0M140.6 280.9h0M220.8 273.3h0M155.6 283.1h0M151.5 288.6h0M172.6 279.0h0M160.0 245.0h0M134.4 275.2h0M139.0 287.7h0M135.4 288.9h0M161.7 287.2h0M143.6 284.9h0M180.0 284.6h0M140.6 251.7h0M143.9 288.4h0M159.5 275.7h0M152.5 277.2h0M180.5 287.9h0M201.0 284.5h0M134.1 271.8h0M156.7 286.9h0M142.4 256.7h0M175.2 278.2h0M147.2 280.0h0M171.2 283.3h0M170.4 288.2h0M187.2 283.8h0M161.5 283.6h0M163.0 257.4h0M142.5 207.8h0M187.9 285.8h0M176.8 283.4h0M158.9 287.1h0M141.4 258.2h0M136.1 219.9h0M136.3 261.7h0M147.3 273.8h0M169.3 281.7h0M143.6 262.8h0M140.3 268.6h0M141.6 247.8h0M213.2 286.6h0M180.5 279.1h0M140.2 277.8h0M142.8 262.6h0M138.2 243.7h0M141.0 279.6h0M155.5 282.2h0M180.9 284.9h0M163.8 277.0h0M139.1 260.9h0M135.7 273.9h0M136.8 277.9h0M215.0 288.8h0M168.0 286.6h0M139.5 286.8h0M185.0 276.3h0M160.1 288.9h0M148.9 282.4h0M159.1 288.6h0M177.6 275.4h0M134.1 252.6h0M166.2 288.9h0M150.6 287.8h0M137.1 262.2h0M140.4 254.7h0M174.4 285.0h0M195.6 282.9h0M173.4 284.6h0M168.8 286.4h0M169.4 284.3h0M135.2 242.0h0M164.8 271.7h0M166.3 279.6h0M153.6 269.1h0M140.4 234.1h0M147.5 275.0h0M139.0 268.6h0M152.2 267.4h0M153.0 280.1h0M172.6 287.9h0M136.9 230.8h0M135.0 215.6h0M197.9 287.3h0M165.8 283.4h0M137.1 221.7h0M134.3 270.0h0M162.0 283.9h0M145.9 286.5h0M135.7 249.1h0M175.8 281.1h0M200.5 273.8h0M139.1 262.1h0M164.3 280.8h0M152.5 288.8h0M164.4 277.8h0M203.2 284.5h0M193.1 279.5h0M206.1 280.8h0M183.1 280.6h0M170.0 261.3h0M142.3 270.7h0M198.9 274.9h0M144.4 241.2h0M213.0 275.6h0M135.3 241.3h0M170.9 272.2h0M220.3 287.0h0M151.2 283.9h0M153.3 260.9h0M179.8 286.8h0M211.0 281.3h0M159.6 277.2h0M162.7 252.5h0M144.4 225.0h0M166.5 279.8h0M210.1 278.7h0M170.8 288.3h0M145.7 275.3h0M191.1 283.6h0M173.3 288.0h0M162.1 286.1h0M141.4 210.2h0M135.1 283.5h0M167.7 258.3h0M163.5 284.6h0M136.7 274.4h0M175.4 276.6h0M141.5 252.5h0M176.8 234.7h0M157.3 279.2h0M137.0 283.1h0M177.9 286.4h0M162.4 288.1h0M165.4 266.1h0M141.1 283.1h0M181.7 287.4h0M154.2 282.1h0M143.7 254.7h0M162.3 288.2h0M183.6 281.6h0M152.2 287.0h0M151.8 275.0h0M149.8 271.0h0M134.1 275.9h0M180.5 277.9h0M136.1 277.3h0M144.2 287.4h0M171.2 285.6h0M159.6 279.5h0M189.3 288.2h0M137.9 264.7h0M168.4 289.0h0M143.8 225.2h0M218.1 282.1h0M140.9 243.5h0M152.8 247.9h0M138.5 219.9h0M165.1 287.6h0M160.8 286.4h0M175.7 267.4h0M162.3 282.6h0M176.2 286.1h0M162.7 288.4h0M146.5 281.2h0M170.7 273.9h0M174.0 276.6h0M138.8 277.7h0M140.2 287.5h0M145.3 279.8h0M180.4 277.2h0M177.0 287.2h0M141.9 274.2h0M161.3 262.2h0M187.5 288.4h0M161.3 279.5h0M169.8 255.5h0M149.8 263.0h0M181.8 286.8h0M139.1 264.3h0M174.0 284.9h0M144.3 273.9h0M143.5 280.7h0M189.2 284.5h0M166.8 261.6h0M156.4 277.1h0M136.5 258.8h0M134.9 283.6h0M145.2 258.9h0M163.5 278.3h0M202.7 287.3h0M137.1 226.7h0M146.5 259.4h0M140.3 211.6h0M147.3 252.9h0M216.8 288.3h0M168.8 264.4h0M149.7 281.5h0M220.2 285.9h0M140.5 222.9h0M157.1 287.0h0M177.5 284.9h0M148.9 270.8h0M144.0 252.9h0M163.8 283.8h0M145.2 264.8h0M143.2 246.7h0M168.9 283.7h0M135.4 273.7h0M192.0 287.0h0M218.9 285.5h0M136.3 273.6h0M146.8 272.5h0M179.2 275.2h0M158.4 245.2h0M161.1 283.5h0M159.8 281.9h0M175.3 265.7h0M152.7 248.3h0M145.1 220.5h0M143.9 276.3h0M163.1 265.8h0M154.4 205.3h0M142.5 269.9h0M156.9 263.4h0M164.7 282.2h0M172.4 279.4h0M136.4 283.0h0M154.7 282.2h0M155.5 255.7h0M143.9 284.3h0M136.2 205.4h0M197.2 284.5h0M140.1 245.6h0M139.1 248.0h0M148.7 288.7h0M204.5 287.5h0M134.9 275.2h0M155.8 274.1h0M140.6 287.8h0M149.1 284.6h0M165.1 277.2h0M134.6 270.7h0M178.5 282.8h0M144.8 260.8h0M161.3 283.6h0M142.5 261.3h0M202.8 287.1h0M158.1 287.0h0M172.6 276.1h0M138.4 263.7h0M173.8 283.8h0M134.6 276.7h0M168.0 288.4h0M148.4 282.7h0M155.7 286.7h0M142.6 288.9h0M178.2 282.4h0M151.5 283.1h0M135.5 268.1h0M151.4 284.4h0M148.1 259.0h0M134.5 288.5h0M161.9 272.6h0M141.7 253.0h0M170.1 288.8h0M147.5 236.5h0M140.5 288.5h0M195.8 288.0h0M147.9 288.3h0M171.6 288.5h0M177.8 286.5h0M147.9 287.3h0M148.5 284.4h0M144.9 278.6h0M171.9 287.9h0M165.0 273.2h0M143.7 256.0h0M135.0 263.2h0M140.0 267.7h0M174.5 287.2h0M161.9 288.6h0M148.3 240.3h0M152.7 276.1h0M190.0 282.6h0M158.8 238.3h0M160.3 249.0h0M143.2 276.4h0M192.1 274.7h0M183.6 280.2h0M152.8 269.1h0M210.5 286.3h0M180.2 285.7h0M217.3 285.9h0M189.3 286.9h0M157.7 285.3h0M152.5 289.0h0M167.2 271.3h0M188.9 283.6h0M153.5 273.8h0M156.8 284.0h0M147.3 278.3h0M157.7 275.1h0M168.6 287.9h0M145.9 283.8h0M181.3 281.0h0M176.0 281.0h0M157.5 288.8h0M143.3 240.2h0M174.3 287.9h0M150.8 278.0h0M205.8 284.7h0M198.0 287.9h0M176.2 285.3h0M152.8 285.1h0M134.7 285.1h0M193.4 288.5h0M137.2 247.1h0M143.3 223.2h0M136.6 276.5h0M145.6 286.6h0M180.4 283.7h0M140.6 277.1h0M137.3 274.4h0M143.3 284.8h0M212.1 274.0h0M143.1 282.0h0M151.7 268.5h0M203.1 287.8h0M136.6 262.5h0M176.2 283.2h0M148.8 287.2h0M147.3 279.6h0M192.6 281.5h0M152.4 283.0h0M150.9 265.7h0M161.4 278.9h0M157.9 278.9h0M139.8 275.5h0M149.7 285.6h0M151.8 276.7h0M138.2 269.7h0M179.9 282.6h0M148.2 288.3h0M156.0 287.5h0M136.9 223.3h0M143.5 239.6h0M216.3 286.5h0M135.2 269.9h0M170.5 286.1h0M154.7 283.4h0M141.6 267.6h0M215.1 280.8h0M151.9 286.5h0M139.1 285.2h0M169.7 284.0h0M138.3 266.7h0M194.6 283.6h0M159.8 284.2h0M144.4 272.0h0M145.1 284.1h0M150.8 259.0h0M137.3 285.8h0M144.9 283.1h0M159.7 278.7h0M159.1 287.4h0M143.5 264.2h0M206.3 282.9h0M142.6 286.7h0M136.6 288.9h0M177.2 282.8h0M164.5 272.5h0M199.2 257.6h0M166.4 272.3h0M147.7 269.9h0M137.9 284.8h0M148.5 280.5h0M136.4 273.2h0M144.1 260.0h0M159.4 285.5h0M155.9 287.9h0M135.2 276.0h0M140.1 264.3h0M147.0 265.9h0M198.1 281.9h0M214.8 284.2h0M143.5 245.8h0M210.6 286.3h0M184.1 287.6h0M166.3 284.1h0M158.3 287.8h0M152.0 274.5h0M163.9 285.5h0M176.8 281.0h0M145.9 275.4h0M136.4 251.2h0M171.7 288.5h0M162.5 287.8h0M165.1 276.6h0M134.3 265.2h0M160.6 267.7h0M153.5 288.1h0M184.7 286.6h0M162.7 241.8h0M171.5 279.3h0M186.1 282.8h0M135.1 275.0h0M140.2 283.9h0M167.8 288.3h0M151.1 258.4h0M147.0 257.1h0M180.9 288.5h0M183.3 287.5h0M164.7 285.9h0M145.8 257.3h0M146.2 278.5h0M206.2 281.4h0M136.5 262.4h0M195.4 288.5h0M140.3 260.2h0M150.3 245.4h0M155.9 282.9h0M174.4 282.5h0M145.8 272.2h0M134.6 288.3h0M146.1 268.2h0M168.2 283.5h0M162.5 287.8h0M155.2 246.5h0M153.1 249.9h0M158.8 284.8h0M136.4 280.2h0M143.3 276.1h0M155.5 274.4h0M189.7 285.8h0M144.8 275.8h0M140.5 288.9h0M136.9 267.5h0M161.4 288.4h0M135.7 208.1h0M181.2 287.7h0M144.9 286.2h0M140.3 255.6h0M148.6 278.7h0M136.8 287.1h0M163.7 282.3h0M178.5 285.9h0M149.7 281.6h0M159.9 255.5h0M223.2 276.4h0M136.7 279.2h0M161.8 286.7h0M195.3 273.4h0M147.0 285.9h0M137.0 237.0h0M150.6 288.3h0M154.3 252.4h0M142.5 246.2h0M139.5 283.5h0M166.1 279.1h0M220.9 287.9h0M186.0 287.2h0M145.9 288.2h0M172.3 286.7h0M136.8 274.5h0M140.2 287.3h0M168.8 282.5h0M177.0 287.8h0M174.7 257.1h0M143.5 269.8h0M149.1 287.1h0M173.5 271.3h0M211.3 245.0h0M142.7 257.1h0M145.8 282.3h0M206.8 287.4h0M172.6 279.9h0M197.5 288.8h0M170.8 281.2h0M189.6 279.1h0M135.2 251.0h0M166.6 280.1h0M154.1 287.8h0M158.5 265.3h0M171.0 273.4h0M168.4 266.3h0M188.8 287.7h0M205.8 254.7h0M205.5 285.8h0M137.4 284.0h0M217.4 286.8h0M160.6 288.2h0M136.1 221.4h0M177.6 276.8h0M158.1 286.4h0M141.7 281.9h0M134.1 288.1h0M197.4 287.6h0M163.5 265.5h0M154.4 284.0h0M144.3 284.1h0M141.6 279.8h0M154.4 245.8h0M161.2 283.9h0M139.7 237.7h0M177.7 288.3h0M155.7 279.5h0M142.4 225.8h0M215.8 287.1h0M174.0 285.3h0M217.2 282.0h0M174.0 286.8h0M150.0 279.1h0M139.6 273.9h0M135.6 288.6h0M138.4 231.9h0M178.2 286.5h0M154.5 270.7h0M152.3 280.6h0M175.9 288.5h0M156.2 276.7h0M140.0 268.8h0M142.7 236.6h0M164.7 288.8h0M173.6 285.6h0M136.6 223.2h0M154.4 232.5h0M137.4 283.7h0M138.9 270.3h0M147.7 262.8h0M160.0 285.0h0M198.4 283.6h0M151.3 286.3h0M141.4 287.8h0M160.2 266.1h0M164.5 271.1h0M192.5 288.6h0M139.9 278.1h0M141.8 288.8h0M217.7 286.9h0M196.2 287.8h0M134.4 282.1h0M202.3 282.9h0M145.2 276.9h0M136.9 263.4h0M143.6 275.0h0M175.1 281.5h0M182.7 286.3h0M134.9 242.7h0M209.2 289.0h0M184.6 287.1h0M134.2 278.9h0M163.1 284.6h0M142.4 288.5h0M154.8 287.4h0M153.7 288.2h0M151.4 288.6h0M181.3 284.7h0M136.8 270.7h0M134.3 271.5h0M141.3 271.0h0M218.2 267.0h0M173.2 278.9h0M182.0 287.2h0M154.9 275.9h0M134.9 277.9h0M135.0 250.0h0M138.3 279.0h0M159.8 288.9h0M138.5 248.1h0M158.4 275.8h0M137.1 251.8h0M190.9 284.6h0M145.7 284.1h0M175.9 280.7h0M137.9 289.0h0M140.4 288.3h0M144.4 277.7h0M218.1 282.7h0M160.4 287.8h0M219.2 284.0h0M139.6 213.7h0M153.3 280.3h0M168.7 272.0h0M159.3 285.9h0M139.2 288.3h0M134.1 263.0h0M147.7 284.6h0M177.8 284.4h0M179.7 285.7h0M170.4 278.7h0M135.5 254.8h0M164.6 285.9h0M145.5 262.5h0M151.3 287.8h0M149.3 286.4h0M134.1 261.8h0M177.6 288.0h0M144.2 285.6h0M148.2 267.8h0M173.0 282.3h0M146.9 279.5h0M135.4 254.1h0M144.4 271.7h0M203.7 282.9h0M160.1 274.9h0M161.9 284.3h0M164.8 285.8h0M138.6 286.6h0M178.6 288.8h0M136.5 204.4h0M210.7 285.5h0M139.3 228.7h0M191.0 289.0h0M217.7 284.6h0M159.2 288.4h0M137.0 255.2h0M145.5 244.3h0M171.0 260.6h0M140.5 282.9h0M139.1 258.7h0M157.7 288.4h0M178.2 277.4h0M169.2 287.3h0M178.0 288.5h0M140.3 268.7h0M134.1 271.4h0M219.0 279.6h0M137.8 246.4h0M149.5 261.9h0M139.7 274.2h0M134.1 242.4h0M136.7 270.8h0M142.6 287.8h0M152.5 288.3h0M180.2 278.7h0M193.8 284.8h0M150.4 241.4h0M179.2 282.7h0M162.7 266.5h0M165.8 285.2h0M134.3 255.6h0M135.4 284.1h0M175.1 287.9h0M173.1 288.3h0M152.0 276.9h0M145.8 263.1h0M162.0 287.3h0M141.6 277.1h0M143.5 288.4h0M175.7 288.4h0M175.5 288.0h0M142.4 288.7h0M155.4 285.3h0M193.2 284.6h0M139.8 288.7h0M168.6 287.7h0M180.6 286.0h0M137.1 284.0h0M218.7 283.9h0M140.6 278.9h0M141.7 236.5h0M171.6 287.2h0M146.0 283.4h0M135.7 280.8h0M177.5 281.1h0M155.1 288.2h0M151.0 287.8h0M179.2 278.3h0M144.5 254.3h0M154.8 283.5h0M135.6 282.6h0M142.8 282.9h0M139.9 279.4h0M138.6 265.5h0M153.1 274.8h0M222.4 259.3h0M193.6 285.1h0M139.5 277.6h0M145.9 253.9h0M161.5 271.7h0M188.6 288.1h0M144.9 281.9h0M134.1 288.8h0M151.8 246.6h0M176.7 266.6h0M138.4 273.4h0M147.8 269.2h0M141.6 288.9h0M175.6 284.5h0M137.8 257.2h0M207.0 282.5h0M212.2 284.9h0M137.3 288.7h0M221.7 286.4h0M147.2 282.2h0M134.7 231.1h0M175.0 283.0h0M181.0 285.0h0M144.7 276.8h0M173.2 288.6h0M136.4 241.7h0M170.6 272.7h0M137.2 214.2h0M174.2 264.0h0M160.1 274.7h0M146.1 267.3h0M215.5 281.4h0M139.4 280.2h0M170.7 288.9h0M164.6 287.7h0M138.5 280.2h0M142.4 286.9h0M173.2 280.9h0M140.6 215.5h0M136.0 276.6h0M138.4 235.5h0M138.4 242.2h0M134.3 265.3h0M173.3 281.6h0M137.1 287.9h0M139.9 214.8h0M175.7 284.6h0M180.8 285.8h0M134.4 267.6h0M174.3 279.8h0M213.2 289.0h0M135.0 287.8h0M209.2 269.1h0M144.7 272.0h0M141.6 256.4h0M143.3 270.2h0M160.1 279.2h0M136.4 264.7h0M140.6 245.3h0M192.9 286.8h0M141.5 258.2h0M207.9 287.0h0M140.1 253.8h0M143.4 278.4h0M141.5 275.9h0M208.0 285.8h0M144.6 288.4h0M184.8 285.6h0M181.4 288.2h0M162.5 247.3h0M139.9 279.3h0M164.4 277.7h0M144.2 263.3h0M174.8 287.8h0M223.5 280.7h0M144.2 248.8h0M150.7 267.5h0M158.7 265.8h0M137.7 275.3h0M145.1 287.0h0M145.5 260.7h0M137.5 257.0h0M138.2 282.9h0M182.4 283.8h0M188.6 288.5h0M154.9 277.1h0M177.8 283.1h0M159.7 287.2h0M136.3 279.0h0M175.0 287.4h0M180.6 288.3h0M140.1 273.6h0M177.2 286.9h0M138.1 273.9h0M201.9 276.9h0M158.8 284.0h0M140.7 216.3h0M206.0 278.8h0M173.0 261.2h0M172.1 287.4h0M135.1 260.4h0M164.0 268.4h0M143.3 219.7h0M144.4 287.0h0M137.0 275.9h0M135.0 284.7h0M134.6 240.8h0M174.1 269.5h0M143.8 275.4h0M136.3 272.5h0M192.3 279.8h0M144.7 260.6h0M180.0 285.7h0M138.7 260.1h0M149.9 283.3h0M140.4 271.8h0M195.1 286.2h0M170.5 285.1h0M141.4 274.9h0M150.3 281.3h0M136.1 288.8h0M177.5 282.0h0M144.0 265.4h0M154.1 249.0h0M158.1 283.6h0M152.4 258.1h0M135.3 280.2h0M138.9 253.8h0M169.4 271.9h0M203.7 288.6h0M149.9 285.8h0M162.5 287.4h0M159.3 269.3h0M166.3 280.6h0M145.3 278.6h0M154.0 286.3h0M134.4 288.4h0M137.0 240.2h0M155.3 261.5h0M175.4 286.9h0M170.2 272.6h0M142.5 268.7h0M177.3 288.0h0M138.6 287.3h0M135.3 287.9h0M145.3 264.0h0M145.1 280.2h0M144.3 247.2h0M187.3 287.8h0M141.2 235.6h0M166.3 288.1h0M155.8 282.2h0M159.4 287.2h0M170.7 285.2h0M154.6 286.6h0M136.8 288.1h0M173.6 285.9h0M224.2 284.1h0M144.1 287.1h0M172.7 278.7h0M187.3 281.0h0M135.6 277.2h0M140.5 262.6h0M167.1 267.0h0M169.1 287.9h0M139.2 271.1h0M139.1 233.1h0M171.5 286.5h0M180.2 286.4h0M146.2 288.8h0M172.9 283.9h0M190.3 262.3h0M198.1 286.9h0M141.1 249.8h0M137.4 289.0h0M198.9 276.1h0M139.9 210.7h0M185.5 281.3h0M141.4 286.8h0M146.0 281.5h0M173.7 286.1h0M134.9 283.3h0M179.7 283.1h0M134.6 277.5h0M137.8 268.4h0M137.6 274.9h0M149.4 285.5h0M147.1 287.2h0M161.5 276.0h0M189.4 275.6h0M155.9 288.5h0M139.1 262.0h0M190.2 284.4h0M148.9 255.1h0M163.4 285.7h0M138.1 241.0h0M135.1 213.9h0M162.4 275.4h0M184.5 288.1h0M147.8 283.2h0M138.4 280.2h0M223.2 288.4h0M159.4 283.5h0M145.8 262.6h0M166.7 288.1h0M149.8 264.3h0M154.3 280.0h0M137.3 257.9h0M136.8 264.2h0M157.2 277.8h0M170.5 275.6h0M212.5 281.9h0M198.8 286.9h0M138.7 280.3h0M141.5 264.2h0M162.9 275.1h0M147.8 264.3h0M150.3 286.5h0M188.4 282.7h0M138.6 270.1h0M155.8 281.4h0M134.1 267.2h0M205.4 287.9h0M149.3 254.8h0M138.9 287.0h0M188.4 278.1h0M167.5 286.4h0M180.7 275.7h0M174.9 277.0h0M139.0 262.5h0M168.9 280.9h0M169.0 282.5h0M144.8 262.9h0M178.4 288.6h0M150.0 287.8h0M135.1 249.3h0M169.1 276.0h0M138.4 288.4h0M178.8 279.0h0M135.5 284.3h0M144.5 245.2h0M182.7 288.8h0M184.3 287.0h0M138.6 278.7h0M207.0 287.6h0M135.2 288.8h0M150.1 271.8h0M176.7 282.2h0M219.4 280.0h0M164.5 288.3h0M139.7 257.4h0M145.0 216.6h0M169.1 279.8h0M139.9 243.6h0M148.4 240.2h0M184.5 288.8h0M157.7 283.3h0M199.7 288.5h0M140.2 284.4h0M178.0 287.5h0M138.2 281.8h0M149.2 285.2h0M141.0 207.6h0M145.3 266.5h0M136.7 260.6h0M146.3 274.1h0M196.0 286.8h0M134.2 272.3h0M154.1 282.6h0M144.9 286.1h0M172.8 278.7h0M142.8 279.3h0M174.8 287.2h0M187.7 288.3h0M142.8 234.6h0M143.9 271.4h0M175.4 288.7h0M161.4 287.2h0M168.4 279.0h0M165.5 287.5h0M134.1 284.3h0M158.6 288.2h0M169.3 288.2h0M143.3 263.5h0M182.5 265.5h0M134.6 218.7h0M188.5 286.1h0M159.4 269.0h0M179.8 284.7h0M168.2 287.3h0M152.1 285.8h0M134.1 237.4h0M169.5 283.9h0M135.2 267.2h0M150.1 286.4h0M148.8 287.0h0M169.0 211.3h0M167.8 287.9h0M158.1 256.3h0M153.7 283.0h0M195.4 277.6h0M143.4 249.1h0M134.6 273.1h0M172.2 274.2h0M148.1 288.1h0M170.7 288.8h0M190.9 284.9h0M139.0 288.7h0M150.4 281.8h0M136.3 261.5h0M166.9 252.6h0M144.3 276.3h0M138.8 268.8h0M184.2 285.0h0M135.3 272.7h0M178.2 287.6h0M138.4 274.9h0M155.7 286.1h0M174.3 287.2h0M152.8 266.0h0M140.7 281.4h0M178.1 282.8h0M155.6 250.7h0M178.9 280.6h0M143.7 275.7h0M206.5 288.2h0M153.1 273.1h0M194.9 284.3h0M211.6 286.9h0M173.2 287.9h0M146.3 287.3h0M169.6 266.0h0M173.4 284.9h0M144.0 273.1h0M181.1 288.3h0M153.9 278.0h0M222.9 280.9h0M135.8 268.0h0M159.0 280.7h0M164.3 284.8h0M189.2 277.3h0M138.9 279.7h0M190.2 287.9h0M151.8 288.0h0M136.8 233.5h0M139.2 256.6h0M148.8 284.3h0M174.1 285.1h0M161.4 242.6h0M152.1 240.7h0M147.6 223.7h0M212.8 279.8h0M167.4 270.0h0M138.5 284.8h0M168.5 282.7h0M137.2 286.8h0M143.2 257.6h0M150.8 282.8h0M177.5 281.2h0M223.0 218.8h0" stroke="#3A4590" stroke-width="1.0" stroke-linecap="round" fill="none" stroke-opacity="0.9"/>
<path d="M326.7 252.6h0M323.3 272.5h0M286.4 271.5h0M324.5 266.6h0M312.9 268.4h0M339.9 264.9h0M325.5 278.0h0M310.4 270.3h0M333.5 263.7h0M281.4 260.0h0M314.6 265.2h0M323.4 254.7h0M307.1 244.7h0M271.5 262.1h0M328.5 267.1h0M342.5 251.1h0M326.9 255.9h0M335.3 273.5h0M315.4 260.8h0M272.4 271.3h0M325.9 274.4h0M304.1 264.6h0M261.1 281.7h0M327.3 262.0h0M334.2 268.8h0M335.7 275.3h0M342.2 237.5h0M305.9 284.7h0M342.1 285.1h0M333.1 245.0h0M309.0 279.0h0M318.0 279.0h0M296.8 278.8h0M318.0 227.5h0M332.5 254.0h0M317.2 243.3h0M264.0 266.9h0M292.2 253.4h0M325.3 276.0h0M303.7 256.2h0M325.9 256.8h0M343.2 277.0h0M340.6 268.0h0M323.7 248.3h0M310.4 277.5h0M261.0 263.0h0M281.8 264.6h0M288.7 266.4h0M338.0 259.8h0M339.1 276.7h0M256.9 283.9h0M328.1 280.3h0M294.9 273.4h0M325.3 269.3h0M256.6 277.9h0M271.8 261.6h0M342.2 262.7h0M327.9 278.8h0M337.6 275.3h0M337.5 261.4h0M325.8 270.3h0M262.3 272.2h0M334.1 272.5h0M311.5 267.5h0M341.6 264.2h0M337.1 273.2h0M289.2 271.8h0M279.0 264.9h0M315.4 280.8h0M340.3 273.2h0M318.1 274.8h0M332.6 280.1h0M332.8 268.6h0M301.0 269.8h0M284.1 285.8h0M336.4 275.2h0M335.6 263.5h0M306.8 267.8h0M323.8 281.8h0M341.0 279.2h0M307.2 280.2h0M311.1 258.6h0M318.7 282.0h0M334.1 244.8h0M327.8 286.6h0M280.0 281.9h0M311.1 261.6h0M317.2 276.8h0M330.5 260.1h0M317.0 250.2h0M311.5 273.9h0M339.8 252.7h0M296.4 280.6h0M269.5 274.5h0M322.1 267.5h0M336.6 280.0h0M322.5 273.4h0M315.7 268.7h0M300.5 277.9h0M314.6 269.9h0M307.9 273.4h0M327.0 258.4h0M340.3 252.8h0M317.5 260.1h0M321.3 249.4h0M300.6 272.4h0M315.7 274.6h0M316.8 255.7h0M310.3 270.6h0M300.9 264.3h0M316.1 264.9h0M332.1 246.3h0M280.3 257.3h0M304.5 270.0h0M326.2 270.6h0M327.9 252.0h0M309.1 263.0h0M301.7 246.9h0M303.0 284.3h0M287.6 282.2h0M332.0 279.5h0M261.4 265.4h0M329.4 279.8h0M341.2 256.8h0M310.9 280.9h0M326.1 267.3h0M331.5 271.5h0M309.4 264.6h0M319.5 283.5h0M293.2 252.3h0M303.3 275.9h0M331.3 271.5h0M316.7 246.7h0M304.6 275.1h0M340.1 270.7h0M314.7 264.5h0M318.5 273.2h0M315.3 282.3h0M288.9 274.4h0M322.3 267.6h0M295.7 258.0h0M284.4 280.8h0M327.2 257.9h0M317.4 280.9h0M321.1 254.6h0M324.6 263.6h0M289.2 262.5h0M322.9 257.9h0M333.9 270.5h0M311.9 262.9h0M332.8 287.5h0M341.8 277.2h0M308.4 285.5h0M319.4 280.1h0M339.1 263.8h0M301.4 276.1h0M328.4 280.8h0M338.7 275.0h0M310.2 258.0h0M290.9 271.4h0M302.9 281.2h0M335.7 259.2h0M322.4 253.9h0M302.8 275.9h0M252.9 267.0h0M293.3 258.7h0M298.6 271.7h0M324.1 283.2h0M321.7 265.6h0M342.4 233.9h0M273.2 258.2h0M284.6 276.0h0M295.2 257.0h0M328.0 285.2h0M325.3 272.3h0M296.8 272.5h0M261.6 287.8h0M325.4 275.9h0M332.3 265.3h0M308.0 278.0h0M341.6 259.7h0M320.9 282.4h0M332.5 267.3h0M276.4 279.5h0M275.8 274.9h0M336.6 269.9h0M295.6 265.9h0M283.3 275.0h0M338.9 286.4h0M304.1 249.8h0M337.6 265.6h0M263.8 265.4h0M337.8 264.8h0M324.6 260.9h0M328.9 283.6h0M336.1 250.2h0M307.3 235.0h0M264.9 274.2h0M295.0 260.3h0M339.0 275.4h0M303.6 265.9h0M306.2 263.3h0M307.7 250.6h0M320.3 271.7h0M324.5 267.7h0M335.4 282.4h0M332.3 247.9h0M312.3 258.7h0M284.2 257.5h0M334.2 275.4h0M270.6 282.0h0M335.7 270.7h0M261.7 245.9h0M316.9 264.1h0M300.5 256.8h0M273.4 280.3h0M328.6 273.1h0M339.1 267.1h0M327.8 252.6h0M335.7 268.3h0M297.6 274.9h0M343.1 270.1h0M336.2 264.5h0M320.6 244.9h0M286.8 280.2h0M285.1 254.2h0M315.5 274.7h0M282.2 234.6h0M260.8 281.6h0M339.7 256.9h0M288.4 280.6h0M301.6 257.1h0M304.4 241.1h0M284.9 265.1h0M324.4 272.2h0M334.0 281.9h0M315.3 281.0h0M319.8 284.6h0M296.5 277.1h0M339.9 272.1h0M333.2 270.4h0M274.7 277.9h0M325.7 282.5h0M335.3 284.0h0M315.3 275.2h0M326.3 277.9h0M310.8 271.2h0M272.2 251.1h0M336.5 255.1h0M316.1 256.3h0M311.0 230.0h0M320.5 275.6h0M335.0 275.9h0M334.4 275.7h0M296.0 261.6h0M315.8 272.9h0M312.0 273.7h0M331.5 284.1h0M307.3 238.9h0M319.7 276.1h0M335.1 280.9h0M316.0 261.9h0M332.4 257.5h0M259.2 264.5h0M295.9 253.1h0M337.1 274.2h0M310.0 272.2h0M327.7 273.5h0M337.4 270.6h0M343.1 245.1h0M329.8 245.4h0M327.3 283.6h0M340.3 270.8h0M310.4 271.9h0M295.2 272.6h0M342.0 277.8h0M328.4 283.3h0M318.4 242.8h0M308.6 275.2h0M279.0 276.6h0M280.8 266.8h0M252.6 283.9h0M338.4 268.0h0M322.0 278.7h0M308.0 265.5h0M259.0 263.8h0M334.8 276.3h0M292.0 267.5h0M343.0 270.3h0M323.7 261.6h0M298.3 283.7h0M304.6 285.9h0M341.0 282.2h0M328.7 250.1h0M301.1 261.8h0M327.1 279.9h0M319.6 276.1h0M341.7 279.0h0M338.5 264.0h0M323.1 248.2h0M335.9 277.4h0M327.4 283.5h0M319.7 226.3h0M330.9 268.8h0M342.1 258.4h0M332.8 283.5h0M333.4 272.6h0M338.1 253.8h0M268.4 270.9h0M310.5 238.3h0M316.5 261.6h0M304.1 253.6h0M317.2 269.0h0M330.7 259.2h0M334.8 250.0h0M303.0 274.8h0M340.1 270.7h0M254.3 254.2h0M311.6 276.9h0M338.1 252.9h0M292.1 255.6h0M332.7 257.6h0M285.1 274.4h0M339.4 233.1h0M341.0 262.1h0M337.5 257.8h0M329.8 263.6h0M303.6 266.9h0M317.4 264.5h0M334.5 266.2h0M335.4 263.4h0M339.5 279.3h0M302.3 277.6h0M325.7 261.4h0M307.4 255.6h0M337.8 259.2h0M336.4 257.3h0M322.1 252.3h0M328.0 285.2h0M330.0 282.5h0M260.6 282.9h0M336.6 283.3h0M296.0 246.4h0M326.1 246.3h0M320.3 280.2h0M331.0 277.0h0M326.0 259.3h0M316.3 277.6h0M282.1 277.4h0M315.3 272.9h0M330.3 256.8h0M280.0 275.0h0M327.2 273.2h0M263.4 272.7h0M342.9 273.6h0M259.2 259.0h0M341.5 260.5h0M327.9 269.9h0M266.7 275.3h0M325.6 269.5h0M304.0 280.5h0M274.1 266.3h0M333.6 277.3h0M315.0 237.8h0M336.7 278.5h0M306.0 279.8h0M307.6 232.0h0M270.0 281.1h0M313.6 245.4h0M322.9 264.2h0M336.0 279.8h0M306.6 269.8h0M338.6 277.3h0M274.5 258.0h0M316.6 259.2h0M273.4 248.3h0M317.4 229.7h0M301.0 284.1h0M322.3 256.2h0M335.3 244.1h0M318.2 254.2h0M325.9 267.5h0M284.7 280.9h0M321.7 273.8h0M335.1 276.9h0M253.2 279.7h0M289.3 273.6h0M257.8 278.1h0M307.8 243.8h0M330.8 227.3h0M294.6 246.1h0M284.0 282.3h0M323.7 258.4h0M319.1 278.0h0M285.4 263.5h0M324.9 288.5h0M305.5 287.6h0M307.3 277.3h0M313.4 258.9h0M337.7 280.9h0M327.8 270.8h0M307.8 278.0h0M305.9 254.0h0M322.2 273.3h0M289.0 250.2h0M286.6 256.4h0M336.9 271.4h0M293.7 255.1h0M283.2 284.7h0M304.5 251.8h0M334.9 283.5h0M303.1 248.4h0M320.4 274.3h0M332.2 247.2h0M336.9 284.3h0M309.3 266.8h0M342.4 242.8h0M280.3 264.6h0M340.3 277.5h0M307.4 282.9h0M283.9 283.2h0M339.9 265.7h0M299.9 243.3h0M301.0 274.0h0M330.8 267.9h0M301.2 276.4h0M322.0 270.2h0M261.8 273.3h0M340.5 271.7h0M325.2 273.5h0M272.9 280.0h0M276.5 282.0h0M312.2 264.1h0M326.2 283.4h0M328.5 272.4h0M295.1 252.0h0M330.4 255.9h0M313.2 235.1h0M338.5 256.5h0M321.2 267.0h0M325.3 283.9h0M324.9 270.0h0M265.9 286.9h0M331.2 280.1h0M281.5 281.8h0M333.3 283.9h0M339.5 276.3h0M330.4 283.1h0M260.2 250.5h0M337.7 278.0h0M317.0 277.0h0M340.1 276.6h0M320.8 279.7h0M324.3 278.9h0M333.8 265.9h0M336.0 274.3h0M284.4 271.4h0M334.0 261.2h0M308.9 263.2h0M330.5 259.0h0M340.6 284.8h0M340.8 275.6h0M285.2 281.9h0M285.4 262.3h0M304.1 262.7h0M298.5 262.2h0M318.4 268.2h0M316.4 280.9h0M327.3 270.2h0M335.9 258.8h0M292.1 264.7h0M337.6 245.5h0M310.1 270.7h0M274.1 281.8h0M341.6 270.0h0M315.3 250.2h0M312.6 270.2h0M328.4 270.0h0M302.8 267.0h0M339.1 265.6h0M326.9 279.2h0M265.1 275.9h0M295.9 254.0h0M316.3 228.5h0M338.6 272.3h0M303.1 258.2h0M281.6 270.7h0M330.4 261.2h0M335.2 252.4h0M320.3 286.7h0M335.5 278.1h0M317.0 278.8h0M300.9 268.7h0M322.4 246.0h0M337.8 257.7h0M318.4 269.0h0M264.6 280.7h0M312.7 246.8h0M294.4 257.2h0M322.8 279.3h0M335.0 252.1h0M257.6 278.9h0M327.9 279.3h0M257.7 262.0h0M300.7 236.8h0M292.4 283.0h0M340.2 276.1h0M334.1 268.3h0M343.2 265.8h0M327.1 279.1h0M333.1 229.8h0M323.3 245.5h0M340.0 245.2h0M276.3 269.4h0M335.1 280.6h0M324.7 279.0h0M285.6 267.2h0M320.3 276.6h0M312.9 277.8h0M337.2 276.8h0M342.5 277.1h0M266.6 281.5h0M305.4 264.9h0M303.5 272.3h0M308.1 284.0h0M300.5 275.5h0M337.8 269.0h0M276.7 280.0h0M336.3 279.4h0M332.1 270.7h0M286.0 286.6h0M332.8 256.4h0M328.0 284.7h0M294.1 273.9h0M328.2 266.6h0M296.0 278.9h0M337.1 272.4h0M288.7 266.4h0M337.6 238.7h0M317.9 269.8h0M323.7 269.7h0M333.0 286.1h0M320.4 258.6h0M338.6 277.1h0M257.3 282.3h0M317.9 274.6h0M312.8 270.3h0M331.9 272.6h0M300.0 280.8h0M300.8 273.4h0M264.9 267.5h0M292.1 279.4h0M333.8 270.2h0M281.4 277.7h0M324.4 252.1h0M327.8 247.0h0M329.6 269.1h0M287.8 274.0h0M286.3 282.6h0M319.8 269.3h0M342.9 266.8h0M299.7 234.3h0M313.6 270.0h0M316.9 267.6h0M330.7 262.6h0M327.4 239.1h0M306.9 278.7h0M335.4 257.2h0M325.2 262.3h0M252.8 273.4h0M337.6 284.8h0M256.3 248.3h0M340.5 277.5h0M327.5 254.5h0M333.0 263.5h0M293.5 261.3h0M340.4 252.2h0M318.3 256.7h0M319.3 278.4h0M320.6 259.5h0M333.5 228.1h0M320.9 279.2h0M306.0 266.5h0M316.0 282.4h0M282.0 267.9h0M278.1 263.8h0M304.7 258.5h0M275.2 273.5h0M338.9 259.1h0M303.3 262.0h0M323.5 248.8h0M317.6 276.3h0M318.0 275.1h0M321.7 245.7h0M324.4 263.9h0M314.0 269.9h0M342.2 275.8h0M297.7 257.9h0M283.4 282.0h0M331.1 242.2h0M339.7 276.3h0M291.9 276.1h0M310.5 277.7h0M333.1 265.3h0M315.9 268.8h0M318.2 256.8h0M319.7 279.9h0M313.3 260.7h0M321.2 253.6h0M319.1 247.2h0M331.8 271.4h0M324.4 250.7h0M314.6 253.9h0M287.0 286.7h0M330.5 266.8h0M314.2 264.1h0M290.0 273.6h0M306.8 255.2h0M326.5 227.8h0M333.6 256.1h0M312.5 274.9h0M337.8 275.7h0M317.8 275.9h0M319.2 276.6h0M299.4 273.6h0M307.7 279.4h0M317.2 273.0h0M325.3 237.6h0M324.6 279.9h0M302.0 232.4h0M324.6 276.0h0M324.4 283.5h0M303.5 274.1h0M329.6 259.2h0M343.0 270.9h0M293.2 273.7h0M305.0 268.4h0M309.5 236.2h0M312.1 278.3h0M281.3 277.8h0M306.3 263.7h0M340.8 277.7h0M316.5 277.7h0M325.1 268.9h0M322.9 267.9h0M319.4 232.3h0M324.6 243.8h0M317.8 259.7h0M334.4 273.4h0M331.8 280.1h0M334.8 251.4h0M296.5 278.5h0M333.3 270.6h0M303.8 273.9h0M315.6 256.9h0M270.9 277.2h0M322.8 272.4h0M329.7 266.9h0M311.6 269.8h0M305.3 270.4h0M333.5 281.0h0M334.6 280.7h0M285.7 281.4h0M315.1 280.4h0M302.0 253.0h0M303.6 279.8h0M295.8 257.5h0M314.0 271.9h0M290.9 271.7h0M328.4 264.3h0M339.8 245.4h0M332.8 274.4h0M319.7 253.8h0M321.7 275.2h0M290.2 281.3h0M301.0 238.1h0M335.7 231.0h0M276.4 277.0h0M343.3 230.4h0M306.8 284.0h0M285.8 279.3h0M314.5 250.9h0M323.9 257.5h0M332.8 283.8h0M320.6 279.8h0M320.0 262.6h0M338.2 238.4h0M311.1 279.6h0M274.9 269.1h0M329.6 284.7h0M290.3 279.8h0M339.4 262.8h0M315.4 279.5h0M343.7 266.5h0M321.7 240.5h0M326.0 280.6h0M325.0 277.0h0M303.0 251.8h0M336.9 253.4h0M254.8 279.3h0M339.8 256.9h0M336.8 280.5h0M337.7 274.4h0M309.3 275.8h0M325.6 264.6h0M306.3 283.3h0M335.0 265.4h0M338.4 282.4h0M319.0 275.4h0M285.6 273.5h0M315.5 280.3h0M341.5 240.8h0M283.1 271.3h0M285.9 257.7h0M336.3 275.4h0M261.6 277.9h0M307.5 282.2h0M293.0 270.8h0M334.7 266.3h0M332.4 262.8h0M292.6 278.6h0M319.1 262.8h0M326.3 274.4h0M340.8 238.9h0M315.9 260.1h0M333.8 267.7h0M310.6 282.1h0M323.1 282.5h0M284.9 282.0h0M286.7 242.3h0M336.1 265.7h0M288.7 272.6h0M315.0 261.1h0M261.0 257.9h0M304.9 282.5h0M324.5 281.3h0M332.4 275.2h0M315.1 250.5h0M336.6 272.5h0M330.1 274.3h0M267.0 284.6h0M253.2 281.9h0M325.6 280.6h0M343.6 278.2h0M342.8 269.1h0M336.7 269.2h0M280.4 280.5h0M299.0 269.8h0M307.5 272.8h0M279.3 278.5h0M323.1 271.6h0M306.1 241.7h0M317.4 261.7h0M339.0 270.5h0M313.3 254.7h0M339.6 283.0h0M322.7 271.0h0M339.4 234.5h0M286.2 278.7h0M328.9 273.0h0M342.1 259.6h0M251.0 279.8h0M329.7 254.7h0M335.5 239.0h0M321.7 258.2h0M285.3 271.2h0M290.1 262.3h0M323.3 243.3h0M289.3 232.1h0M306.5 238.3h0M340.9 267.3h0M313.4 274.9h0M316.1 278.6h0M334.6 269.0h0M298.0 285.5h0M327.4 280.5h0M341.4 271.7h0M278.9 275.3h0M331.6 281.2h0M337.2 266.2h0M343.3 263.9h0M311.7 268.2h0M309.8 274.5h0M334.9 281.7h0M293.4 268.3h0M324.1 228.3h0M342.7 265.8h0M283.9 268.9h0M341.1 265.6h0M278.6 272.9h0M253.8 252.3h0M321.3 245.9h0M342.1 285.6h0M320.7 283.0h0M330.6 265.5h0M292.5 241.4h0M298.1 282.6h0M324.4 257.0h0M317.7 277.8h0M333.1 285.9h0M311.8 273.6h0M336.7 268.5h0M324.7 271.5h0M281.8 265.4h0M317.0 268.4h0M292.5 274.6h0M338.1 276.5h0M288.5 281.9h0M317.4 247.5h0M289.6 285.3h0M302.1 267.2h0M314.6 280.9h0M340.9 254.8h0M337.5 262.6h0M270.5 270.3h0M327.1 226.5h0M335.7 260.1h0M290.3 272.9h0M328.5 265.1h0M330.6 284.1h0M320.6 260.8h0M259.5 278.7h0M339.0 261.8h0M282.3 262.9h0M293.3 247.7h0M337.8 254.9h0M326.8 247.2h0M342.4 270.1h0M333.9 274.7h0M326.2 277.6h0M335.3 276.7h0M327.4 269.2h0M253.8 258.8h0M327.3 284.2h0M306.1 268.0h0M339.0 268.3h0M332.1 281.9h0M315.0 256.4h0M340.9 274.3h0M310.8 284.4h0M288.8 273.0h0M316.2 283.4h0M304.4 254.6h0M310.1 231.3h0M308.5 263.1h0M285.7 261.6h0M277.3 272.1h0M288.5 261.6h0M328.6 277.8h0M298.8 273.4h0M326.5 263.3h0M261.7 281.1h0M328.3 246.9h0M317.4 271.4h0M325.0 245.9h0M273.8 262.1h0M321.3 265.1h0M308.2 280.6h0M316.1 265.3h0M302.7 260.8h0M287.5 277.2h0M306.6 278.1h0M327.2 279.8h0M292.7 258.3h0M269.0 283.5h0M268.7 276.9h0M274.2 261.5h0M308.9 248.1h0M328.7 242.6h0M307.0 270.0h0M302.6 276.5h0M257.9 276.3h0M337.1 267.7h0M330.9 269.8h0M298.9 256.8h0M332.2 253.3h0M342.5 273.5h0M326.1 261.1h0M279.1 248.4h0M321.1 264.6h0M320.9 251.9h0M309.5 265.6h0M316.0 282.9h0M341.6 240.7h0M325.0 262.4h0M332.4 255.1h0M336.9 265.5h0M326.4 268.2h0M282.3 275.4h0M322.8 257.3h0M319.3 270.5h0M318.4 273.7h0M320.2 265.1h0M287.1 264.5h0M306.1 267.0h0M261.9 266.6h0M314.5 262.0h0M300.8 252.1h0M328.3 273.5h0M330.8 266.3h0M295.5 278.6h0M337.4 259.1h0M320.5 266.5h0M307.3 284.2h0M343.0 248.0h0M261.4 267.2h0M329.6 282.4h0M312.7 261.4h0M326.0 244.4h0M320.1 273.2h0M309.4 245.8h0M327.3 280.8h0M335.3 258.3h0M340.2 232.6h0M312.4 256.1h0M329.7 264.7h0M337.4 275.2h0M332.1 265.5h0M336.8 266.3h0M317.0 270.6h0M259.7 281.4h0M319.4 269.9h0M314.0 265.3h0M321.8 259.3h0M320.0 266.6h0M341.4 264.6h0M257.1 272.9h0M272.3 283.1h0M334.4 244.5h0M311.2 275.6h0M335.2 260.6h0M265.1 272.5h0M293.5 279.0h0M307.4 251.1h0M313.3 282.3h0M310.1 265.6h0M317.7 252.0h0M334.5 274.6h0M336.1 277.2h0M329.6 270.4h0M331.9 235.5h0M296.0 268.5h0M310.4 258.1h0M266.4 266.9h0M336.4 274.1h0M318.4 267.9h0M332.8 265.3h0M342.8 263.1h0M334.1 254.4h0M291.0 276.3h0M265.2 277.9h0M323.6 266.7h0M310.8 238.3h0M311.4 276.8h0M282.3 275.6h0M342.4 251.2h0M308.9 260.4h0M315.8 254.9h0M320.7 284.4h0M283.3 272.1h0M320.1 264.7h0M326.4 244.3h0M317.6 284.8h0M334.3 277.5h0M331.8 264.4h0M275.3 279.5h0M279.7 264.2h0M334.0 263.5h0M271.2 282.7h0M311.0 259.0h0M326.3 253.0h0M337.9 268.2h0M331.2 265.9h0M338.1 274.5h0M342.3 230.2h0M309.7 278.0h0M332.3 253.1h0M333.0 272.3h0M307.2 272.8h0M284.6 287.1h0M331.6 271.6h0M301.9 278.0h0M300.5 267.9h0M328.4 268.2h0M328.3 250.9h0M283.3 266.6h0M323.2 258.3h0M253.1 266.8h0M326.3 268.4h0M329.4 243.1h0M317.0 262.3h0M307.5 279.7h0M341.5 281.4h0M326.0 286.1h0M315.5 282.2h0M335.8 272.4h0M302.5 267.1h0M325.2 257.1h0M267.3 265.6h0M333.3 285.5h0M317.0 273.4h0M318.9 266.7h0M312.2 274.8h0M313.2 271.4h0M331.5 270.9h0M334.1 274.5h0M339.0 282.4h0M341.8 264.4h0M294.9 248.0h0M288.8 267.4h0M299.5 269.8h0M320.5 270.9h0M333.1 266.4h0M303.1 273.5h0M339.7 268.4h0M343.6 261.7h0M299.8 253.5h0M274.5 255.0h0M312.9 277.8h0M343.4 266.2h0M329.1 276.6h0M304.3 285.2h0M268.8 265.5h0M325.0 272.5h0M319.7 276.9h0M284.7 285.0h0M343.8 229.6h0M341.0 263.7h0M263.4 278.9h0M333.8 280.3h0M284.7 258.5h0M336.8 267.1h0M312.1 281.8h0M335.2 263.4h0M297.6 254.9h0M343.0 276.7h0M300.5 260.1h0M308.0 283.3h0M332.4 252.8h0M321.1 276.6h0M316.0 253.3h0M334.1 261.8h0M311.2 280.3h0M269.2 285.2h0M339.5 260.3h0M335.5 270.6h0M343.3 255.3h0M284.2 273.3h0M290.7 259.6h0M311.7 267.7h0M293.7 274.9h0M333.9 263.9h0M325.0 251.6h0M303.3 269.1h0M312.5 281.5h0M331.0 280.8h0M335.8 264.1h0M335.1 279.6h0M324.6 263.3h0M336.9 278.8h0M299.6 276.2h0M332.4 268.8h0M331.2 272.2h0M312.5 282.9h0M265.0 267.8h0M333.2 232.0h0M281.9 270.4h0M299.5 278.5h0M318.7 275.8h0M307.4 255.3h0M331.8 277.8h0M324.5 266.3h0M300.6 278.5h0M333.5 281.1h0M336.9 265.1h0M339.1 270.3h0M301.9 251.4h0M316.5 262.1h0M341.7 267.7h0M286.0 278.9h0M333.3 279.9h0M336.1 278.7h0M287.8 264.0h0M334.6 254.3h0M336.4 275.7h0M313.8 268.0h0M341.9 257.6h0M319.8 257.7h0M294.6 268.0h0M338.9 262.6h0M311.7 243.2h0M308.9 276.0h0M332.0 255.3h0M316.8 244.1h0M324.9 277.5h0M328.9 268.0h0M333.8 232.8h0M266.3 272.0h0M308.6 272.5h0M312.3 231.6h0M284.2 282.3h0M329.3 254.9h0M284.5 264.4h0M320.7 268.5h0M336.2 241.5h0M323.9 259.0h0M313.3 276.6h0M324.5 242.7h0M299.5 273.2h0M315.1 271.1h0M258.1 273.2h0M319.2 275.5h0M309.3 282.4h0M342.5 274.3h0M328.5 268.3h0M301.6 273.5h0M293.5 283.2h0M315.8 263.0h0M342.4 272.6h0M286.2 283.5h0M282.2 260.6h0M314.5 226.7h0M325.2 265.9h0M336.1 279.8h0M337.8 271.5h0M338.7 278.5h0M322.7 276.7h0M333.9 280.2h0M316.8 285.0h0M311.0 257.6h0M296.3 273.9h0M337.3 273.0h0M341.3 255.7h0M306.3 263.4h0M310.2 266.3h0M315.1 258.4h0M324.1 267.5h0M313.5 261.1h0M330.0 275.9h0M324.1 283.4h0M341.7 242.4h0M336.4 265.8h0M317.2 258.6h0M339.3 270.4h0M308.2 266.1h0M310.2 257.3h0M308.9 255.9h0M290.2 282.9h0M337.8 251.9h0M289.8 268.6h0M258.6 210.5h0M265.2 213.0h0M268.0 213.7h0" stroke="#3EAC22" stroke-width="1.24" stroke-linecap="round" fill="none" stroke-opacity="0.9"/>
<path d="M81.3 374.1h0M76.7 383.5h0M60.6 372.8h0M62.0 378.4h0M82.6 336.5h0M83.0 375.8h0M74.8 381.3h0M81.3 372.7h0M52.9 381.2h0M98.2 381.1h0M83.5 376.8h0M56.2 375.4h0M70.0 373.9h0M64.6 378.8h0M39.6 378.8h0M56.9 367.2h0M48.8 384.6h0M78.2 379.6h0M83.7 360.0h0M84.9 367.7h0M74.2 375.1h0M68.0 381.6h0M32.0 383.9h0M80.9 367.4h0M90.8 358.3h0M64.6 387.6h0M86.9 380.5h0M70.1 379.0h0M79.9 369.9h0M80.0 370.7h0M90.7 382.1h0M56.2 374.9h0M87.0 370.4h0M97.2 375.4h0M72.4 383.5h0M24.6 388.3h0M75.4 378.7h0M44.3 386.6h0M89.3 377.2h0M83.3 373.8h0M89.8 380.0h0M77.1 382.9h0M81.9 347.3h0M81.4 381.0h0M70.0 384.3h0M78.1 369.2h0M83.8 364.8h0M100.7 371.1h0M100.7 373.1h0M86.8 375.9h0M85.4 368.1h0M73.9 366.8h0M78.3 369.3h0M91.5 361.9h0M49.3 388.0h0M88.6 379.1h0M81.5 365.6h0M43.7 381.7h0M49.7 381.6h0M77.0 363.1h0M100.7 378.7h0M88.0 370.3h0M84.7 373.5h0M77.0 361.1h0M82.0 374.6h0M100.1 357.8h0M86.7 371.5h0M82.0 383.6h0M45.4 373.0h0M64.9 379.4h0M90.2 354.2h0M86.4 361.3h0M91.3 371.1h0M61.2 368.3h0M83.4 370.9h0M66.6 381.3h0M55.6 370.0h0M68.6 383.7h0M73.5 357.7h0M54.7 385.5h0M84.9 366.3h0M60.3 374.0h0M37.1 383.1h0M47.6 383.5h0M79.2 377.4h0M82.9 387.6h0M29.5 386.8h0M66.8 386.5h0M89.9 380.5h0M80.5 379.6h0M97.2 342.0h0M89.8 377.4h0M26.0 388.4h0M79.6 361.4h0M68.3 375.7h0M62.4 379.3h0M72.3 377.8h0M72.0 371.6h0M82.6 347.0h0M77.1 381.4h0M73.6 365.5h0M87.4 365.7h0M84.1 370.6h0M80.3 384.6h0M72.9 364.4h0M78.1 382.9h0M100.7 370.8h0M54.8 383.4h0M83.5 387.6h0M50.9 383.3h0" stroke="#D8303A" stroke-width="1.3" stroke-linecap="round" fill="none" stroke-opacity="0.9"/>
<path d="M189.0 383.9h0M218.4 372.1h0M194.7 386.2h0M194.1 387.4h0M212.3 385.9h0M204.0 381.8h0M208.9 380.1h0M196.9 363.9h0M185.2 376.7h0M208.5 372.1h0M174.3 385.3h0M194.8 359.9h0M185.1 364.1h0M194.2 368.7h0M196.2 380.9h0M204.8 381.4h0M167.6 379.6h0M201.7 351.5h0M215.6 384.0h0M220.1 375.5h0M192.7 376.9h0M216.2 351.1h0M187.1 369.8h0M198.1 372.1h0M203.5 380.4h0M184.0 386.7h0M194.6 368.1h0M181.4 383.4h0M209.9 360.7h0M198.4 365.8h0M223.4 367.8h0M194.3 383.3h0M198.0 383.3h0M223.4 357.8h0M203.3 382.1h0M207.3 386.9h0M179.5 380.9h0M207.0 380.8h0M182.2 379.6h0M201.2 381.0h0M181.1 378.4h0M211.9 364.3h0M203.2 375.3h0M173.8 386.4h0M182.9 374.7h0M200.0 386.5h0M184.0 379.9h0M195.8 382.9h0M191.2 362.4h0M180.4 386.0h0M196.1 373.3h0M205.4 376.4h0M209.1 374.6h0M189.4 385.0h0M204.3 357.9h0M186.2 373.8h0M201.0 372.4h0M178.3 376.4h0M205.4 384.5h0M194.7 370.3h0M182.3 381.9h0M217.9 364.9h0M222.2 375.8h0M187.8 372.1h0M203.0 380.8h0M209.8 370.2h0M205.4 383.8h0M198.3 381.0h0M192.7 373.6h0M195.8 378.8h0M192.6 378.2h0M221.3 386.0h0M181.0 382.8h0M195.0 377.7h0M202.5 373.1h0M186.0 383.1h0M208.2 382.5h0M192.3 386.8h0M214.9 385.8h0M177.9 366.0h0M223.4 376.3h0M211.9 369.0h0M219.5 382.9h0M205.4 376.9h0M185.8 383.9h0M189.4 382.1h0M182.6 376.4h0M171.5 377.2h0M204.1 382.1h0M188.7 372.0h0M198.1 384.3h0M215.6 380.0h0M179.4 387.3h0M205.8 376.0h0M180.8 377.2h0M191.0 370.7h0M186.7 384.5h0M197.7 378.9h0M182.5 378.3h0M201.3 377.2h0M184.9 372.3h0M197.1 374.0h0M197.3 388.0h0M196.7 380.1h0M215.8 372.1h0M200.0 381.4h0M191.1 387.3h0M188.1 373.8h0M211.7 377.7h0M185.5 371.7h0" stroke="#A83848" stroke-width="1.0" stroke-linecap="round" fill="none" stroke-opacity="0.9"/>
<path d="M251.1 371.8h0M261.2 384.1h0M274.7 381.1h0M275.2 384.3h0M253.1 374.6h0M259.6 383.5h0M330.7 380.5h0M261.3 381.3h0M264.8 381.9h0M262.1 376.8h0M260.3 386.5h0M299.5 389.0h0M259.4 375.8h0M256.7 383.2h0M276.0 388.2h0M285.0 387.9h0M274.1 386.2h0M256.0 386.0h0M275.7 386.3h0M272.2 382.5h0M283.2 384.9h0M251.7 368.8h0M251.0 371.3h0M272.5 373.6h0M256.0 388.3h0M257.2 388.7h0M276.7 382.0h0M250.9 349.9h0M263.2 354.7h0M318.5 385.3h0M261.8 380.8h0M253.6 368.3h0M284.7 381.6h0M256.5 388.5h0M253.3 369.4h0M331.5 372.0h0M279.0 378.2h0M264.1 382.1h0M251.9 387.9h0M266.5 383.3h0M296.7 388.8h0M272.1 377.2h0M261.7 371.5h0M307.5 385.6h0M257.4 356.2h0M262.7 376.3h0M271.6 359.1h0M273.8 380.6h0M257.8 371.5h0M296.3 388.1h0M296.0 382.0h0M264.7 381.8h0M251.3 377.4h0M273.1 386.8h0M294.4 380.8h0M294.4 380.4h0M276.0 381.8h0M283.8 379.2h0M311.0 366.5h0M274.2 372.9h0M277.5 363.4h0M295.7 381.8h0M259.7 383.0h0M288.5 387.3h0M290.3 379.5h0M251.5 364.9h0M254.6 376.7h0M289.0 387.0h0M289.1 383.2h0M256.1 376.2h0M259.1 377.6h0M278.5 365.1h0M253.1 368.4h0M257.4 368.8h0M289.8 385.5h0M255.5 383.3h0M256.0 383.0h0M252.9 368.0h0M263.0 383.6h0M250.8 385.2h0M257.2 383.7h0M253.5 362.6h0M252.9 376.0h0M285.4 376.1h0M283.4 380.5h0M261.0 384.1h0M258.9 377.4h0M253.6 381.9h0M257.9 380.7h0M275.8 376.1h0M322.0 382.2h0M283.0 378.8h0M291.7 378.4h0M289.4 384.0h0M292.3 379.5h0M265.9 383.0h0M294.6 374.0h0M255.1 377.9h0M284.7 387.8h0M260.7 367.1h0M272.1 386.5h0M277.2 379.0h0M284.6 381.7h0M257.3 384.7h0M311.7 384.5h0M283.8 387.0h0M263.6 386.8h0M280.4 384.2h0M268.1 370.1h0M282.0 378.6h0M255.5 382.1h0M280.6 385.1h0M258.3 380.7h0M270.2 380.7h0M278.2 384.5h0M293.2 377.7h0M286.6 374.2h0M291.2 388.0h0M295.1 388.0h0M253.3 362.5h0M258.5 351.8h0M286.5 384.5h0M257.0 377.2h0M285.5 384.6h0M341.1 383.0h0M292.7 378.2h0M252.4 365.3h0M256.2 382.0h0M291.8 381.3h0M260.3 375.1h0M258.7 386.9h0M255.5 366.1h0M256.5 352.7h0M264.8 385.2h0M312.0 385.2h0M252.5 379.8h0M256.6 379.6h0M292.3 386.8h0M295.9 388.2h0M264.2 376.3h0M287.3 382.5h0M258.5 385.2h0M253.9 382.9h0M256.2 383.1h0M273.6 384.2h0M264.6 376.2h0M266.7 354.1h0M251.1 383.7h0M325.2 383.7h0M251.8 380.7h0M253.4 373.6h0M259.4 347.9h0M259.3 388.6h0M254.1 377.2h0M257.9 374.0h0M252.4 350.7h0M257.0 373.2h0M256.7 387.5h0M271.7 385.9h0M275.9 380.1h0M269.3 379.6h0M291.1 381.3h0M268.7 384.7h0M257.4 386.7h0M293.5 386.9h0M277.6 388.6h0M261.0 373.1h0M251.6 386.3h0M332.4 385.0h0M257.0 370.4h0M286.3 380.3h0M283.3 388.3h0M254.8 374.4h0M253.3 377.8h0M270.9 370.7h0M285.6 384.5h0M261.4 373.2h0M254.3 367.9h0M320.0 386.5h0M275.5 388.2h0M259.1 385.2h0M255.3 335.5h0M279.7 372.8h0M280.4 388.5h0M289.0 382.4h0M328.5 385.2h0M271.5 387.9h0M263.9 383.5h0M273.7 388.1h0M295.4 383.2h0M286.8 382.7h0M283.9 373.1h0M266.9 388.3h0M255.6 386.5h0M291.3 388.0h0M315.9 381.2h0M251.1 357.5h0M253.5 373.0h0M260.7 383.8h0M257.8 370.9h0M293.8 388.9h0M279.2 385.3h0M277.3 385.1h0M289.0 382.5h0M300.9 385.0h0M323.3 373.9h0M288.1 382.3h0M287.0 377.1h0M255.0 383.6h0M260.7 387.2h0M270.1 384.1h0M251.4 384.2h0M286.2 387.2h0M253.5 387.3h0M253.3 375.8h0M263.8 377.2h0M291.1 385.7h0M286.8 383.1h0M267.8 377.4h0M251.5 360.5h0M265.0 368.6h0M261.7 379.2h0M337.2 386.8h0M315.5 386.7h0M265.1 383.7h0M274.8 346.0h0M264.2 388.2h0M266.6 381.6h0M254.4 367.7h0M325.2 388.0h0M276.4 372.5h0M341.3 385.3h0M259.6 385.8h0M302.3 378.4h0M265.5 383.9h0M294.0 385.0h0M338.5 382.8h0M283.6 384.1h0M279.0 367.1h0M289.1 385.2h0M293.2 383.5h0M326.3 386.8h0M305.8 382.4h0M309.6 384.5h0M283.6 376.7h0M264.1 387.8h0M267.3 361.8h0M253.1 376.6h0M289.6 386.9h0M274.4 387.9h0M295.6 378.2h0M251.5 379.6h0M317.5 387.9h0M293.2 383.9h0M259.2 387.8h0M257.0 378.0h0M321.1 377.1h0M282.0 381.9h0M264.0 374.7h0M251.1 388.6h0M253.4 373.7h0M273.9 383.9h0M292.9 382.4h0M268.4 388.7h0M253.4 370.7h0M252.0 386.1h0M292.3 387.6h0M339.7 382.9h0M251.3 375.0h0M267.2 367.2h0M292.1 387.9h0M281.2 387.7h0M262.5 379.8h0M254.2 357.3h0M270.0 388.1h0M271.8 384.2h0M280.9 374.2h0M301.4 387.8h0M263.1 387.5h0M252.5 377.4h0M256.4 366.3h0M324.2 388.6h0M292.8 386.5h0M260.0 382.2h0M271.6 385.1h0M318.2 388.5h0M264.4 375.3h0M278.0 388.0h0M268.2 382.6h0M255.9 388.8h0M259.7 359.3h0M286.9 386.8h0M262.4 381.3h0M251.8 371.8h0M294.9 383.2h0M259.6 384.7h0M287.6 368.5h0M328.2 374.0h0M261.4 372.6h0M252.7 375.6h0M277.1 388.3h0M278.7 383.5h0M253.5 388.4h0M283.9 382.9h0M269.8 382.1h0M250.8 379.4h0M283.1 381.8h0M273.8 387.7h0M284.4 383.8h0M281.7 385.0h0M268.7 386.9h0M275.8 372.5h0M290.4 387.6h0M262.4 351.8h0M322.4 388.0h0M295.7 374.5h0M262.1 353.2h0M285.2 388.1h0M251.7 384.1h0M254.9 363.8h0M255.1 375.1h0M261.7 386.9h0M268.3 386.4h0M296.6 382.3h0M270.5 382.9h0M251.2 381.9h0M290.3 384.4h0M251.4 367.9h0M253.1 378.3h0M255.9 359.1h0M252.7 368.6h0M285.9 384.4h0M263.5 388.3h0M283.9 373.0h0M269.5 383.6h0M265.6 368.4h0M284.7 382.9h0M259.5 351.5h0M271.2 377.2h0M262.7 387.9h0M261.2 373.7h0M266.0 387.3h0M267.1 368.1h0M287.4 385.5h0M291.6 380.1h0M255.3 383.1h0M257.9 387.4h0M258.9 379.6h0M253.5 387.0h0M306.1 383.4h0M264.2 381.7h0M255.1 370.0h0M269.5 388.9h0M264.5 381.4h0M317.4 387.5h0M257.6 368.0h0M251.4 369.5h0M337.7 386.4h0M284.2 383.9h0M283.8 387.3h0M289.6 387.3h0M254.2 334.2h0M251.2 367.6h0M273.8 387.0h0M252.9 367.2h0M271.2 375.6h0M256.0 378.9h0M283.4 386.0h0M254.1 388.0h0M275.1 380.3h0M256.7 382.8h0M276.2 388.5h0M281.3 370.4h0M342.2 380.0h0M256.6 388.3h0M282.2 385.9h0M293.2 370.9h0M259.5 339.4h0M264.7 349.5h0M252.9 345.5h0M296.7 380.7h0M251.2 380.4h0M315.4 383.0h0M320.6 384.4h0M252.8 383.1h0M266.8 388.2h0M254.3 388.2h0M272.4 382.5h0M262.6 388.6h0M262.5 388.8h0M262.1 382.7h0M274.9 374.5h0M278.2 381.6h0M290.4 371.7h0M298.2 381.2h0M308.8 379.9h0M288.8 383.1h0M271.5 369.6h0M264.3 388.0h0M268.5 377.6h0M283.5 383.3h0M257.6 388.4h0M269.8 371.3h0M260.6 385.3h0M273.9 365.7h0M276.9 384.3h0M276.4 379.9h0M253.7 375.7h0M253.9 386.1h0M278.8 379.6h0M256.7 381.2h0M292.6 379.8h0M257.9 328.9h0M250.9 320.2h0M254.5 388.9h0M325.4 384.8h0M253.3 367.7h0M288.4 385.8h0M257.3 382.9h0M263.5 379.3h0M250.8 381.1h0M262.4 388.9h0M268.6 367.8h0M268.2 376.5h0M291.9 383.0h0M252.0 350.4h0M259.3 381.3h0M315.6 376.9h0M250.8 374.6h0M269.2 386.1h0M279.1 383.6h0M293.4 376.0h0M273.5 381.6h0M336.6 387.6h0M341.6 383.1h0M252.4 385.3h0M288.4 383.4h0M256.4 378.2h0M299.7 377.6h0M288.8 388.0h0M268.7 379.9h0M288.7 385.5h0M268.1 382.2h0M294.3 379.4h0M250.8 380.9h0M252.1 339.5h0M253.9 387.6h0M257.4 362.8h0M291.4 381.8h0M279.8 383.8h0M256.0 376.4h0M281.5 377.1h0M259.0 358.8h0M291.4 387.9h0M258.1 388.4h0M291.3 382.9h0M274.1 388.2h0M276.5 372.5h0M267.0 376.4h0M258.6 346.3h0M276.9 387.0h0M262.2 376.5h0M252.6 388.1h0M263.5 376.3h0M284.0 387.0h0M294.7 388.6h0M254.6 376.4h0M280.4 380.5h0M258.5 361.8h0M323.0 388.0h0M332.8 388.4h0M263.8 382.2h0M253.0 373.0h0M263.6 379.5h0M294.1 385.5h0M263.0 376.9h0M280.6 378.5h0M256.9 346.1h0M252.4 382.1h0M272.8 382.6h0M288.6 343.9h0M259.5 388.5h0M284.8 387.8h0M276.6 386.8h0M259.5 356.3h0M253.5 373.7h0M294.9 382.1h0M288.3 387.9h0M252.6 382.0h0M264.3 385.5h0M289.3 379.7h0M342.6 387.9h0M277.6 359.2h0M258.9 386.6h0M294.9 383.1h0M269.9 388.6h0M259.6 385.8h0M266.9 360.1h0M250.8 367.5h0M251.0 348.0h0M253.8 377.0h0M314.1 386.7h0M259.6 358.6h0M304.4 385.2h0M269.8 380.9h0M271.7 368.3h0M262.1 388.9h0M258.1 388.2h0M267.8 348.1h0M251.2 371.0h0M290.0 386.9h0M254.0 362.5h0M251.0 374.0h0M253.5 341.2h0M305.3 388.7h0M253.1 380.6h0M285.5 380.9h0M255.1 385.4h0M269.9 385.1h0M282.4 386.6h0M266.7 346.8h0M313.4 388.4h0M315.8 387.1h0M265.6 361.7h0M327.2 387.1h0M340.1 388.3h0M277.7 380.7h0M291.7 387.6h0M286.0 365.3h0M270.6 382.5h0M256.1 374.5h0M255.4 383.5h0M288.4 376.5h0M291.7 384.4h0M328.6 382.4h0M253.3 369.7h0M264.4 372.3h0M274.0 385.2h0M263.1 388.1h0M250.8 376.9h0M254.8 340.6h0M254.3 378.5h0M288.7 387.8h0M309.9 388.0h0M253.6 339.0h0M256.9 382.0h0M253.4 365.1h0M272.1 387.2h0M298.6 380.1h0M253.1 376.6h0M263.0 378.9h0M272.6 354.8h0M253.6 361.3h0M257.3 378.6h0M262.0 362.2h0M265.1 384.6h0M255.6 320.6h0M266.4 387.8h0M270.9 384.0h0M258.5 367.2h0M269.2 371.9h0M291.5 371.0h0M252.2 363.6h0M296.6 388.4h0M287.2 389.0h0M270.1 382.7h0M266.2 388.9h0M296.7 386.1h0M285.4 376.0h0M290.8 382.9h0M252.5 386.1h0M331.5 375.6h0M262.1 359.1h0M295.1 376.6h0M266.0 387.1h0M255.3 382.4h0M294.6 384.4h0M285.3 379.1h0M258.1 379.7h0M292.1 381.0h0M292.9 388.1h0M253.2 357.8h0M291.3 378.1h0M254.5 380.2h0M254.3 381.2h0M280.0 385.5h0M251.7 382.8h0M259.1 380.8h0M261.6 388.3h0M321.9 383.6h0M250.8 388.6h0M288.0 372.9h0M256.4 379.1h0M329.4 374.3h0M259.7 386.9h0M287.3 370.1h0M251.9 373.9h0M255.5 388.7h0M295.0 386.1h0M330.4 388.5h0M263.3 370.4h0M269.2 388.6h0M252.6 379.3h0M336.9 385.3h0M271.3 385.6h0M257.9 371.1h0M253.7 387.5h0M295.8 383.7h0M279.4 386.4h0M292.4 388.7h0M268.8 367.7h0M280.8 383.7h0M255.8 369.8h0M298.3 383.9h0M252.0 358.5h0M257.3 364.7h0M292.1 388.7h0M257.6 332.3h0M263.5 363.8h0M253.7 376.9h0M259.7 367.2h0M274.3 385.2h0M274.9 384.1h0M255.6 378.1h0M286.1 382.9h0M267.2 385.9h0M293.9 379.4h0M251.5 388.5h0M252.0 388.0h0M263.0 374.4h0M272.2 379.0h0M325.9 385.6h0M295.5 377.7h0M256.2 387.0h0M256.9 387.9h0M253.2 382.6h0M317.9 388.9h0M251.3 388.5h0M258.4 370.2h0M256.4 373.0h0M250.8 377.1h0M256.2 366.0h0M257.6 386.5h0M260.7 373.3h0M296.1 382.5h0M278.7 380.4h0M294.4 388.4h0M289.9 387.1h0M256.4 388.1h0M272.8 379.4h0M258.5 383.3h0M255.6 386.9h0M267.3 372.6h0M252.8 352.3h0M328.8 387.0h0M251.3 359.0h0M292.2 385.3h0M292.0 387.2h0M289.3 382.5h0M276.8 388.7h0" stroke="#66A8F0" stroke-width="1.1" stroke-linecap="round" fill="none" stroke-opacity="0.9"/>
<path d="M75.70 106.58 78.51 109.32 81.33 111.99 84.14 114.59 86.95 117.13 89.77 119.59 92.58 121.97 95.39 124.28 98.21 126.51 101.02 128.65 103.84 130.72 106.65 132.69 109.46 134.58 112.28 136.38 115.09 138.08 117.90 139.69 120.72 141.21 123.53 142.62 126.34 143.93 129.16 145.14 131.97 146.24 134.78 147.23 137.60 148.11 140.41 148.88 143.23 149.54 146.04 150.07 148.85 150.49 151.67 150.78 154.48 150.95 157.29 151.00 160.11 150.92 162.92 150.70 165.73 150.36 168.55 149.88 171.36 149.28 174.17 148.54 176.99 147.67 179.80 146.68 182.62 145.55 185.43 144.29 188.24 142.90 191.06 141.38 193.87 139.73 196.68 137.95 199.50 136.04 202.31 134.00 205.12 131.83 207.94 129.52 210.75 127.09 213.56 124.53 216.38 121.83 219.19 119.01 222.01 116.05 224.82 112.97 227.63 109.75 230.45 106.40 233.26 102.93 236.07 99.32 238.89 95.58 241.70 91.71" stroke="#000" stroke-width="1.3" fill="none"/>
<path d="M24.30 254.67 25.68 256.45 27.06 258.14 28.43 259.76 29.81 261.33 31.19 262.82 32.57 264.26 33.95 265.63 35.32 266.95 36.70 268.20 38.08 269.39 39.46 270.53 40.84 271.60 42.21 272.62 43.59 273.58 44.97 274.48 46.35 275.32 47.73 276.11 49.10 276.85 50.48 277.53 51.86 278.15 53.24 278.73 54.62 279.24 55.99 279.71 57.37 280.13 58.75 280.49 60.13 280.80 61.51 281.06 62.88 281.28 64.26 281.44 65.64 281.55 67.02 281.60 68.39 281.61 69.77 281.56 71.15 281.47 72.53 281.33 73.91 281.14 75.28 280.91 76.66 280.63 78.04 280.31 79.42 279.94 80.80 279.53 82.17 279.08 83.55 278.59 84.93 278.05 86.31 277.47 87.69 276.85 89.06 276.19 90.44 275.50 91.82 274.76 93.20 273.98 94.58 273.17 95.95 272.32 97.33 271.43 98.71 270.51 100.09 269.55 101.47 268.55 102.84 267.52 104.22 266.46 105.60 265.37L105.60 267.77 104.22 268.80 102.84 269.80 101.47 270.76 100.09 271.70 98.71 272.60 97.33 273.46 95.95 274.30 94.58 275.09 93.20 275.85 91.82 276.58 90.44 277.26 89.06 277.91 87.69 278.53 86.31 279.10 84.93 279.63 83.55 280.13 82.17 280.59 80.80 281.00 79.42 281.37 78.04 281.71 76.66 282.00 75.28 282.25 73.91 282.45 72.53 282.61 71.15 282.73 69.77 282.80 68.39 282.83 67.02 282.81 65.64 282.75 64.26 282.65 62.88 282.51 61.51 282.31 60.13 282.07 58.75 281.78 57.37 281.43 55.99 281.04 54.62 280.59 53.24 280.09 51.86 279.54 50.48 278.94 49.10 278.28 47.73 277.57 46.35 276.80 44.97 275.98 43.59 275.10 42.21 274.17 40.84 273.17 39.46 272.12 38.08 271.02 36.70 269.85 35.32 268.63 33.95 267.34 32.57 266.00 31.19 264.59 29.81 263.13 28.43 261.60 27.06 260.02 25.68 258.37 24.30 256.67Z" fill="#bdbdbd" fill-opacity="0.55"/>
<path d="M135.00 255.43 136.54 257.28 138.08 259.03 139.63 260.72 141.17 262.32 142.71 263.85 144.25 265.31 145.80 266.69 147.34 268.01 148.88 269.25 150.42 270.42 151.97 271.53 153.51 272.57 155.05 273.54 156.59 274.44 158.14 275.28 159.68 276.06 161.22 276.78 162.76 277.43 164.31 278.02 165.85 278.56 167.39 279.03 168.93 279.45 170.47 279.81 172.02 280.11 173.56 280.36 175.10 280.55 176.64 280.69 178.19 280.78 179.73 280.82 181.27 280.80 182.81 280.71 184.36 280.57 185.90 280.37 187.44 280.12 188.98 279.82 190.53 279.47 192.07 279.07 193.61 278.63 195.15 278.14 196.69 277.60 198.24 277.02 199.78 276.40 201.32 275.73 202.86 275.03 204.41 274.28 205.95 273.50 207.49 272.68 209.03 271.82 210.58 270.93 212.12 270.00 213.66 269.04 215.20 268.04 216.75 267.02 218.29 265.96 219.83 264.87 221.37 263.75 222.92 262.61 224.46 261.44 226.00 260.24L226.00 265.84 224.46 266.80 222.92 267.74 221.37 268.66 219.83 269.56 218.29 270.43 216.75 271.27 215.20 272.09 213.66 272.89 212.12 273.66 210.58 274.40 209.03 275.11 207.49 275.79 205.95 276.44 204.41 277.06 202.86 277.64 201.32 278.19 199.78 278.71 198.24 279.20 196.69 279.64 195.15 280.06 193.61 280.43 192.07 280.77 190.53 281.06 188.98 281.32 187.44 281.54 185.90 281.72 184.36 281.85 182.81 281.95 181.27 282.00 179.73 282.02 178.19 282.00 176.64 281.93 175.10 281.80 173.56 281.62 172.02 281.39 170.47 281.10 168.93 280.76 167.39 280.36 165.85 279.90 164.31 279.38 162.76 278.81 161.22 278.17 159.68 277.47 158.14 276.71 156.59 275.89 155.05 275.00 153.51 274.05 151.97 273.03 150.42 271.94 148.88 270.79 147.34 269.56 145.80 268.27 144.25 266.91 142.71 265.48 141.17 263.97 139.63 262.39 138.08 260.74 136.54 259.02 135.00 257.23Z" fill="#bdbdbd" fill-opacity="0.55"/>
<path d="M251.70 253.81 253.21 254.94 254.71 255.88 256.22 256.75 257.72 257.57 259.23 258.35 260.73 259.08 262.24 259.78 263.74 260.44 265.25 261.06 266.75 261.65 268.26 262.20 269.76 262.72 271.27 263.21 272.77 263.67 274.28 264.10 275.78 264.50 277.29 264.87 278.79 265.21 280.30 265.52 281.80 265.81 283.31 266.07 284.81 266.30 286.32 266.51 287.82 266.69 289.33 266.85 290.83 266.98 292.34 267.09 293.84 267.18 295.35 267.24 296.85 267.23 298.36 267.15 299.86 267.04 301.37 266.91 302.87 266.76 304.38 266.59 305.88 266.40 307.39 266.18 308.89 265.95 310.40 265.70 311.90 265.43 313.41 265.14 314.91 264.84 316.42 264.52 317.92 264.18 319.43 263.82 320.93 263.46 322.44 263.07 323.94 262.67 325.45 262.26 326.95 261.83 328.46 261.39 329.96 260.94 331.47 260.47 332.97 259.99 334.48 259.50 335.98 259.00 337.49 258.49 338.99 257.97 340.50 257.44L340.50 260.64 338.99 261.08 337.49 261.52 335.98 261.95 334.48 262.37 332.97 262.78 331.47 263.18 329.96 263.57 328.46 263.95 326.95 264.32 325.45 264.68 323.94 265.03 322.44 265.36 320.93 265.69 319.43 266.00 317.92 266.29 316.42 266.58 314.91 266.84 313.41 267.10 311.90 267.34 310.40 267.56 308.89 267.77 307.39 267.96 305.88 268.14 304.38 268.30 302.87 268.44 301.37 268.57 299.86 268.67 298.36 268.76 296.85 268.84 295.35 268.94 293.84 269.08 292.34 269.20 290.83 269.29 289.33 269.37 287.82 269.42 286.32 269.45 284.81 269.46 283.31 269.45 281.80 269.41 280.30 269.35 278.79 269.26 277.29 269.16 275.78 269.02 274.28 268.87 272.77 268.68 271.27 268.48 269.76 268.25 268.26 267.99 266.75 267.71 265.25 267.40 263.74 267.07 262.24 266.71 260.73 266.33 259.23 265.93 257.72 265.50 256.22 265.06 254.71 264.60 253.21 264.15 251.70 263.81Z" fill="#bdbdbd" fill-opacity="0.55"/>
<path d="M24.60 381.20 25.82 381.08 27.04 380.87 28.26 380.64 29.48 380.39 30.70 380.14 31.92 379.88 33.14 379.62 34.36 379.36 35.58 379.09 36.80 378.81 38.02 378.54 39.24 378.26 40.46 377.98 41.68 377.70 42.91 377.42 44.13 377.13 45.35 376.85 46.57 376.56 47.79 376.27 49.01 375.99 50.23 375.70 51.45 375.41 52.67 375.11 53.89 374.82 55.11 374.53 56.33 374.23 57.55 373.94 58.77 373.64 59.99 373.35 61.21 373.02 62.43 372.64 63.65 372.26 64.87 371.87 66.09 371.47 67.31 371.07 68.53 370.66 69.75 370.25 70.97 369.83 72.19 369.41 73.41 368.98 74.63 368.55 75.85 368.12 77.07 367.68 78.29 367.24 79.52 366.79 80.74 366.34 81.96 365.89 83.18 365.43 84.40 364.97 85.62 364.51 86.84 364.04 88.06 363.57 89.28 363.10 90.50 362.62 91.72 362.14 92.94 361.66 94.16 361.18 95.38 360.69 96.60 360.20L96.60 367.20 95.38 367.42 94.16 367.65 92.94 367.87 91.72 368.10 90.50 368.34 89.28 368.57 88.06 368.81 86.84 369.05 85.62 369.30 84.40 369.55 83.18 369.80 81.96 370.06 80.74 370.31 79.52 370.58 78.29 370.84 77.07 371.11 75.85 371.38 74.63 371.66 73.41 371.94 72.19 372.23 70.97 372.52 69.75 372.81 68.53 373.11 67.31 373.41 66.09 373.72 64.87 374.04 63.65 374.36 62.43 374.69 61.21 375.03 59.99 375.41 58.77 375.82 57.55 376.24 56.33 376.66 55.11 377.08 53.89 377.49 52.67 377.91 51.45 378.33 50.23 378.75 49.01 379.18 47.79 379.60 46.57 380.02 45.35 380.45 44.13 380.88 42.91 381.30 41.68 381.73 40.46 382.16 39.24 382.60 38.02 383.03 36.80 383.47 35.58 383.91 34.36 384.35 33.14 384.80 31.92 385.24 30.70 385.70 29.48 386.16 28.26 386.63 27.04 387.11 25.82 387.61 24.60 388.20Z" fill="#bdbdbd" fill-opacity="0.55"/>
<path d="M134.30 363.20 135.73 364.69 137.16 365.85 138.59 366.91 140.02 367.89 141.44 368.81 142.87 369.68 144.30 370.49 145.73 371.25 147.16 371.97 148.59 372.64 150.02 373.27 151.45 373.86 152.87 374.40 154.30 374.91 155.73 375.39 157.16 375.82 158.59 376.22 160.02 376.59 161.45 376.92 162.88 377.22 164.31 377.48 165.73 377.71 167.16 377.91 168.59 378.08 170.02 378.22 171.45 378.33 172.88 378.41 174.31 378.47 175.74 378.49 177.16 378.39 178.59 378.16 180.02 377.91 181.45 377.62 182.88 377.31 184.31 376.97 185.74 376.61 187.17 376.22 188.59 375.80 190.02 375.37 191.45 374.90 192.88 374.42 194.31 373.92 195.74 373.39 197.17 372.85 198.60 372.28 200.03 371.69 201.45 371.09 202.88 370.46 204.31 369.82 205.74 369.16 207.17 368.49 208.60 367.79 210.03 367.09 211.46 366.36 212.88 365.62 214.31 364.87 215.74 364.11 217.17 363.33 218.60 362.53L218.60 367.53 217.17 368.16 215.74 368.79 214.31 369.40 212.88 370.00 211.46 370.59 210.03 371.17 208.60 371.74 207.17 372.30 205.74 372.84 204.31 373.37 202.88 373.89 201.45 374.39 200.03 374.88 198.60 375.35 197.17 375.81 195.74 376.25 194.31 376.68 192.88 377.09 191.45 377.48 190.02 377.85 188.59 378.21 187.17 378.55 185.74 378.87 184.31 379.17 182.88 379.46 181.45 379.72 180.02 379.97 178.59 380.19 177.16 380.40 175.74 380.68 174.31 381.04 172.88 381.38 171.45 381.69 170.02 381.97 168.59 382.23 167.16 382.47 165.73 382.68 164.31 382.87 162.88 383.03 161.45 383.16 160.02 383.27 158.59 383.34 157.16 383.40 155.73 383.42 154.30 383.42 152.87 383.39 151.45 383.33 150.02 383.25 148.59 383.13 147.16 383.00 145.73 382.83 144.30 382.64 142.87 382.43 141.44 382.19 140.02 381.94 138.59 381.68 137.16 381.42 135.73 381.19 134.30 381.20Z" fill="#bdbdbd" fill-opacity="0.55"/>
<path d="M252.00 365.60 253.50 366.58 255.00 367.49 256.50 368.36 258.00 369.20 259.50 370.00 261.00 370.77 262.50 371.51 264.00 372.21 265.50 372.89 267.00 373.53 268.50 374.14 270.00 374.72 271.50 375.28 273.00 375.80 274.50 376.30 276.00 376.77 277.50 377.22 279.00 377.64 280.50 378.03 282.00 378.40 283.50 378.75 285.00 379.07 286.50 379.36 288.00 379.64 289.50 379.89 291.00 380.13 292.50 380.34 294.00 380.53 295.50 380.70 297.00 380.83 298.50 380.91 300.00 380.95 301.50 380.95 303.00 380.92 304.50 380.86 306.00 380.77 307.50 380.66 309.00 380.52 310.50 380.35 312.00 380.16 313.50 379.95 315.00 379.72 316.50 379.47 318.00 379.19 319.50 378.90 321.00 378.59 322.50 378.26 324.00 377.91 325.50 377.55 327.00 377.17 328.50 376.77 330.00 376.36 331.50 375.94 333.00 375.50 334.50 375.06 336.00 374.60 337.50 374.12 339.00 373.64 340.50 373.15L340.50 386.15 339.00 386.03 337.50 385.91 336.00 385.80 334.50 385.69 333.00 385.57 331.50 385.46 330.00 385.35 328.50 385.24 327.00 385.13 325.50 385.02 324.00 384.91 322.50 384.80 321.00 384.69 319.50 384.57 318.00 384.45 316.50 384.33 315.00 384.21 313.50 384.08 312.00 383.95 310.50 383.81 309.00 383.67 307.50 383.53 306.00 383.39 304.50 383.24 303.00 383.08 301.50 382.92 300.00 382.77 298.50 382.61 297.00 382.45 295.50 382.31 294.00 382.18 292.50 382.02 291.00 381.84 289.50 381.65 288.00 381.43 286.50 381.19 285.00 380.93 283.50 380.64 282.00 380.33 280.50 380.00 279.00 379.65 277.50 379.27 276.00 378.86 274.50 378.43 273.00 377.97 271.50 377.49 270.00 376.98 268.50 376.44 267.00 375.87 265.50 375.28 264.00 374.65 262.50 374.00 261.00 373.31 259.50 372.60 258.00 371.86 256.50 371.08 255.00 370.28 253.50 369.44 252.00 368.60Z" fill="#bdbdbd" fill-opacity="0.55"/>
<path d="M24.30 255.67 25.68 257.41 27.06 259.08 28.43 260.68 29.81 262.23 31.19 263.71 32.57 265.13 33.95 266.49 35.32 267.79 36.70 269.03 38.08 270.20 39.46 271.32 40.84 272.39 42.21 273.39 43.59 274.34 44.97 275.23 46.35 276.06 47.73 276.84 49.10 277.56 50.48 278.23 51.86 278.85 53.24 279.41 54.62 279.92 55.99 280.38 57.37 280.78 58.75 281.13 60.13 281.44 61.51 281.69 62.88 281.89 64.26 282.05 65.64 282.15 67.02 282.21 68.39 282.22 69.77 282.18 71.15 282.10 72.53 281.97 73.91 281.80 75.28 281.58 76.66 281.32 78.04 281.01 79.42 280.66 80.80 280.27 82.17 279.83 83.55 279.36 84.93 278.84 86.31 278.29 87.69 277.69 89.06 277.05 90.44 276.38 91.82 275.67 93.20 274.92 94.58 274.13 95.95 273.31 97.33 272.45 98.71 271.55 100.09 270.62 101.47 269.66 102.84 268.66 104.22 267.63 105.60 266.57" stroke="#4a4a4a" stroke-width="1.5" fill="none"/>
<path d="M30.70 264.03 31.88 265.55 33.07 267.02 34.25 268.44 35.44 269.80 36.62 271.11 37.81 272.37 38.99 273.58 40.18 274.73 41.36 275.83 42.55 276.88 43.73 277.88 44.92 278.82 46.10 279.72 47.29 280.57 48.47 281.37 49.66 282.11 50.84 282.81 52.03 283.47 53.21 284.07 54.39 284.62 55.58 285.13 56.76 285.59 57.95 286.01 59.13 286.37 60.32 286.70 61.50 286.97 62.69 287.20 63.87 287.39 65.06 287.53 66.24 287.63 67.43 287.68 68.61 287.69 69.80 287.66 70.98 287.58 72.17 287.47 73.35 287.31 74.54 287.11 75.72 286.86 76.91 286.58 78.09 286.26 79.27 285.89 80.46 285.49 81.64 285.05 82.83 284.56 84.01 284.04 85.20 283.48 86.38 282.89 87.57 282.25 88.75 281.58 89.94 280.87 91.12 280.13 92.31 279.35 93.49 278.53 94.68 277.68 95.86 276.79 97.05 275.87 98.23 274.91 99.42 273.92 100.60 272.90" stroke="#000" stroke-width="1.5" fill="none" stroke-dasharray="4.5 3.8"/>
<path d="M135.00 256.33 136.54 258.15 138.08 259.89 139.63 261.55 141.17 263.15 142.71 264.66 144.25 266.11 145.80 267.48 147.34 268.79 148.88 270.02 150.42 271.18 151.97 272.28 153.51 273.31 155.05 274.27 156.59 275.17 158.14 276.00 159.68 276.77 161.22 277.47 162.76 278.12 164.31 278.70 165.85 279.23 167.39 279.70 168.93 280.10 170.47 280.46 172.02 280.75 173.56 280.99 175.10 281.18 176.64 281.31 178.19 281.39 179.73 281.42 181.27 281.40 182.81 281.33 184.36 281.21 185.90 281.04 187.44 280.83 188.98 280.57 190.53 280.27 192.07 279.92 193.61 279.53 195.15 279.10 196.69 278.62 198.24 278.11 199.78 277.56 201.32 276.96 202.86 276.34 204.41 275.67 205.95 274.97 207.49 274.23 209.03 273.46 210.58 272.66 212.12 271.83 213.66 270.96 215.20 270.07 216.75 269.14 218.29 268.19 219.83 267.21 221.37 266.21 222.92 265.18 224.46 264.12 226.00 263.04" stroke="#4a4a4a" stroke-width="1.5" fill="none"/>
<path d="M135.00 256.08 136.52 257.90 138.05 259.67 139.57 261.39 141.09 263.06 142.62 264.67 144.14 266.24 145.67 267.75 147.19 269.20 148.71 270.61 150.24 271.96 151.76 273.25 153.28 274.49 154.81 275.68 156.33 276.81 157.86 277.89 159.38 278.91 160.90 279.87 162.43 280.79 163.95 281.64 165.47 282.44 167.00 283.18 168.52 283.86 170.05 284.49 171.57 285.06 173.09 285.57 174.62 286.03 176.14 286.43 177.66 286.76 179.19 287.04 180.71 287.26 182.24 287.43 183.76 287.53 185.28 287.57 186.81 287.55 188.33 287.48 189.85 287.34 191.38 287.14 192.90 286.88 194.43 286.56 195.95 286.18 197.47 285.73 199.00 285.23 200.52 284.66 202.04 284.03 203.57 283.33 205.09 282.58 206.62 281.76 208.14 280.87 209.66 279.93 211.19 278.92 212.71 277.84 214.23 276.70 215.76 275.49 217.28 274.22 218.81 272.89 220.33 271.49 221.85 270.02 223.38 268.49 224.90 266.89" stroke="#000" stroke-width="1.5" fill="none" stroke-dasharray="4.5 3.8"/>
<path d="M251.70 258.81 253.21 259.54 254.71 260.24 256.22 260.91 257.72 261.54 259.23 262.14 260.73 262.71 262.24 263.24 263.74 263.75 265.25 264.23 266.75 264.68 268.26 265.09 269.76 265.48 271.27 265.84 272.77 266.18 274.28 266.48 275.78 266.76 277.29 267.01 278.79 267.24 280.30 267.43 281.80 267.61 283.31 267.76 284.81 267.88 286.32 267.98 287.82 268.06 289.33 268.11 290.83 268.14 292.34 268.15 293.84 268.13 295.35 268.09 296.85 268.04 298.36 267.96 299.86 267.86 301.37 267.74 302.87 267.60 304.38 267.44 305.88 267.27 307.39 267.07 308.89 266.86 310.40 266.63 311.90 266.38 313.41 266.12 314.91 265.84 316.42 265.55 317.92 265.24 319.43 264.91 320.93 264.57 322.44 264.22 323.94 263.85 325.45 263.47 326.95 263.08 328.46 262.67 329.96 262.25 331.47 261.83 332.97 261.39 334.48 260.94 335.98 260.48 337.49 260.01 338.99 259.53 340.50 259.04" stroke="#4a4a4a" stroke-width="1.5" fill="none"/>
<path d="M252.40 258.57 252.87 259.10 253.35 259.63 253.82 260.16 254.29 260.69 254.76 261.21 255.24 261.73 255.71 262.26 256.18 262.78 256.66 263.29 257.13 263.81 257.60 264.33 258.07 264.84 258.55 265.35 259.02 265.87 259.49 266.38 259.97 266.89 260.44 267.39 260.91 267.90 261.38 268.41 261.86 268.91 262.33 269.42 262.80 269.92 263.28 270.42 263.75 270.92 264.22 271.42 264.69 271.92 265.17 272.42 265.64 272.92 266.11 273.42 266.59 273.91 267.06 274.41 267.53 274.90 268.01 275.40 268.48 275.89 268.95 276.39 269.42 276.88 269.90 277.38 270.37 277.87 270.84 278.36 271.32 278.86 271.79 279.35 272.26 279.84 272.73 280.33 273.21 280.83 273.68 281.32 274.15 281.81 274.63 282.30 275.10 282.80 275.57 283.29 276.04 283.78 276.52 284.28 276.99 284.77 277.46 285.27 277.94 285.76 278.41 286.26 278.88 286.75 279.35 287.25 279.83 287.75 280.30 288.24" stroke="#000" stroke-width="1.5" fill="none" stroke-dasharray="4.5 3.8"/>
<path d="M24.60 384.70 25.82 384.34 27.04 383.99 28.26 383.63 29.48 383.28 30.70 382.92 31.92 382.56 33.14 382.21 34.36 381.85 35.58 381.50 36.80 381.14 38.02 380.78 39.24 380.43 40.46 380.07 41.68 379.72 42.91 379.36 44.13 379.01 45.35 378.65 46.57 378.29 47.79 377.94 49.01 377.58 50.23 377.23 51.45 376.87 52.67 376.51 53.89 376.16 55.11 375.80 56.33 375.45 57.55 375.09 58.77 374.73 59.99 374.38 61.21 374.02 62.43 373.67 63.65 373.31 64.87 372.95 66.09 372.60 67.31 372.24 68.53 371.89 69.75 371.53 70.97 371.17 72.19 370.82 73.41 370.46 74.63 370.11 75.85 369.75 77.07 369.39 78.29 369.04 79.52 368.68 80.74 368.33 81.96 367.97 83.18 367.62 84.40 367.26 85.62 366.90 86.84 366.55 88.06 366.19 89.28 365.84 90.50 365.48 91.72 365.12 92.94 364.77 94.16 364.41 95.38 364.06 96.60 363.70" stroke="#4a4a4a" stroke-width="1.5" fill="none"/>
<path d="M24.60 384.70 24.66 384.68 24.72 384.66 24.78 384.65 24.84 384.63 24.91 384.61 24.97 384.59 25.03 384.58 25.09 384.56 25.15 384.54 25.21 384.52 25.27 384.50 25.33 384.49 25.39 384.47 25.45 384.45 25.52 384.43 25.58 384.42 25.64 384.40 25.70 384.38 25.76 384.36 25.82 384.34 25.88 384.33 25.94 384.31 26.00 384.29 26.06 384.27 26.13 384.26 26.19 384.24 26.25 384.22 26.31 384.20 26.37 384.18 26.43 384.17 26.49 384.15 26.55 384.13 26.61 384.11 26.67 384.09 26.74 384.08 26.80 384.06 26.86 384.04 26.92 384.02 26.98 384.01 27.04 383.99 27.10 383.97 27.16 383.95 27.22 383.93 27.28 383.92 27.35 383.90 27.41 383.88 27.47 383.86 27.53 383.85 27.59 383.83 27.65 383.81 27.71 383.79 27.77 383.77 27.83 383.76 27.89 383.74 27.96 383.72 28.02 383.70 28.08 383.69 28.14 383.67 28.20 383.65" stroke="#000" stroke-width="1.6" fill="none"/>
<path d="M134.30 372.20 135.73 372.94 137.16 373.64 138.59 374.30 140.02 374.92 141.44 375.50 142.87 376.05 144.30 376.56 145.73 377.04 147.16 377.48 148.59 377.89 150.02 378.26 151.45 378.59 152.87 378.90 154.30 379.17 155.73 379.40 157.16 379.61 158.59 379.78 160.02 379.93 161.45 380.04 162.88 380.12 164.31 380.17 165.73 380.20 167.16 380.19 168.59 380.16 170.02 380.10 171.45 380.01 172.88 379.89 174.31 379.75 175.74 379.59 177.16 379.39 178.59 379.18 180.02 378.94 181.45 378.67 182.88 378.38 184.31 378.07 185.74 377.74 187.17 377.38 188.59 377.01 190.02 376.61 191.45 376.19 192.88 375.75 194.31 375.30 195.74 374.82 197.17 374.33 198.60 373.81 200.03 373.29 201.45 372.74 202.88 372.18 204.31 371.60 205.74 371.00 207.17 370.39 208.60 369.77 210.03 369.13 211.46 368.48 212.88 367.81 214.31 367.14 215.74 366.45 217.17 365.74 218.60 365.03" stroke="#4a4a4a" stroke-width="1.5" fill="none"/>
<path d="M134.30 374.60 135.68 375.89 137.06 377.11 138.44 378.25 139.82 379.32 141.20 380.31 142.58 381.23 143.96 382.09 145.34 382.88 146.72 383.60 148.10 384.25 149.48 384.85 150.86 385.38 152.24 385.85 153.62 386.27 154.99 386.63 156.37 386.93 157.75 387.18 159.13 387.38 160.51 387.53 161.89 387.63 163.27 387.69 164.65 387.69 166.03 387.66 167.41 387.58 168.79 387.46 170.17 387.31 171.55 387.11 172.93 386.88 174.31 386.62 175.69 386.32 177.07 386.00 178.45 385.64 179.83 385.26 181.21 384.85 182.59 384.41 183.97 383.95 185.35 383.47 186.73 382.97 188.11 382.46 189.49 381.92 190.87 381.37 192.25 380.81 193.63 380.23 195.01 379.65 196.38 379.06 197.76 378.45 199.14 377.85 200.52 377.24 201.90 376.63 203.28 376.01 204.66 375.40 206.04 374.79 207.42 374.18 208.80 373.58 210.18 372.99 211.56 372.41 212.94 371.83 214.32 371.27 215.70 370.72" stroke="#000" stroke-width="1.5" fill="none" stroke-dasharray="4.5 3.8"/>
<path d="M252.00 367.10 253.50 368.01 255.00 368.88 256.50 369.72 258.00 370.53 259.50 371.30 261.00 372.04 262.50 372.75 264.00 373.43 265.50 374.08 267.00 374.70 268.50 375.29 270.00 375.85 271.50 376.38 273.00 376.89 274.50 377.37 276.00 377.82 277.50 378.24 279.00 378.64 280.50 379.02 282.00 379.37 283.50 379.69 285.00 380.00 286.50 380.28 288.00 380.53 289.50 380.77 291.00 380.98 292.50 381.18 294.00 381.35 295.50 381.51 297.00 381.64 298.50 381.76 300.00 381.86 301.50 381.94 303.00 382.00 304.50 382.05 306.00 382.08 307.50 382.09 309.00 382.10 310.50 382.08 312.00 382.06 313.50 382.02 315.00 381.96 316.50 381.90 318.00 381.82 319.50 381.74 321.00 381.64 322.50 381.53 324.00 381.41 325.50 381.29 327.00 381.15 328.50 381.01 330.00 380.86 331.50 380.70 333.00 380.54 334.50 380.37 336.00 380.20 337.50 380.02 339.00 379.84 340.50 379.65" stroke="#4a4a4a" stroke-width="1.5" fill="none"/>
<path d="M252.00 367.20 252.81 367.61 253.61 368.02 254.42 368.44 255.22 368.85 256.03 369.26 256.83 369.67 257.64 370.08 258.44 370.49 259.25 370.89 260.05 371.30 260.86 371.70 261.66 372.11 262.47 372.51 263.27 372.91 264.08 373.31 264.88 373.71 265.69 374.11 266.49 374.50 267.30 374.89 268.10 375.28 268.91 375.67 269.71 376.06 270.52 376.44 271.32 376.82 272.13 377.20 272.93 377.58 273.74 377.95 274.54 378.33 275.35 378.69 276.15 379.06 276.96 379.42 277.76 379.78 278.57 380.14 279.37 380.49 280.18 380.84 280.98 381.19 281.79 381.53 282.59 381.87 283.40 382.21 284.20 382.54 285.01 382.87 285.81 383.19 286.62 383.51 287.42 383.83 288.23 384.14 289.03 384.44 289.84 384.75 290.64 385.04 291.45 385.34 292.25 385.63 293.06 385.91 293.86 386.19 294.67 386.46 295.47 386.73 296.28 387.00 297.08 387.26 297.89 387.51 298.69 387.76 299.50 388.00" stroke="#000" stroke-width="1.5" fill="none" stroke-dasharray="4.5 3.8"/>
<rect x="67.8" y="1.0" width="182.00" height="171.30" fill="none" stroke="#c4c4c4" stroke-width="0.6"/>
<path d="M71.60 172.3v1.2M104.55 172.3v1.2M137.50 172.3v1.2M170.45 172.3v1.2M203.40 172.3v1.2M236.35 172.3v1.2M67.8 164.80h-1.2M67.8 149.22h-1.2M67.8 133.64h-1.2M67.8 118.06h-1.2M67.8 102.48h-1.2M67.8 86.90h-1.2M67.8 71.32h-1.2M67.8 55.74h-1.2M67.8 40.16h-1.2M67.8 24.58h-1.2M67.8 9.00h-1.2" stroke="#bdbdbd" stroke-width="0.5" fill="none"/>
<text font-size="5.2" text-anchor="middle" fill="#4d4d4d" transform="translate(71.60 179.10)" stroke="#4d4d4d" stroke-width="0.06">-3</text>
<text font-size="5.2" text-anchor="middle" fill="#4d4d4d" transform="translate(104.55 179.10)" stroke="#4d4d4d" stroke-width="0.06">-2</text>
<text font-size="5.2" text-anchor="middle" fill="#4d4d4d" transform="translate(137.50 179.10)" stroke="#4d4d4d" stroke-width="0.06">-1</text>
<text font-size="5.2" text-anchor="middle" fill="#4d4d4d" transform="translate(170.45 179.10)" stroke="#4d4d4d" stroke-width="0.06">0</text>
<text font-size="5.2" text-anchor="middle" fill="#4d4d4d" transform="translate(203.40 179.10)" stroke="#4d4d4d" stroke-width="0.06">1</text>
<text font-size="5.2" text-anchor="middle" fill="#4d4d4d" transform="translate(236.35 179.10)" stroke="#4d4d4d" stroke-width="0.06">2</text>
<text font-size="5.2" text-anchor="end" fill="#4d4d4d" transform="translate(65.70 167.37)" stroke="#4d4d4d" stroke-width="0.06">0</text>
<text font-size="5.2" text-anchor="end" fill="#4d4d4d" transform="translate(65.70 151.79)" stroke="#4d4d4d" stroke-width="0.06">10</text>
<text font-size="5.2" text-anchor="end" fill="#4d4d4d" transform="translate(65.70 136.21)" stroke="#4d4d4d" stroke-width="0.06">20</text>
<text font-size="5.2" text-anchor="end" fill="#4d4d4d" transform="translate(65.70 120.63)" stroke="#4d4d4d" stroke-width="0.06">30</text>
<text font-size="5.2" text-anchor="end" fill="#4d4d4d" transform="translate(65.70 105.05)" stroke="#4d4d4d" stroke-width="0.06">40</text>
<text font-size="5.2" text-anchor="end" fill="#4d4d4d" transform="translate(65.70 89.47)" stroke="#4d4d4d" stroke-width="0.06">50</text>
<text font-size="5.2" text-anchor="end" fill="#4d4d4d" transform="translate(65.70 73.89)" stroke="#4d4d4d" stroke-width="0.06">60</text>
<text font-size="5.2" text-anchor="end" fill="#4d4d4d" transform="translate(65.70 58.31)" stroke="#4d4d4d" stroke-width="0.06">70</text>
<text font-size="5.2" text-anchor="end" fill="#4d4d4d" transform="translate(65.70 42.73)" stroke="#4d4d4d" stroke-width="0.06">80</text>
<text font-size="5.2" text-anchor="end" fill="#4d4d4d" transform="translate(65.70 27.15)" stroke="#4d4d4d" stroke-width="0.06">90</text>
<text font-size="5.2" text-anchor="end" fill="#4d4d4d" transform="translate(65.70 11.57)" stroke="#4d4d4d" stroke-width="0.06">100</text>
<rect x="20.5" y="200.0" width="92.20" height="93.10" fill="none" stroke="#c4c4c4" stroke-width="0.6"/>
<path d="M21.80 293.1v1.2M38.95 293.1v1.2M56.10 293.1v1.2M73.25 293.1v1.2M90.40 293.1v1.2M107.55 293.1v1.2M20.5 289.00h-1.2M20.5 280.52h-1.2M20.5 272.04h-1.2M20.5 263.56h-1.2M20.5 255.08h-1.2M20.5 246.60h-1.2M20.5 238.12h-1.2M20.5 229.64h-1.2M20.5 221.16h-1.2M20.5 212.68h-1.2M20.5 204.20h-1.2" stroke="#bdbdbd" stroke-width="0.5" fill="none"/>
<text font-size="5.2" text-anchor="middle" fill="#4d4d4d" transform="translate(21.80 300.40)" stroke="#4d4d4d" stroke-width="0.06">-3</text>
<text font-size="5.2" text-anchor="middle" fill="#4d4d4d" transform="translate(38.95 300.40)" stroke="#4d4d4d" stroke-width="0.06">-2</text>
<text font-size="5.2" text-anchor="middle" fill="#4d4d4d" transform="translate(56.10 300.40)" stroke="#4d4d4d" stroke-width="0.06">-1</text>
<text font-size="5.2" text-anchor="middle" fill="#4d4d4d" transform="translate(73.25 300.40)" stroke="#4d4d4d" stroke-width="0.06">0</text>
<text font-size="5.2" text-anchor="middle" fill="#4d4d4d" transform="translate(90.40 300.40)" stroke="#4d4d4d" stroke-width="0.06">1</text>
<text font-size="5.2" text-anchor="middle" fill="#4d4d4d" transform="translate(107.55 300.40)" stroke="#4d4d4d" stroke-width="0.06">2</text>
<text font-size="5.2" text-anchor="end" fill="#4d4d4d" transform="translate(17.80 291.57)" stroke="#4d4d4d" stroke-width="0.06">0</text>
<text font-size="5.2" text-anchor="end" fill="#4d4d4d" transform="translate(17.80 283.09)" stroke="#4d4d4d" stroke-width="0.06">10</text>
<text font-size="5.2" text-anchor="end" fill="#4d4d4d" transform="translate(17.80 274.61)" stroke="#4d4d4d" stroke-width="0.06">20</text>
<text font-size="5.2" text-anchor="end" fill="#4d4d4d" transform="translate(17.80 266.13)" stroke="#4d4d4d" stroke-width="0.06">30</text>
<text font-size="5.2" text-anchor="end" fill="#4d4d4d" transform="translate(17.80 257.65)" stroke="#4d4d4d" stroke-width="0.06">40</text>
<text font-size="5.2" text-anchor="end" fill="#4d4d4d" transform="translate(17.80 249.17)" stroke="#4d4d4d" stroke-width="0.06">50</text>
<text font-size="5.2" text-anchor="end" fill="#4d4d4d" transform="translate(17.80 240.69)" stroke="#4d4d4d" stroke-width="0.06">60</text>
<text font-size="5.2" text-anchor="end" fill="#4d4d4d" transform="translate(17.80 232.21)" stroke="#4d4d4d" stroke-width="0.06">70</text>
<text font-size="5.2" text-anchor="end" fill="#4d4d4d" transform="translate(17.80 223.73)" stroke="#4d4d4d" stroke-width="0.06">80</text>
<text font-size="5.2" text-anchor="end" fill="#4d4d4d" transform="translate(17.80 215.25)" stroke="#4d4d4d" stroke-width="0.06">90</text>
<text font-size="5.2" text-anchor="end" fill="#4d4d4d" transform="translate(17.80 206.77)" stroke="#4d4d4d" stroke-width="0.06">100</text>
<rect x="130.3" y="200.0" width="100.30" height="93.10" fill="none" stroke="#c4c4c4" stroke-width="0.6"/>
<path d="M131.90 293.1v1.2M150.20 293.1v1.2M168.50 293.1v1.2M186.80 293.1v1.2M205.10 293.1v1.2M223.40 293.1v1.2M130.3 289.00h-1.2M130.3 280.52h-1.2M130.3 272.04h-1.2M130.3 263.56h-1.2M130.3 255.08h-1.2M130.3 246.60h-1.2M130.3 238.12h-1.2M130.3 229.64h-1.2M130.3 221.16h-1.2M130.3 212.68h-1.2M130.3 204.20h-1.2" stroke="#bdbdbd" stroke-width="0.5" fill="none"/>
<text font-size="5.2" text-anchor="middle" fill="#4d4d4d" transform="translate(131.90 300.40)" stroke="#4d4d4d" stroke-width="0.06">-3</text>
<text font-size="5.2" text-anchor="middle" fill="#4d4d4d" transform="translate(150.20 300.40)" stroke="#4d4d4d" stroke-width="0.06">-2</text>
<text font-size="5.2" text-anchor="middle" fill="#4d4d4d" transform="translate(168.50 300.40)" stroke="#4d4d4d" stroke-width="0.06">-1</text>
<text font-size="5.2" text-anchor="middle" fill="#4d4d4d" transform="translate(186.80 300.40)" stroke="#4d4d4d" stroke-width="0.06">0</text>
<text font-size="5.2" text-anchor="middle" fill="#4d4d4d" transform="translate(205.10 300.40)" stroke="#4d4d4d" stroke-width="0.06">1</text>
<text font-size="5.2" text-anchor="middle" fill="#4d4d4d" transform="translate(223.40 300.40)" stroke="#4d4d4d" stroke-width="0.06">2</text>
<text font-size="5.2" text-anchor="end" fill="#4d4d4d" transform="translate(127.60 291.57)" stroke="#4d4d4d" stroke-width="0.06">0</text>
<text font-size="5.2" text-anchor="end" fill="#4d4d4d" transform="translate(127.60 283.09)" stroke="#4d4d4d" stroke-width="0.06">10</text>
<text font-size="5.2" text-anchor="end" fill="#4d4d4d" transform="translate(127.60 274.61)" stroke="#4d4d4d" stroke-width="0.06">20</text>
<text font-size="5.2" text-anchor="end" fill="#4d4d4d" transform="translate(127.60 266.13)" stroke="#4d4d4d" stroke-width="0.06">30</text>
<text font-size="5.2" text-anchor="end" fill="#4d4d4d" transform="translate(127.60 257.65)" stroke="#4d4d4d" stroke-width="0.06">40</text>
<text font-size="5.2" text-anchor="end" fill="#4d4d4d" transform="translate(127.60 249.17)" stroke="#4d4d4d" stroke-width="0.06">50</text>
<text font-size="5.2" text-anchor="end" fill="#4d4d4d" transform="translate(127.60 240.69)" stroke="#4d4d4d" stroke-width="0.06">60</text>
<text font-size="5.2" text-anchor="end" fill="#4d4d4d" transform="translate(127.60 232.21)" stroke="#4d4d4d" stroke-width="0.06">70</text>
<text font-size="5.2" text-anchor="end" fill="#4d4d4d" transform="translate(127.60 223.73)" stroke="#4d4d4d" stroke-width="0.06">80</text>
<text font-size="5.2" text-anchor="end" fill="#4d4d4d" transform="translate(127.60 215.25)" stroke="#4d4d4d" stroke-width="0.06">90</text>
<text font-size="5.2" text-anchor="end" fill="#4d4d4d" transform="translate(127.60 206.77)" stroke="#4d4d4d" stroke-width="0.06">100</text>
<rect x="247.2" y="200.0" width="100.50" height="93.10" fill="none" stroke="#c4c4c4" stroke-width="0.6"/>
<path d="M248.60 293.1v1.2M267.10 293.1v1.2M285.60 293.1v1.2M304.10 293.1v1.2M322.60 293.1v1.2M341.10 293.1v1.2M247.2 289.00h-1.2M247.2 280.52h-1.2M247.2 272.04h-1.2M247.2 263.56h-1.2M247.2 255.08h-1.2M247.2 246.60h-1.2M247.2 238.12h-1.2M247.2 229.64h-1.2M247.2 221.16h-1.2M247.2 212.68h-1.2M247.2 204.20h-1.2" stroke="#bdbdbd" stroke-width="0.5" fill="none"/>
<text font-size="5.2" text-anchor="middle" fill="#4d4d4d" transform="translate(248.60 300.40)" stroke="#4d4d4d" stroke-width="0.06">-3</text>
<text font-size="5.2" text-anchor="middle" fill="#4d4d4d" transform="translate(267.10 300.40)" stroke="#4d4d4d" stroke-width="0.06">-2</text>
<text font-size="5.2" text-anchor="middle" fill="#4d4d4d" transform="translate(285.60 300.40)" stroke="#4d4d4d" stroke-width="0.06">-1</text>
<text font-size="5.2" text-anchor="middle" fill="#4d4d4d" transform="translate(304.10 300.40)" stroke="#4d4d4d" stroke-width="0.06">0</text>
<text font-size="5.2" text-anchor="middle" fill="#4d4d4d" transform="translate(322.60 300.40)" stroke="#4d4d4d" stroke-width="0.06">1</text>
<text font-size="5.2" text-anchor="middle" fill="#4d4d4d" transform="translate(341.10 300.40)" stroke="#4d4d4d" stroke-width="0.06">2</text>
<text font-size="5.2" text-anchor="end" fill="#4d4d4d" transform="translate(244.50 291.57)" stroke="#4d4d4d" stroke-width="0.06">0</text>
<text font-size="5.2" text-anchor="end" fill="#4d4d4d" transform="translate(244.50 283.09)" stroke="#4d4d4d" stroke-width="0.06">10</text>
<text font-size="5.2" text-anchor="end" fill="#4d4d4d" transform="translate(244.50 274.61)" stroke="#4d4d4d" stroke-width="0.06">20</text>
<text font-size="5.2" text-anchor="end" fill="#4d4d4d" transform="translate(244.50 266.13)" stroke="#4d4d4d" stroke-width="0.06">30</text>
<text font-size="5.2" text-anchor="end" fill="#4d4d4d" transform="translate(244.50 257.65)" stroke="#4d4d4d" stroke-width="0.06">40</text>
<text font-size="5.2" text-anchor="end" fill="#4d4d4d" transform="translate(244.50 249.17)" stroke="#4d4d4d" stroke-width="0.06">50</text>
<text font-size="5.2" text-anchor="end" fill="#4d4d4d" transform="translate(244.50 240.69)" stroke="#4d4d4d" stroke-width="0.06">60</text>
<text font-size="5.2" text-anchor="end" fill="#4d4d4d" transform="translate(244.50 232.21)" stroke="#4d4d4d" stroke-width="0.06">70</text>
<text font-size="5.2" text-anchor="end" fill="#4d4d4d" transform="translate(244.50 223.73)" stroke="#4d4d4d" stroke-width="0.06">80</text>
<text font-size="5.2" text-anchor="end" fill="#4d4d4d" transform="translate(244.50 215.25)" stroke="#4d4d4d" stroke-width="0.06">90</text>
<text font-size="5.2" text-anchor="end" fill="#4d4d4d" transform="translate(244.50 206.77)" stroke="#4d4d4d" stroke-width="0.06">100</text>
<rect x="20.5" y="307.4" width="92.20" height="85.20" fill="none" stroke="#c4c4c4" stroke-width="0.6"/>
<path d="M21.80 392.6v1.2M38.95 392.6v1.2M56.10 392.6v1.2M73.25 392.6v1.2M90.40 392.6v1.2M107.55 392.6v1.2M20.5 389.00h-1.2M20.5 381.23h-1.2M20.5 373.46h-1.2M20.5 365.69h-1.2M20.5 357.92h-1.2M20.5 350.15h-1.2M20.5 342.38h-1.2M20.5 334.61h-1.2M20.5 326.84h-1.2M20.5 319.07h-1.2M20.5 311.30h-1.2" stroke="#bdbdbd" stroke-width="0.5" fill="none"/>
<text font-size="5.2" text-anchor="middle" fill="#4d4d4d" transform="translate(21.80 399.90)" stroke="#4d4d4d" stroke-width="0.06">-3</text>
<text font-size="5.2" text-anchor="middle" fill="#4d4d4d" transform="translate(38.95 399.90)" stroke="#4d4d4d" stroke-width="0.06">-2</text>
<text font-size="5.2" text-anchor="middle" fill="#4d4d4d" transform="translate(56.10 399.90)" stroke="#4d4d4d" stroke-width="0.06">-1</text>
<text font-size="5.2" text-anchor="middle" fill="#4d4d4d" transform="translate(73.25 399.90)" stroke="#4d4d4d" stroke-width="0.06">0</text>
<text font-size="5.2" text-anchor="middle" fill="#4d4d4d" transform="translate(90.40 399.90)" stroke="#4d4d4d" stroke-width="0.06">1</text>
<text font-size="5.2" text-anchor="middle" fill="#4d4d4d" transform="translate(107.55 399.90)" stroke="#4d4d4d" stroke-width="0.06">2</text>
<text font-size="5.2" text-anchor="end" fill="#4d4d4d" transform="translate(17.80 391.57)" stroke="#4d4d4d" stroke-width="0.06">0</text>
<text font-size="5.2" text-anchor="end" fill="#4d4d4d" transform="translate(17.80 383.80)" stroke="#4d4d4d" stroke-width="0.06">10</text>
<text font-size="5.2" text-anchor="end" fill="#4d4d4d" transform="translate(17.80 376.03)" stroke="#4d4d4d" stroke-width="0.06">20</text>
<text font-size="5.2" text-anchor="end" fill="#4d4d4d" transform="translate(17.80 368.26)" stroke="#4d4d4d" stroke-width="0.06">30</text>
<text font-size="5.2" text-anchor="end" fill="#4d4d4d" transform="translate(17.80 360.49)" stroke="#4d4d4d" stroke-width="0.06">40</text>
<text font-size="5.2" text-anchor="end" fill="#4d4d4d" transform="translate(17.80 352.72)" stroke="#4d4d4d" stroke-width="0.06">50</text>
<text font-size="5.2" text-anchor="end" fill="#4d4d4d" transform="translate(17.80 344.95)" stroke="#4d4d4d" stroke-width="0.06">60</text>
<text font-size="5.2" text-anchor="end" fill="#4d4d4d" transform="translate(17.80 337.18)" stroke="#4d4d4d" stroke-width="0.06">70</text>
<text font-size="5.2" text-anchor="end" fill="#4d4d4d" transform="translate(17.80 329.41)" stroke="#4d4d4d" stroke-width="0.06">80</text>
<text font-size="5.2" text-anchor="end" fill="#4d4d4d" transform="translate(17.80 321.64)" stroke="#4d4d4d" stroke-width="0.06">90</text>
<text font-size="5.2" text-anchor="end" fill="#4d4d4d" transform="translate(17.80 313.87)" stroke="#4d4d4d" stroke-width="0.06">100</text>
<rect x="130.3" y="307.4" width="100.30" height="85.20" fill="none" stroke="#c4c4c4" stroke-width="0.6"/>
<path d="M131.90 392.6v1.2M150.20 392.6v1.2M168.50 392.6v1.2M186.80 392.6v1.2M205.10 392.6v1.2M223.40 392.6v1.2M130.3 389.00h-1.2M130.3 381.23h-1.2M130.3 373.46h-1.2M130.3 365.69h-1.2M130.3 357.92h-1.2M130.3 350.15h-1.2M130.3 342.38h-1.2M130.3 334.61h-1.2M130.3 326.84h-1.2M130.3 319.07h-1.2M130.3 311.30h-1.2" stroke="#bdbdbd" stroke-width="0.5" fill="none"/>
<text font-size="5.2" text-anchor="middle" fill="#4d4d4d" transform="translate(131.90 399.90)" stroke="#4d4d4d" stroke-width="0.06">-3</text>
<text font-size="5.2" text-anchor="middle" fill="#4d4d4d" transform="translate(150.20 399.90)" stroke="#4d4d4d" stroke-width="0.06">-2</text>
<text font-size="5.2" text-anchor="middle" fill="#4d4d4d" transform="translate(168.50 399.90)" stroke="#4d4d4d" stroke-width="0.06">-1</text>
<text font-size="5.2" text-anchor="middle" fill="#4d4d4d" transform="translate(186.80 399.90)" stroke="#4d4d4d" stroke-width="0.06">0</text>
<text font-size="5.2" text-anchor="middle" fill="#4d4d4d" transform="translate(205.10 399.90)" stroke="#4d4d4d" stroke-width="0.06">1</text>
<text font-size="5.2" text-anchor="middle" fill="#4d4d4d" transform="translate(223.40 399.90)" stroke="#4d4d4d" stroke-width="0.06">2</text>
<text font-size="5.2" text-anchor="end" fill="#4d4d4d" transform="translate(127.60 391.57)" stroke="#4d4d4d" stroke-width="0.06">0</text>
<text font-size="5.2" text-anchor="end" fill="#4d4d4d" transform="translate(127.60 383.80)" stroke="#4d4d4d" stroke-width="0.06">10</text>
<text font-size="5.2" text-anchor="end" fill="#4d4d4d" transform="translate(127.60 376.03)" stroke="#4d4d4d" stroke-width="0.06">20</text>
<text font-size="5.2" text-anchor="end" fill="#4d4d4d" transform="translate(127.60 368.26)" stroke="#4d4d4d" stroke-width="0.06">30</text>
<text font-size="5.2" text-anchor="end" fill="#4d4d4d" transform="translate(127.60 360.49)" stroke="#4d4d4d" stroke-width="0.06">40</text>
<text font-size="5.2" text-anchor="end" fill="#4d4d4d" transform="translate(127.60 352.72)" stroke="#4d4d4d" stroke-width="0.06">50</text>
<text font-size="5.2" text-anchor="end" fill="#4d4d4d" transform="translate(127.60 344.95)" stroke="#4d4d4d" stroke-width="0.06">60</text>
<text font-size="5.2" text-anchor="end" fill="#4d4d4d" transform="translate(127.60 337.18)" stroke="#4d4d4d" stroke-width="0.06">70</text>
<text font-size="5.2" text-anchor="end" fill="#4d4d4d" transform="translate(127.60 329.41)" stroke="#4d4d4d" stroke-width="0.06">80</text>
<text font-size="5.2" text-anchor="end" fill="#4d4d4d" transform="translate(127.60 321.64)" stroke="#4d4d4d" stroke-width="0.06">90</text>
<text font-size="5.2" text-anchor="end" fill="#4d4d4d" transform="translate(127.60 313.87)" stroke="#4d4d4d" stroke-width="0.06">100</text>
<rect x="247.2" y="307.4" width="100.50" height="85.20" fill="none" stroke="#c4c4c4" stroke-width="0.6"/>
<path d="M248.60 392.6v1.2M267.10 392.6v1.2M285.60 392.6v1.2M304.10 392.6v1.2M322.60 392.6v1.2M341.10 392.6v1.2M247.2 389.00h-1.2M247.2 381.23h-1.2M247.2 373.46h-1.2M247.2 365.69h-1.2M247.2 357.92h-1.2M247.2 350.15h-1.2M247.2 342.38h-1.2M247.2 334.61h-1.2M247.2 326.84h-1.2M247.2 319.07h-1.2M247.2 311.30h-1.2" stroke="#bdbdbd" stroke-width="0.5" fill="none"/>
<text font-size="5.2" text-anchor="middle" fill="#4d4d4d" transform="translate(248.60 399.90)" stroke="#4d4d4d" stroke-width="0.06">-3</text>
<text font-size="5.2" text-anchor="middle" fill="#4d4d4d" transform="translate(267.10 399.90)" stroke="#4d4d4d" stroke-width="0.06">-2</text>
<text font-size="5.2" text-anchor="middle" fill="#4d4d4d" transform="translate(285.60 399.90)" stroke="#4d4d4d" stroke-width="0.06">-1</text>
<text font-size="5.2" text-anchor="middle" fill="#4d4d4d" transform="translate(304.10 399.90)" stroke="#4d4d4d" stroke-width="0.06">0</text>
<text font-size="5.2" text-anchor="middle" fill="#4d4d4d" transform="translate(322.60 399.90)" stroke="#4d4d4d" stroke-width="0.06">1</text>
<text font-size="5.2" text-anchor="middle" fill="#4d4d4d" transform="translate(341.10 399.90)" stroke="#4d4d4d" stroke-width="0.06">2</text>
<text font-size="5.2" text-anchor="end" fill="#4d4d4d" transform="translate(244.50 391.57)" stroke="#4d4d4d" stroke-width="0.06">0</text>
<text font-size="5.2" text-anchor="end" fill="#4d4d4d" transform="translate(244.50 383.80)" stroke="#4d4d4d" stroke-width="0.06">10</text>
<text font-size="5.2" text-anchor="end" fill="#4d4d4d" transform="translate(244.50 376.03)" stroke="#4d4d4d" stroke-width="0.06">20</text>
<text font-size="5.2" text-anchor="end" fill="#4d4d4d" transform="translate(244.50 368.26)" stroke="#4d4d4d" stroke-width="0.06">30</text>
<text font-size="5.2" text-anchor="end" fill="#4d4d4d" transform="translate(244.50 360.49)" stroke="#4d4d4d" stroke-width="0.06">40</text>
<text font-size="5.2" text-anchor="end" fill="#4d4d4d" transform="translate(244.50 352.72)" stroke="#4d4d4d" stroke-width="0.06">50</text>
<text font-size="5.2" text-anchor="end" fill="#4d4d4d" transform="translate(244.50 344.95)" stroke="#4d4d4d" stroke-width="0.06">60</text>
<text font-size="5.2" text-anchor="end" fill="#4d4d4d" transform="translate(244.50 337.18)" stroke="#4d4d4d" stroke-width="0.06">70</text>
<text font-size="5.2" text-anchor="end" fill="#4d4d4d" transform="translate(244.50 329.41)" stroke="#4d4d4d" stroke-width="0.06">80</text>
<text font-size="5.2" text-anchor="end" fill="#4d4d4d" transform="translate(244.50 321.64)" stroke="#4d4d4d" stroke-width="0.06">90</text>
<text font-size="5.2" text-anchor="end" fill="#4d4d4d" transform="translate(244.50 313.87)" stroke="#4d4d4d" stroke-width="0.06">100</text>
<text font-size="8.2" text-anchor="start" fill="#1a1a1a" transform="translate(44.00 6.90)" stroke="#1a1a1a" stroke-width="0.25">(a)</text>
<text font-size="8.2" text-anchor="start" fill="#1a1a1a" transform="translate(0.30 197.40)" stroke="#1a1a1a" stroke-width="0.25">(b)</text>
<text font-size="5.7" text-anchor="middle" fill="#1a1a1a" transform="translate(159.00 186.30) scale(1 1.05)" stroke="#1a1a1a" stroke-width="0.12">Income</text>
<text font-size="5.6" text-anchor="middle" fill="#1a1a1a" transform="translate(55.40 86.50) rotate(-90) scale(1 1.1)" stroke="#1a1a1a" stroke-width="0.12">Female Labor Force Participation</text>
<text font-size="6.2" text-anchor="middle" fill="#1a1a1a" transform="translate(6.60 246.60) rotate(-90)" stroke="#1a1a1a" stroke-width="0.12">FLFP</text>
<text font-size="6.2" text-anchor="middle" fill="#1a1a1a" transform="translate(6.60 350.00) rotate(-90)" stroke="#1a1a1a" stroke-width="0.12">FLFP</text>
<text font-size="5.9" text-anchor="middle" fill="#1a1a1a" transform="translate(66.60 407.00) scale(1 1.05)" stroke="#1a1a1a" stroke-width="0.12">Income</text>
<text font-size="5.9" text-anchor="middle" fill="#1a1a1a" transform="translate(180.40 407.00) scale(1 1.05)" stroke="#1a1a1a" stroke-width="0.12">Income</text>
<text font-size="5.9" text-anchor="middle" fill="#1a1a1a" transform="translate(297.40 407.00) scale(1 1.05)" stroke="#1a1a1a" stroke-width="0.12">Income</text>
<text font-size="7.7" text-anchor="middle" fill="#111" font-weight="bold" transform="translate(75.00 211.60) scale(1 1.12)" stroke="#111" stroke-width="0.2">Sunni families</text>
<text font-size="7.7" text-anchor="middle" fill="#111" font-weight="bold" transform="translate(184.90 211.60) scale(1 1.12)" stroke="#111" stroke-width="0.2">Sunni tribes</text>
<text font-size="7.7" text-anchor="middle" fill="#111" font-weight="bold" transform="translate(281.00 211.60) scale(1 1.12)" stroke="#111" stroke-width="0.2">Alawis</text>
<text font-size="7.7" text-anchor="middle" fill="#111" font-weight="bold" transform="translate(60.00 319.00) scale(1 1.12)" stroke="#111" stroke-width="0.2">Christians</text>
<text font-size="7.7" text-anchor="middle" fill="#111" font-weight="bold" transform="translate(166.00 319.00) scale(1 1.12)" stroke="#111" stroke-width="0.2">Druzes</text>
<text font-size="7.7" text-anchor="middle" fill="#111" font-weight="bold" transform="translate(280.30 319.00) scale(1 1.12)" stroke="#111" stroke-width="0.2">Kurds</text>
<text font-size="5.7" text-anchor="start" fill="#222" transform="translate(257.70 53.30) scale(1 1.08)" stroke="#222" stroke-width="0.06">Ethnicity</text>
<circle cx="261.7" cy="60.90" r="3.2" fill="#E6B800"/>
<text font-size="4.7" text-anchor="start" fill="#222" transform="translate(269.80 62.65) scale(1 1.1)" stroke="#222" stroke-width="0.05">Sunni families</text>
<circle cx="261.7" cy="69.75" r="3.2" fill="#33A11C"/>
<text font-size="4.7" text-anchor="start" fill="#222" transform="translate(269.80 71.50) scale(1 1.1)" stroke="#222" stroke-width="0.05">Alawi</text>
<circle cx="261.7" cy="78.60" r="3.2" fill="#A50F15"/>
<text font-size="4.7" text-anchor="start" fill="#222" transform="translate(269.80 80.35) scale(1 1.1)" stroke="#222" stroke-width="0.05">Christian</text>
<circle cx="261.7" cy="87.45" r="3.2" fill="#8B3E3E"/>
<text font-size="4.7" text-anchor="start" fill="#222" transform="translate(269.80 89.20) scale(1 1.1)" stroke="#222" stroke-width="0.05">Druze</text>
<circle cx="261.7" cy="96.30" r="3.2" fill="#6AAEF2"/>
<text font-size="4.7" text-anchor="start" fill="#222" transform="translate(269.80 98.05) scale(1 1.1)" stroke="#222" stroke-width="0.05">Kurdish</text>
<circle cx="261.7" cy="105.15" r="3.2" fill="#606060"/>
<text font-size="4.7" text-anchor="start" fill="#222" transform="translate(269.80 106.90) scale(1 1.1)" stroke="#222" stroke-width="0.05">Mixed</text>
<circle cx="261.7" cy="114.00" r="3.2" fill="#A020F0"/>
<text font-size="4.7" text-anchor="start" fill="#222" transform="translate(269.80 115.75) scale(1 1.1)" stroke="#222" stroke-width="0.05">Other minority</text>
<circle cx="261.7" cy="122.85" r="3.2" fill="#34448A"/>
<text font-size="4.7" text-anchor="start" fill="#222" transform="translate(269.80 124.60) scale(1 1.1)" stroke="#222" stroke-width="0.05">Sunni tribes</text>
<text font-size="5.6" text-anchor="start" fill="#1a1a1a" transform="translate(94.90 421.00)" stroke="#1a1a1a" stroke-width="0.12">Model</text>
<path d="M115.2 419.2H120.6" stroke="#000" stroke-width="1.6"/>
<text font-size="5.1" text-anchor="start" fill="#222" transform="translate(126.30 420.90)" stroke="#222" stroke-width="0.05">Controlling for public sector employment</text>
<path d="M217.6 419.2H225.3" stroke="#000" stroke-width="1.4"/>
<text font-size="5.1" text-anchor="start" fill="#222" transform="translate(229.00 420.90)" stroke="#222" stroke-width="0.05">Unadjusted</text></svg>
</body></html>
